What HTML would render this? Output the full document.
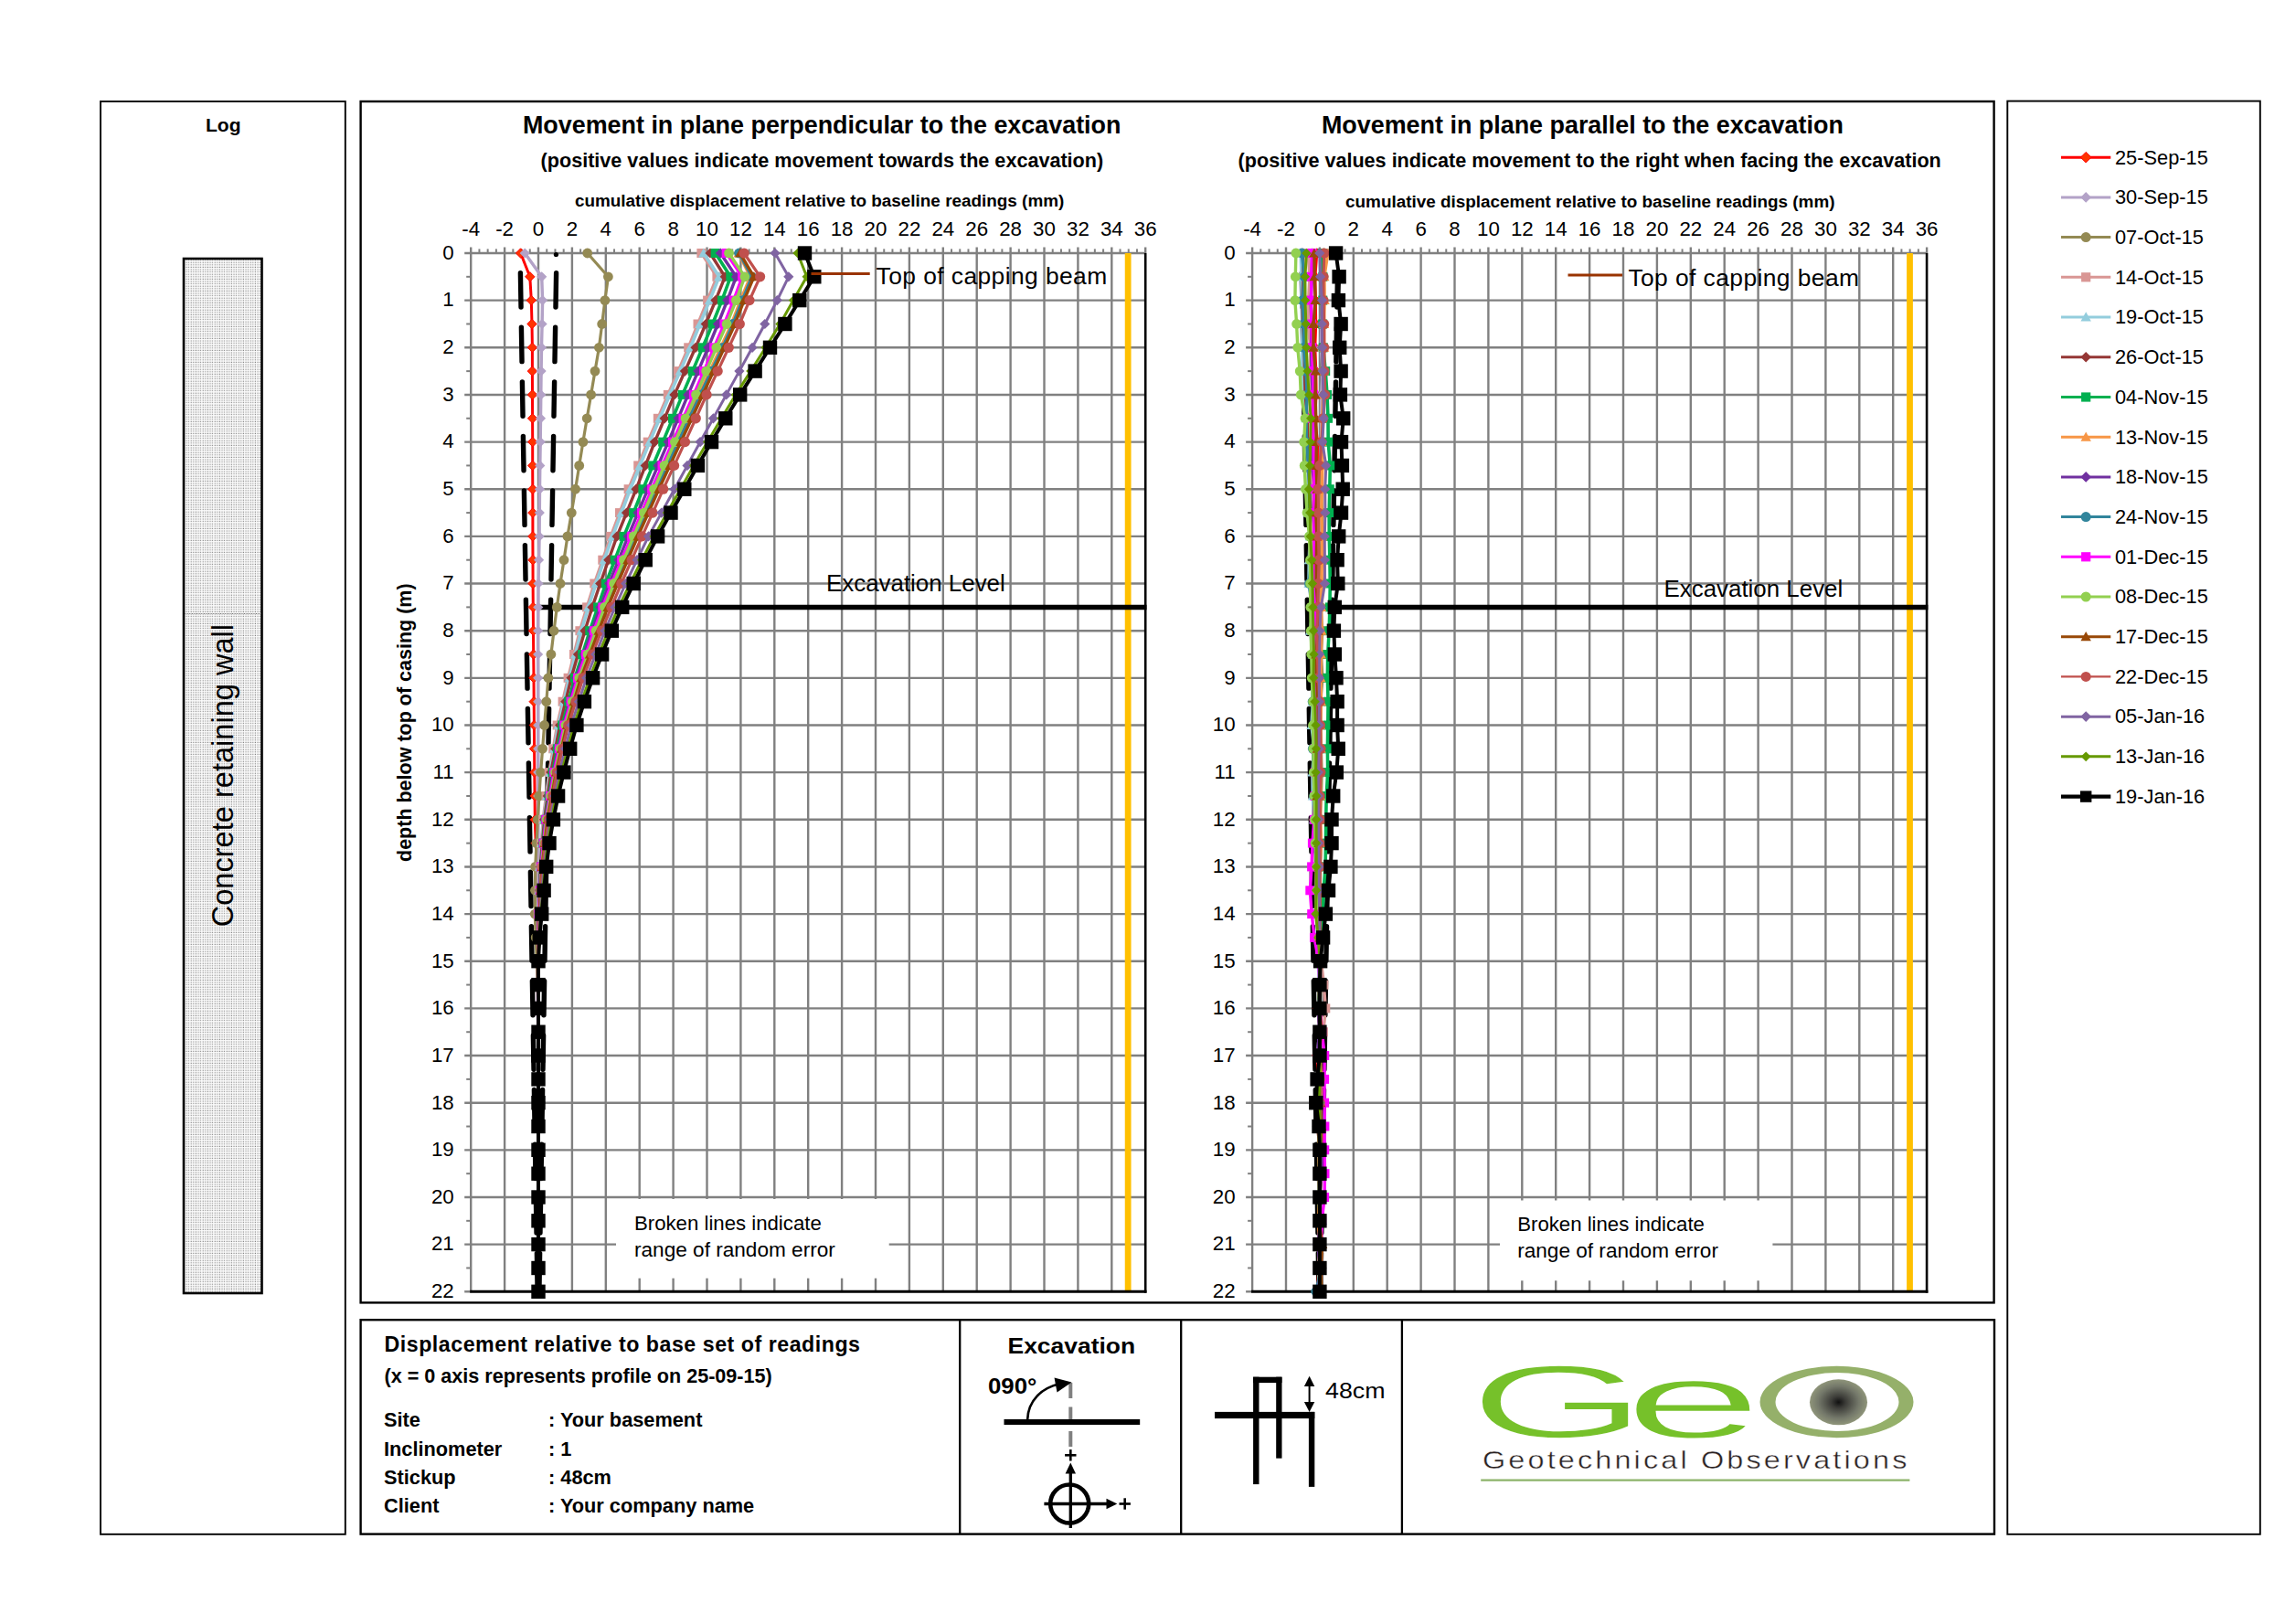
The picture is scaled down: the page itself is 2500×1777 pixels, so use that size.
<!DOCTYPE html>
<html lang="en"><head><meta charset="utf-8"><title>Inclinometer 1 - displacement relative to base set of readings</title>
<style>html,body{margin:0;padding:0;background:#fff}body{width:2500px;height:1777px;overflow:hidden}svg{display:block}</style></head>
<body>
<svg width="2500" height="1777" viewBox="0 0 2500 1777" font-family='"Liberation Sans", sans-serif'>
<defs><pattern id="dots" width="2.6" height="2.6" patternUnits="userSpaceOnUse"><rect width="2.6" height="2.6" fill="#fbfbfb"/><rect x="0.6" y="0.6" width="1.15" height="1.15" fill="#888"/></pattern><radialGradient id="pupil" cx="50%" cy="50%" r="50%"><stop offset="0" stop-color="#111"/><stop offset="0.25" stop-color="#3c3c38"/><stop offset="0.7" stop-color="#74786a"/><stop offset="1" stop-color="#8f957a"/></radialGradient></defs>
<rect x="0.00" y="0.00" width="2500.00" height="1777.00" fill="#fff" stroke="none" stroke-width="0" />
<rect x="110.00" y="111.00" width="267.80" height="1567.80" fill="none" stroke="#000" stroke-width="1.9" />
<rect x="394.60" y="111.00" width="1787.00" height="1314.40" fill="none" stroke="#000" stroke-width="2.4" />
<rect x="2196.30" y="110.60" width="276.50" height="1568.20" fill="none" stroke="#000" stroke-width="1.9" />
<rect x="394.60" y="1444.20" width="1787.40" height="234.40" fill="none" stroke="#000" stroke-width="2.4" />
<line x1="1050.20" y1="1444.20" x2="1050.20" y2="1678.60" stroke="#000" stroke-width="2.3" />
<line x1="1292.20" y1="1444.20" x2="1292.20" y2="1678.60" stroke="#000" stroke-width="2.3" />
<line x1="1533.90" y1="1444.20" x2="1533.90" y2="1678.60" stroke="#000" stroke-width="2.3" />
<text x="244.3" y="144.2" font-size="21" font-weight="bold" text-anchor="middle" fill="#000" >Log</text>
<rect x="201.00" y="283.00" width="85.50" height="1132.00" fill="url(#dots)" stroke="#000" stroke-width="2.6" />
<line x1="202.00" y1="671.50" x2="285.50" y2="671.50" stroke="#777" stroke-width="1.1" stroke-dasharray="1.1 1.5"/>
<text transform="translate(255.4,1014.3) rotate(-90)" font-size="32.6">Concrete retaining wall</text>
<text x="899.2" y="146.0" font-size="26.9" font-weight="bold" text-anchor="middle" fill="#000" >Movement in plane perpendicular to the excavation</text>
<text x="899.4" y="183.1" font-size="21.6" font-weight="bold" text-anchor="middle" fill="#000" >(positive values indicate movement towards the excavation)</text>
<text x="896.6" y="226.3" font-size="18.9" font-weight="bold" text-anchor="middle" fill="#000" >cumulative displacement relative to baseline readings (mm)</text>
<text x="1731.4" y="145.9" font-size="26.9" font-weight="bold" text-anchor="middle" fill="#000" >Movement in plane parallel to the excavation</text>
<text x="1739.2" y="182.9" font-size="21.6" font-weight="bold" text-anchor="middle" fill="#000" >(positive values indicate movement to the right when facing the excavation</text>
<text x="1739.8" y="226.5" font-size="18.9" font-weight="bold" text-anchor="middle" fill="#000" >cumulative displacement relative to baseline readings (mm)</text>
<text transform="translate(450.3,943) rotate(-90)" font-size="21.5" font-weight="bold">depth below top of casing (m)</text>
<line x1="515.20" y1="270.50" x2="515.20" y2="1413.30" stroke="#808080" stroke-width="2.4" />
<line x1="552.10" y1="270.50" x2="552.10" y2="1413.30" stroke="#808080" stroke-width="2.4" />
<line x1="589.00" y1="270.50" x2="589.00" y2="1413.30" stroke="#808080" stroke-width="2.4" />
<line x1="625.90" y1="270.50" x2="625.90" y2="1413.30" stroke="#808080" stroke-width="2.4" />
<line x1="662.80" y1="270.50" x2="662.80" y2="1413.30" stroke="#808080" stroke-width="2.4" />
<line x1="699.70" y1="270.50" x2="699.70" y2="1413.30" stroke="#808080" stroke-width="2.4" />
<line x1="736.60" y1="270.50" x2="736.60" y2="1413.30" stroke="#808080" stroke-width="2.4" />
<line x1="773.50" y1="270.50" x2="773.50" y2="1413.30" stroke="#808080" stroke-width="2.4" />
<line x1="810.40" y1="270.50" x2="810.40" y2="1413.30" stroke="#808080" stroke-width="2.4" />
<line x1="847.30" y1="270.50" x2="847.30" y2="1413.30" stroke="#808080" stroke-width="2.4" />
<line x1="884.20" y1="270.50" x2="884.20" y2="1413.30" stroke="#808080" stroke-width="2.4" />
<line x1="921.10" y1="270.50" x2="921.10" y2="1413.30" stroke="#808080" stroke-width="2.4" />
<line x1="958.00" y1="270.50" x2="958.00" y2="1413.30" stroke="#808080" stroke-width="2.4" />
<line x1="994.90" y1="270.50" x2="994.90" y2="1413.30" stroke="#808080" stroke-width="2.4" />
<line x1="1031.80" y1="270.50" x2="1031.80" y2="1413.30" stroke="#808080" stroke-width="2.4" />
<line x1="1068.70" y1="270.50" x2="1068.70" y2="1413.30" stroke="#808080" stroke-width="2.4" />
<line x1="1105.60" y1="270.50" x2="1105.60" y2="1413.30" stroke="#808080" stroke-width="2.4" />
<line x1="1142.50" y1="270.50" x2="1142.50" y2="1413.30" stroke="#808080" stroke-width="2.4" />
<line x1="1179.40" y1="270.50" x2="1179.40" y2="1413.30" stroke="#808080" stroke-width="2.4" />
<line x1="1216.30" y1="270.50" x2="1216.30" y2="1413.30" stroke="#808080" stroke-width="2.4" />
<line x1="1253.20" y1="270.50" x2="1253.20" y2="277.00" stroke="#808080" stroke-width="2.4" />
<line x1="524.43" y1="272.40" x2="524.43" y2="277.00" stroke="#808080" stroke-width="2.0" />
<line x1="533.65" y1="272.40" x2="533.65" y2="277.00" stroke="#808080" stroke-width="2.0" />
<line x1="542.88" y1="272.40" x2="542.88" y2="277.00" stroke="#808080" stroke-width="2.0" />
<line x1="561.33" y1="272.40" x2="561.33" y2="277.00" stroke="#808080" stroke-width="2.0" />
<line x1="570.55" y1="272.40" x2="570.55" y2="277.00" stroke="#808080" stroke-width="2.0" />
<line x1="579.78" y1="272.40" x2="579.78" y2="277.00" stroke="#808080" stroke-width="2.0" />
<line x1="598.23" y1="272.40" x2="598.23" y2="277.00" stroke="#808080" stroke-width="2.0" />
<line x1="607.45" y1="272.40" x2="607.45" y2="277.00" stroke="#808080" stroke-width="2.0" />
<line x1="616.68" y1="272.40" x2="616.68" y2="277.00" stroke="#808080" stroke-width="2.0" />
<line x1="635.12" y1="272.40" x2="635.12" y2="277.00" stroke="#808080" stroke-width="2.0" />
<line x1="644.35" y1="272.40" x2="644.35" y2="277.00" stroke="#808080" stroke-width="2.0" />
<line x1="653.58" y1="272.40" x2="653.58" y2="277.00" stroke="#808080" stroke-width="2.0" />
<line x1="672.03" y1="272.40" x2="672.03" y2="277.00" stroke="#808080" stroke-width="2.0" />
<line x1="681.25" y1="272.40" x2="681.25" y2="277.00" stroke="#808080" stroke-width="2.0" />
<line x1="690.48" y1="272.40" x2="690.48" y2="277.00" stroke="#808080" stroke-width="2.0" />
<line x1="708.93" y1="272.40" x2="708.93" y2="277.00" stroke="#808080" stroke-width="2.0" />
<line x1="718.15" y1="272.40" x2="718.15" y2="277.00" stroke="#808080" stroke-width="2.0" />
<line x1="727.38" y1="272.40" x2="727.38" y2="277.00" stroke="#808080" stroke-width="2.0" />
<line x1="745.83" y1="272.40" x2="745.83" y2="277.00" stroke="#808080" stroke-width="2.0" />
<line x1="755.05" y1="272.40" x2="755.05" y2="277.00" stroke="#808080" stroke-width="2.0" />
<line x1="764.28" y1="272.40" x2="764.28" y2="277.00" stroke="#808080" stroke-width="2.0" />
<line x1="782.73" y1="272.40" x2="782.73" y2="277.00" stroke="#808080" stroke-width="2.0" />
<line x1="791.95" y1="272.40" x2="791.95" y2="277.00" stroke="#808080" stroke-width="2.0" />
<line x1="801.17" y1="272.40" x2="801.17" y2="277.00" stroke="#808080" stroke-width="2.0" />
<line x1="819.62" y1="272.40" x2="819.62" y2="277.00" stroke="#808080" stroke-width="2.0" />
<line x1="828.85" y1="272.40" x2="828.85" y2="277.00" stroke="#808080" stroke-width="2.0" />
<line x1="838.08" y1="272.40" x2="838.08" y2="277.00" stroke="#808080" stroke-width="2.0" />
<line x1="856.53" y1="272.40" x2="856.53" y2="277.00" stroke="#808080" stroke-width="2.0" />
<line x1="865.75" y1="272.40" x2="865.75" y2="277.00" stroke="#808080" stroke-width="2.0" />
<line x1="874.98" y1="272.40" x2="874.98" y2="277.00" stroke="#808080" stroke-width="2.0" />
<line x1="893.42" y1="272.40" x2="893.42" y2="277.00" stroke="#808080" stroke-width="2.0" />
<line x1="902.65" y1="272.40" x2="902.65" y2="277.00" stroke="#808080" stroke-width="2.0" />
<line x1="911.88" y1="272.40" x2="911.88" y2="277.00" stroke="#808080" stroke-width="2.0" />
<line x1="930.33" y1="272.40" x2="930.33" y2="277.00" stroke="#808080" stroke-width="2.0" />
<line x1="939.55" y1="272.40" x2="939.55" y2="277.00" stroke="#808080" stroke-width="2.0" />
<line x1="948.78" y1="272.40" x2="948.78" y2="277.00" stroke="#808080" stroke-width="2.0" />
<line x1="967.23" y1="272.40" x2="967.23" y2="277.00" stroke="#808080" stroke-width="2.0" />
<line x1="976.45" y1="272.40" x2="976.45" y2="277.00" stroke="#808080" stroke-width="2.0" />
<line x1="985.67" y1="272.40" x2="985.67" y2="277.00" stroke="#808080" stroke-width="2.0" />
<line x1="1004.12" y1="272.40" x2="1004.12" y2="277.00" stroke="#808080" stroke-width="2.0" />
<line x1="1013.35" y1="272.40" x2="1013.35" y2="277.00" stroke="#808080" stroke-width="2.0" />
<line x1="1022.58" y1="272.40" x2="1022.58" y2="277.00" stroke="#808080" stroke-width="2.0" />
<line x1="1041.03" y1="272.40" x2="1041.03" y2="277.00" stroke="#808080" stroke-width="2.0" />
<line x1="1050.25" y1="272.40" x2="1050.25" y2="277.00" stroke="#808080" stroke-width="2.0" />
<line x1="1059.47" y1="272.40" x2="1059.47" y2="277.00" stroke="#808080" stroke-width="2.0" />
<line x1="1077.93" y1="272.40" x2="1077.93" y2="277.00" stroke="#808080" stroke-width="2.0" />
<line x1="1087.15" y1="272.40" x2="1087.15" y2="277.00" stroke="#808080" stroke-width="2.0" />
<line x1="1096.38" y1="272.40" x2="1096.38" y2="277.00" stroke="#808080" stroke-width="2.0" />
<line x1="1114.83" y1="272.40" x2="1114.83" y2="277.00" stroke="#808080" stroke-width="2.0" />
<line x1="1124.05" y1="272.40" x2="1124.05" y2="277.00" stroke="#808080" stroke-width="2.0" />
<line x1="1133.28" y1="272.40" x2="1133.28" y2="277.00" stroke="#808080" stroke-width="2.0" />
<line x1="1151.72" y1="272.40" x2="1151.72" y2="277.00" stroke="#808080" stroke-width="2.0" />
<line x1="1160.95" y1="272.40" x2="1160.95" y2="277.00" stroke="#808080" stroke-width="2.0" />
<line x1="1170.18" y1="272.40" x2="1170.18" y2="277.00" stroke="#808080" stroke-width="2.0" />
<line x1="1188.62" y1="272.40" x2="1188.62" y2="277.00" stroke="#808080" stroke-width="2.0" />
<line x1="1197.85" y1="272.40" x2="1197.85" y2="277.00" stroke="#808080" stroke-width="2.0" />
<line x1="1207.08" y1="272.40" x2="1207.08" y2="277.00" stroke="#808080" stroke-width="2.0" />
<line x1="1225.53" y1="272.40" x2="1225.53" y2="277.00" stroke="#808080" stroke-width="2.0" />
<line x1="1234.75" y1="272.40" x2="1234.75" y2="277.00" stroke="#808080" stroke-width="2.0" />
<line x1="1243.97" y1="272.40" x2="1243.97" y2="277.00" stroke="#808080" stroke-width="2.0" />
<line x1="508.20" y1="277.00" x2="1253.20" y2="277.00" stroke="#808080" stroke-width="2.4" />
<line x1="508.20" y1="328.65" x2="1253.20" y2="328.65" stroke="#808080" stroke-width="2.4" />
<line x1="508.20" y1="380.30" x2="1253.20" y2="380.30" stroke="#808080" stroke-width="2.4" />
<line x1="508.20" y1="431.95" x2="1253.20" y2="431.95" stroke="#808080" stroke-width="2.4" />
<line x1="508.20" y1="483.60" x2="1253.20" y2="483.60" stroke="#808080" stroke-width="2.4" />
<line x1="508.20" y1="535.25" x2="1253.20" y2="535.25" stroke="#808080" stroke-width="2.4" />
<line x1="508.20" y1="586.90" x2="1253.20" y2="586.90" stroke="#808080" stroke-width="2.4" />
<line x1="508.20" y1="638.55" x2="1253.20" y2="638.55" stroke="#808080" stroke-width="2.4" />
<line x1="508.20" y1="690.20" x2="1253.20" y2="690.20" stroke="#808080" stroke-width="2.4" />
<line x1="508.20" y1="741.85" x2="1253.20" y2="741.85" stroke="#808080" stroke-width="2.4" />
<line x1="508.20" y1="793.50" x2="1253.20" y2="793.50" stroke="#808080" stroke-width="2.4" />
<line x1="508.20" y1="845.15" x2="1253.20" y2="845.15" stroke="#808080" stroke-width="2.4" />
<line x1="508.20" y1="896.80" x2="1253.20" y2="896.80" stroke="#808080" stroke-width="2.4" />
<line x1="508.20" y1="948.45" x2="1253.20" y2="948.45" stroke="#808080" stroke-width="2.4" />
<line x1="508.20" y1="1000.10" x2="1253.20" y2="1000.10" stroke="#808080" stroke-width="2.4" />
<line x1="508.20" y1="1051.75" x2="1253.20" y2="1051.75" stroke="#808080" stroke-width="2.4" />
<line x1="508.20" y1="1103.40" x2="1253.20" y2="1103.40" stroke="#808080" stroke-width="2.4" />
<line x1="508.20" y1="1155.05" x2="1253.20" y2="1155.05" stroke="#808080" stroke-width="2.4" />
<line x1="508.20" y1="1206.70" x2="1253.20" y2="1206.70" stroke="#808080" stroke-width="2.4" />
<line x1="508.20" y1="1258.35" x2="1253.20" y2="1258.35" stroke="#808080" stroke-width="2.4" />
<line x1="508.20" y1="1310.00" x2="1253.20" y2="1310.00" stroke="#808080" stroke-width="2.4" />
<line x1="508.20" y1="1361.65" x2="1253.20" y2="1361.65" stroke="#808080" stroke-width="2.4" />
<line x1="508.20" y1="1413.30" x2="515.20" y2="1413.30" stroke="#808080" stroke-width="2.4" />
<line x1="510.20" y1="302.82" x2="515.20" y2="302.82" stroke="#808080" stroke-width="2.0" />
<line x1="510.20" y1="354.48" x2="515.20" y2="354.48" stroke="#808080" stroke-width="2.0" />
<line x1="510.20" y1="406.12" x2="515.20" y2="406.12" stroke="#808080" stroke-width="2.0" />
<line x1="510.20" y1="457.77" x2="515.20" y2="457.77" stroke="#808080" stroke-width="2.0" />
<line x1="510.20" y1="509.42" x2="515.20" y2="509.42" stroke="#808080" stroke-width="2.0" />
<line x1="510.20" y1="561.08" x2="515.20" y2="561.08" stroke="#808080" stroke-width="2.0" />
<line x1="510.20" y1="612.72" x2="515.20" y2="612.72" stroke="#808080" stroke-width="2.0" />
<line x1="510.20" y1="664.38" x2="515.20" y2="664.38" stroke="#808080" stroke-width="2.0" />
<line x1="510.20" y1="716.02" x2="515.20" y2="716.02" stroke="#808080" stroke-width="2.0" />
<line x1="510.20" y1="767.67" x2="515.20" y2="767.67" stroke="#808080" stroke-width="2.0" />
<line x1="510.20" y1="819.32" x2="515.20" y2="819.32" stroke="#808080" stroke-width="2.0" />
<line x1="510.20" y1="870.98" x2="515.20" y2="870.98" stroke="#808080" stroke-width="2.0" />
<line x1="510.20" y1="922.62" x2="515.20" y2="922.62" stroke="#808080" stroke-width="2.0" />
<line x1="510.20" y1="974.27" x2="515.20" y2="974.27" stroke="#808080" stroke-width="2.0" />
<line x1="510.20" y1="1025.92" x2="515.20" y2="1025.92" stroke="#808080" stroke-width="2.0" />
<line x1="510.20" y1="1077.57" x2="515.20" y2="1077.57" stroke="#808080" stroke-width="2.0" />
<line x1="510.20" y1="1129.22" x2="515.20" y2="1129.22" stroke="#808080" stroke-width="2.0" />
<line x1="510.20" y1="1180.88" x2="515.20" y2="1180.88" stroke="#808080" stroke-width="2.0" />
<line x1="510.20" y1="1232.53" x2="515.20" y2="1232.53" stroke="#808080" stroke-width="2.0" />
<line x1="510.20" y1="1284.17" x2="515.20" y2="1284.17" stroke="#808080" stroke-width="2.0" />
<line x1="510.20" y1="1335.83" x2="515.20" y2="1335.83" stroke="#808080" stroke-width="2.0" />
<line x1="510.20" y1="1387.47" x2="515.20" y2="1387.47" stroke="#808080" stroke-width="2.0" />
<line x1="1234.15" y1="277.00" x2="1234.15" y2="1413.30" stroke="#FFC000" stroke-width="6.8" />
<line x1="1253.20" y1="277.00" x2="1253.20" y2="1414.80" stroke="#000" stroke-width="2.6" />
<line x1="514.20" y1="1413.30" x2="1254.50" y2="1413.30" stroke="#000" stroke-width="3" />
<line x1="589.00" y1="664.38" x2="1254.50" y2="664.38" stroke="#000" stroke-width="5.5" />
<line x1="569.4" y1="298.7" x2="588.1" y2="1413.3" stroke="#000" stroke-width="5.4" stroke-linecap="round" stroke-dasharray="37.3 22.3"/>
<line x1="608.6" y1="298.7" x2="589.9" y2="1413.3" stroke="#000" stroke-width="5.4" stroke-linecap="round" stroke-dasharray="37.3 22.3"/>
<circle cx="608.4" cy="278.5" r="2.6" fill="#000"/>
<polyline points="569.6,277.0 579.8,302.8 581.3,328.6 582.0,354.5 582.4,380.3 582.4,406.1 582.5,431.9 582.6,457.8 582.7,483.6 582.7,509.4 582.8,535.2 582.9,561.1 582.9,586.9 583.0,612.7 583.1,638.5 583.3,664.4 583.5,690.2 583.7,716.0 584.0,741.8 584.2,767.7 584.4,793.5 584.6,819.3 584.8,845.1 585.1,871.0 585.3,896.8 586.2,922.6 587.2,948.4 588.1,974.3 589.0,1000.1 589.0,1025.9 589.0,1051.8 589.0,1077.6 589.0,1103.4 589.0,1129.2 589.0,1155.0 589.0,1180.9 589.0,1206.7 589.0,1232.5 589.0,1258.3 589.0,1284.2 589.0,1310.0 589.0,1335.8 589.0,1361.6 589.0,1387.5 589.0,1413.3" fill="none" stroke="#FF0000" stroke-width="3" stroke-linejoin="round"/>
<path d="M569.6 271.8L574.8 277.0L569.6 282.2L564.4 277.0Z" fill="#FF3300" stroke="#FF0000" stroke-width="1"/><path d="M579.8 297.6L585.0 302.8L579.8 308.0L574.6 302.8Z" fill="#FF3300" stroke="#FF0000" stroke-width="1"/><path d="M581.3 323.4L586.5 328.6L581.3 333.8L576.1 328.6Z" fill="#FF3300" stroke="#FF0000" stroke-width="1"/><path d="M582.0 349.3L587.2 354.5L582.0 359.7L576.8 354.5Z" fill="#FF3300" stroke="#FF0000" stroke-width="1"/><path d="M582.4 375.1L587.6 380.3L582.4 385.5L577.2 380.3Z" fill="#FF3300" stroke="#FF0000" stroke-width="1"/><path d="M582.4 400.9L587.6 406.1L582.4 411.3L577.2 406.1Z" fill="#FF3300" stroke="#FF0000" stroke-width="1"/><path d="M582.5 426.8L587.7 431.9L582.5 437.1L577.3 431.9Z" fill="#FF3300" stroke="#FF0000" stroke-width="1"/><path d="M582.6 452.6L587.8 457.8L582.6 463.0L577.4 457.8Z" fill="#FF3300" stroke="#FF0000" stroke-width="1"/><path d="M582.7 478.4L587.9 483.6L582.7 488.8L577.5 483.6Z" fill="#FF3300" stroke="#FF0000" stroke-width="1"/><path d="M582.7 504.2L587.9 509.4L582.7 514.6L577.5 509.4Z" fill="#FF3300" stroke="#FF0000" stroke-width="1"/><path d="M582.8 530.0L588.0 535.2L582.8 540.5L577.6 535.2Z" fill="#FF3300" stroke="#FF0000" stroke-width="1"/><path d="M582.9 555.9L588.1 561.1L582.9 566.3L577.7 561.1Z" fill="#FF3300" stroke="#FF0000" stroke-width="1"/><path d="M582.9 581.7L588.1 586.9L582.9 592.1L577.7 586.9Z" fill="#FF3300" stroke="#FF0000" stroke-width="1"/><path d="M583.0 607.5L588.2 612.7L583.0 617.9L577.8 612.7Z" fill="#FF3300" stroke="#FF0000" stroke-width="1"/><path d="M583.1 633.3L588.3 638.5L583.1 643.8L577.9 638.5Z" fill="#FF3300" stroke="#FF0000" stroke-width="1"/><path d="M583.3 659.2L588.5 664.4L583.3 669.6L578.1 664.4Z" fill="#FF3300" stroke="#FF0000" stroke-width="1"/><path d="M583.5 685.0L588.7 690.2L583.5 695.4L578.3 690.2Z" fill="#FF3300" stroke="#FF0000" stroke-width="1"/><path d="M583.7 710.8L588.9 716.0L583.7 721.2L578.5 716.0Z" fill="#FF3300" stroke="#FF0000" stroke-width="1"/><path d="M584.0 736.6L589.2 741.8L584.0 747.0L578.8 741.8Z" fill="#FF3300" stroke="#FF0000" stroke-width="1"/><path d="M584.2 762.5L589.4 767.7L584.2 772.9L579.0 767.7Z" fill="#FF3300" stroke="#FF0000" stroke-width="1"/><path d="M584.4 788.3L589.6 793.5L584.4 798.7L579.2 793.5Z" fill="#FF3300" stroke="#FF0000" stroke-width="1"/><path d="M584.6 814.1L589.8 819.3L584.6 824.5L579.4 819.3Z" fill="#FF3300" stroke="#FF0000" stroke-width="1"/><path d="M584.8 839.9L590.0 845.1L584.8 850.4L579.6 845.1Z" fill="#FF3300" stroke="#FF0000" stroke-width="1"/><path d="M585.1 865.8L590.3 871.0L585.1 876.2L579.9 871.0Z" fill="#FF3300" stroke="#FF0000" stroke-width="1"/><path d="M585.3 891.6L590.5 896.8L585.3 902.0L580.1 896.8Z" fill="#FF3300" stroke="#FF0000" stroke-width="1"/><path d="M586.2 917.4L591.4 922.6L586.2 927.8L581.0 922.6Z" fill="#FF3300" stroke="#FF0000" stroke-width="1"/><path d="M587.2 943.2L592.4 948.4L587.2 953.6L582.0 948.4Z" fill="#FF3300" stroke="#FF0000" stroke-width="1"/><path d="M588.1 969.1L593.3 974.3L588.1 979.5L582.9 974.3Z" fill="#FF3300" stroke="#FF0000" stroke-width="1"/><path d="M589.0 994.9L594.2 1000.1L589.0 1005.3L583.8 1000.1Z" fill="#FF3300" stroke="#FF0000" stroke-width="1"/><path d="M589.0 1020.7L594.2 1025.9L589.0 1031.1L583.8 1025.9Z" fill="#FF3300" stroke="#FF0000" stroke-width="1"/><path d="M589.0 1046.5L594.2 1051.8L589.0 1057.0L583.8 1051.8Z" fill="#FF3300" stroke="#FF0000" stroke-width="1"/><path d="M589.0 1072.4L594.2 1077.6L589.0 1082.8L583.8 1077.6Z" fill="#FF3300" stroke="#FF0000" stroke-width="1"/><path d="M589.0 1098.2L594.2 1103.4L589.0 1108.6L583.8 1103.4Z" fill="#FF3300" stroke="#FF0000" stroke-width="1"/><path d="M589.0 1124.0L594.2 1129.2L589.0 1134.4L583.8 1129.2Z" fill="#FF3300" stroke="#FF0000" stroke-width="1"/><path d="M589.0 1149.8L594.2 1155.0L589.0 1160.2L583.8 1155.0Z" fill="#FF3300" stroke="#FF0000" stroke-width="1"/><path d="M589.0 1175.7L594.2 1180.9L589.0 1186.1L583.8 1180.9Z" fill="#FF3300" stroke="#FF0000" stroke-width="1"/><path d="M589.0 1201.5L594.2 1206.7L589.0 1211.9L583.8 1206.7Z" fill="#FF3300" stroke="#FF0000" stroke-width="1"/><path d="M589.0 1227.3L594.2 1232.5L589.0 1237.7L583.8 1232.5Z" fill="#FF3300" stroke="#FF0000" stroke-width="1"/><path d="M589.0 1253.1L594.2 1258.3L589.0 1263.5L583.8 1258.3Z" fill="#FF3300" stroke="#FF0000" stroke-width="1"/><path d="M589.0 1279.0L594.2 1284.2L589.0 1289.4L583.8 1284.2Z" fill="#FF3300" stroke="#FF0000" stroke-width="1"/><path d="M589.0 1304.8L594.2 1310.0L589.0 1315.2L583.8 1310.0Z" fill="#FF3300" stroke="#FF0000" stroke-width="1"/><path d="M589.0 1330.6L594.2 1335.8L589.0 1341.0L583.8 1335.8Z" fill="#FF3300" stroke="#FF0000" stroke-width="1"/><path d="M589.0 1356.4L594.2 1361.6L589.0 1366.8L583.8 1361.6Z" fill="#FF3300" stroke="#FF0000" stroke-width="1"/><path d="M589.0 1382.3L594.2 1387.5L589.0 1392.7L583.8 1387.5Z" fill="#FF3300" stroke="#FF0000" stroke-width="1"/><path d="M589.0 1408.1L594.2 1413.3L589.0 1418.5L583.8 1413.3Z" fill="#FF3300" stroke="#FF0000" stroke-width="1"/>
<polyline points="574.2,277.0 592.7,302.8 593.6,328.6 593.1,354.5 592.5,380.3 592.1,406.1 591.8,431.9 591.5,457.8 591.2,483.6 590.8,509.4 590.5,535.2 590.3,561.1 590.1,586.9 589.6,612.7 589.0,638.5 588.8,664.4 588.6,690.2 588.6,716.0 588.7,741.8 588.7,767.7 588.7,793.5 588.7,819.3 588.7,845.1 588.7,871.0 588.7,896.8 588.7,922.6 588.8,948.4 588.8,974.3 588.8,1000.1 588.8,1025.9 588.8,1051.8 588.8,1077.6 588.8,1103.4 588.9,1129.2 588.9,1155.0 588.9,1180.9 588.9,1206.7 588.9,1232.5 588.9,1258.3 588.9,1284.2 588.9,1310.0 589.0,1335.8 589.0,1361.6 589.0,1387.5 589.0,1413.3" fill="none" stroke="#B3A2C7" stroke-width="3.4" stroke-linejoin="round"/>
<path d="M574.2 271.4L579.8 277.0L574.2 282.6L568.6 277.0Z" fill="#B3A2C7"/><path d="M592.7 297.2L598.3 302.8L592.7 308.4L587.1 302.8Z" fill="#B3A2C7"/><path d="M593.6 323.0L599.2 328.6L593.6 334.2L588.0 328.6Z" fill="#B3A2C7"/><path d="M593.1 348.9L598.7 354.5L593.1 360.1L587.5 354.5Z" fill="#B3A2C7"/><path d="M592.5 374.7L598.1 380.3L592.5 385.9L586.9 380.3Z" fill="#B3A2C7"/><path d="M592.1 400.5L597.7 406.1L592.1 411.7L586.5 406.1Z" fill="#B3A2C7"/><path d="M591.8 426.3L597.4 431.9L591.8 437.6L586.2 431.9Z" fill="#B3A2C7"/><path d="M591.5 452.2L597.1 457.8L591.5 463.4L585.9 457.8Z" fill="#B3A2C7"/><path d="M591.2 478.0L596.8 483.6L591.2 489.2L585.6 483.6Z" fill="#B3A2C7"/><path d="M590.8 503.8L596.4 509.4L590.8 515.0L585.2 509.4Z" fill="#B3A2C7"/><path d="M590.5 529.6L596.1 535.2L590.5 540.9L584.9 535.2Z" fill="#B3A2C7"/><path d="M590.3 555.5L595.9 561.1L590.3 566.7L584.7 561.1Z" fill="#B3A2C7"/><path d="M590.1 581.3L595.7 586.9L590.1 592.5L584.5 586.9Z" fill="#B3A2C7"/><path d="M589.6 607.1L595.2 612.7L589.6 618.3L584.0 612.7Z" fill="#B3A2C7"/><path d="M589.0 632.9L594.6 638.5L589.0 644.1L583.4 638.5Z" fill="#B3A2C7"/><path d="M588.8 658.8L594.4 664.4L588.8 670.0L583.2 664.4Z" fill="#B3A2C7"/><path d="M588.6 684.6L594.2 690.2L588.6 695.8L583.0 690.2Z" fill="#B3A2C7"/><path d="M588.6 710.4L594.2 716.0L588.6 721.6L583.0 716.0Z" fill="#B3A2C7"/><path d="M588.7 736.2L594.3 741.8L588.7 747.4L583.1 741.8Z" fill="#B3A2C7"/><path d="M588.7 762.1L594.3 767.7L588.7 773.3L583.1 767.7Z" fill="#B3A2C7"/><path d="M588.7 787.9L594.3 793.5L588.7 799.1L583.1 793.5Z" fill="#B3A2C7"/><path d="M588.7 813.7L594.3 819.3L588.7 824.9L583.1 819.3Z" fill="#B3A2C7"/><path d="M588.7 839.5L594.3 845.1L588.7 850.8L583.1 845.1Z" fill="#B3A2C7"/><path d="M588.7 865.4L594.3 871.0L588.7 876.6L583.1 871.0Z" fill="#B3A2C7"/><path d="M588.7 891.2L594.3 896.8L588.7 902.4L583.1 896.8Z" fill="#B3A2C7"/><path d="M588.7 917.0L594.3 922.6L588.7 928.2L583.1 922.6Z" fill="#B3A2C7"/><path d="M588.8 942.8L594.4 948.4L588.8 954.0L583.2 948.4Z" fill="#B3A2C7"/><path d="M588.8 968.7L594.4 974.3L588.8 979.9L583.2 974.3Z" fill="#B3A2C7"/><path d="M588.8 994.5L594.4 1000.1L588.8 1005.7L583.2 1000.1Z" fill="#B3A2C7"/><path d="M588.8 1020.3L594.4 1025.9L588.8 1031.5L583.2 1025.9Z" fill="#B3A2C7"/><path d="M588.8 1046.2L594.4 1051.8L588.8 1057.3L583.2 1051.8Z" fill="#B3A2C7"/><path d="M588.8 1072.0L594.4 1077.6L588.8 1083.2L583.2 1077.6Z" fill="#B3A2C7"/><path d="M588.8 1097.8L594.4 1103.4L588.8 1109.0L583.2 1103.4Z" fill="#B3A2C7"/><path d="M588.9 1123.6L594.5 1129.2L588.9 1134.8L583.3 1129.2Z" fill="#B3A2C7"/><path d="M588.9 1149.5L594.5 1155.0L588.9 1160.6L583.3 1155.0Z" fill="#B3A2C7"/><path d="M588.9 1175.3L594.5 1180.9L588.9 1186.5L583.3 1180.9Z" fill="#B3A2C7"/><path d="M588.9 1201.1L594.5 1206.7L588.9 1212.3L583.3 1206.7Z" fill="#B3A2C7"/><path d="M588.9 1226.9L594.5 1232.5L588.9 1238.1L583.3 1232.5Z" fill="#B3A2C7"/><path d="M588.9 1252.8L594.5 1258.3L588.9 1263.9L583.3 1258.3Z" fill="#B3A2C7"/><path d="M588.9 1278.6L594.5 1284.2L588.9 1289.8L583.3 1284.2Z" fill="#B3A2C7"/><path d="M588.9 1304.4L594.5 1310.0L588.9 1315.6L583.3 1310.0Z" fill="#B3A2C7"/><path d="M589.0 1330.2L594.6 1335.8L589.0 1341.4L583.4 1335.8Z" fill="#B3A2C7"/><path d="M589.0 1356.0L594.6 1361.6L589.0 1367.2L583.4 1361.6Z" fill="#B3A2C7"/><path d="M589.0 1381.9L594.6 1387.5L589.0 1393.1L583.4 1387.5Z" fill="#B3A2C7"/><path d="M589.0 1407.7L594.6 1413.3L589.0 1418.9L583.4 1413.3Z" fill="#B3A2C7"/>
<polyline points="642.7,277.0 665.4,302.8 661.9,328.6 658.7,354.5 655.4,380.3 651.0,406.1 646.6,431.9 642.2,457.8 637.9,483.6 633.7,509.4 629.6,535.2 625.3,561.1 620.9,586.9 617.0,612.7 613.0,638.5 609.3,664.4 606.0,690.2 602.9,716.0 599.9,741.8 597.8,767.7 595.6,793.5 593.6,819.3 591.6,845.1 589.9,871.0 588.3,896.8 587.0,922.6 585.7,948.4 585.5,974.3 585.3,1000.1 586.2,1025.9 587.2,1051.8 588.1,1077.6 589.0,1103.4 589.0,1129.2 589.0,1155.0 589.0,1180.9 589.0,1206.7 589.0,1232.5 589.0,1258.3 589.0,1284.2 589.0,1310.0 589.0,1335.8 589.0,1361.6 589.0,1387.5 589.0,1413.3" fill="none" stroke="#948A54" stroke-width="3.2" stroke-linejoin="round"/>
<circle cx="642.7" cy="277.0" r="5.4" fill="#948A54"/><circle cx="665.4" cy="302.8" r="5.4" fill="#948A54"/><circle cx="661.9" cy="328.6" r="5.4" fill="#948A54"/><circle cx="658.7" cy="354.5" r="5.4" fill="#948A54"/><circle cx="655.4" cy="380.3" r="5.4" fill="#948A54"/><circle cx="651.0" cy="406.1" r="5.4" fill="#948A54"/><circle cx="646.6" cy="431.9" r="5.4" fill="#948A54"/><circle cx="642.2" cy="457.8" r="5.4" fill="#948A54"/><circle cx="637.9" cy="483.6" r="5.4" fill="#948A54"/><circle cx="633.7" cy="509.4" r="5.4" fill="#948A54"/><circle cx="629.6" cy="535.2" r="5.4" fill="#948A54"/><circle cx="625.3" cy="561.1" r="5.4" fill="#948A54"/><circle cx="620.9" cy="586.9" r="5.4" fill="#948A54"/><circle cx="617.0" cy="612.7" r="5.4" fill="#948A54"/><circle cx="613.0" cy="638.5" r="5.4" fill="#948A54"/><circle cx="609.3" cy="664.4" r="5.4" fill="#948A54"/><circle cx="606.0" cy="690.2" r="5.4" fill="#948A54"/><circle cx="602.9" cy="716.0" r="5.4" fill="#948A54"/><circle cx="599.9" cy="741.8" r="5.4" fill="#948A54"/><circle cx="597.8" cy="767.7" r="5.4" fill="#948A54"/><circle cx="595.6" cy="793.5" r="5.4" fill="#948A54"/><circle cx="593.6" cy="819.3" r="5.4" fill="#948A54"/><circle cx="591.6" cy="845.1" r="5.4" fill="#948A54"/><circle cx="589.9" cy="871.0" r="5.4" fill="#948A54"/><circle cx="588.3" cy="896.8" r="5.4" fill="#948A54"/><circle cx="587.0" cy="922.6" r="5.4" fill="#948A54"/><circle cx="585.7" cy="948.4" r="5.4" fill="#948A54"/><circle cx="585.5" cy="974.3" r="5.4" fill="#948A54"/><circle cx="585.3" cy="1000.1" r="5.4" fill="#948A54"/><circle cx="586.2" cy="1025.9" r="5.4" fill="#948A54"/><circle cx="587.2" cy="1051.8" r="5.4" fill="#948A54"/><circle cx="588.1" cy="1077.6" r="5.4" fill="#948A54"/><circle cx="589.0" cy="1103.4" r="5.4" fill="#948A54"/><circle cx="589.0" cy="1129.2" r="5.4" fill="#948A54"/><circle cx="589.0" cy="1155.0" r="5.4" fill="#948A54"/><circle cx="589.0" cy="1180.9" r="5.4" fill="#948A54"/><circle cx="589.0" cy="1206.7" r="5.4" fill="#948A54"/><circle cx="589.0" cy="1232.5" r="5.4" fill="#948A54"/><circle cx="589.0" cy="1258.3" r="5.4" fill="#948A54"/><circle cx="589.0" cy="1284.2" r="5.4" fill="#948A54"/><circle cx="589.0" cy="1310.0" r="5.4" fill="#948A54"/><circle cx="589.0" cy="1335.8" r="5.4" fill="#948A54"/><circle cx="589.0" cy="1361.6" r="5.4" fill="#948A54"/><circle cx="589.0" cy="1387.5" r="5.4" fill="#948A54"/><circle cx="589.0" cy="1413.3" r="5.4" fill="#948A54"/>
<polyline points="767.4,277.0 784.4,302.8 774.1,328.6 763.5,354.5 753.2,380.3 742.0,406.1 730.8,431.9 719.8,457.8 708.7,483.6 698.2,509.4 687.6,535.2 678.0,561.1 668.3,586.9 659.3,612.7 650.3,638.5 642.1,664.4 634.4,690.2 628.0,716.0 621.6,741.8 615.6,767.7 609.7,793.5 605.2,819.3 600.8,845.1 597.5,871.0 594.2,896.8 592.3,922.6 590.5,948.4 589.6,974.3 588.7,1000.1 588.7,1025.9 588.7,1051.8 588.7,1077.6 588.8,1103.4 588.8,1129.2 588.8,1155.0 588.8,1180.9 588.8,1206.7 588.9,1232.5 588.9,1258.3 588.9,1284.2 588.9,1310.0 588.9,1335.8 589.0,1361.6 589.0,1387.5 589.0,1413.3" fill="none" stroke="#D99694" stroke-width="3.4" stroke-linejoin="round"/>
<rect x="762.4" y="272.0" width="10.0" height="10.0" fill="#D99694"/><rect x="779.4" y="297.8" width="10.0" height="10.0" fill="#D99694"/><rect x="769.1" y="323.6" width="10.0" height="10.0" fill="#D99694"/><rect x="758.5" y="349.5" width="10.0" height="10.0" fill="#D99694"/><rect x="748.2" y="375.3" width="10.0" height="10.0" fill="#D99694"/><rect x="737.0" y="401.1" width="10.0" height="10.0" fill="#D99694"/><rect x="725.8" y="426.9" width="10.0" height="10.0" fill="#D99694"/><rect x="714.8" y="452.8" width="10.0" height="10.0" fill="#D99694"/><rect x="703.7" y="478.6" width="10.0" height="10.0" fill="#D99694"/><rect x="693.2" y="504.4" width="10.0" height="10.0" fill="#D99694"/><rect x="682.6" y="530.2" width="10.0" height="10.0" fill="#D99694"/><rect x="673.0" y="556.1" width="10.0" height="10.0" fill="#D99694"/><rect x="663.3" y="581.9" width="10.0" height="10.0" fill="#D99694"/><rect x="654.3" y="607.7" width="10.0" height="10.0" fill="#D99694"/><rect x="645.3" y="633.5" width="10.0" height="10.0" fill="#D99694"/><rect x="637.1" y="659.4" width="10.0" height="10.0" fill="#D99694"/><rect x="629.4" y="685.2" width="10.0" height="10.0" fill="#D99694"/><rect x="623.0" y="711.0" width="10.0" height="10.0" fill="#D99694"/><rect x="616.6" y="736.8" width="10.0" height="10.0" fill="#D99694"/><rect x="610.6" y="762.7" width="10.0" height="10.0" fill="#D99694"/><rect x="604.7" y="788.5" width="10.0" height="10.0" fill="#D99694"/><rect x="600.2" y="814.3" width="10.0" height="10.0" fill="#D99694"/><rect x="595.8" y="840.1" width="10.0" height="10.0" fill="#D99694"/><rect x="592.5" y="866.0" width="10.0" height="10.0" fill="#D99694"/><rect x="589.2" y="891.8" width="10.0" height="10.0" fill="#D99694"/><rect x="587.3" y="917.6" width="10.0" height="10.0" fill="#D99694"/><rect x="585.5" y="943.4" width="10.0" height="10.0" fill="#D99694"/><rect x="584.6" y="969.3" width="10.0" height="10.0" fill="#D99694"/><rect x="583.7" y="995.1" width="10.0" height="10.0" fill="#D99694"/><rect x="583.7" y="1020.9" width="10.0" height="10.0" fill="#D99694"/><rect x="583.7" y="1046.8" width="10.0" height="10.0" fill="#D99694"/><rect x="583.7" y="1072.6" width="10.0" height="10.0" fill="#D99694"/><rect x="583.8" y="1098.4" width="10.0" height="10.0" fill="#D99694"/><rect x="583.8" y="1124.2" width="10.0" height="10.0" fill="#D99694"/><rect x="583.8" y="1150.0" width="10.0" height="10.0" fill="#D99694"/><rect x="583.8" y="1175.9" width="10.0" height="10.0" fill="#D99694"/><rect x="583.8" y="1201.7" width="10.0" height="10.0" fill="#D99694"/><rect x="583.9" y="1227.5" width="10.0" height="10.0" fill="#D99694"/><rect x="583.9" y="1253.3" width="10.0" height="10.0" fill="#D99694"/><rect x="583.9" y="1279.2" width="10.0" height="10.0" fill="#D99694"/><rect x="583.9" y="1305.0" width="10.0" height="10.0" fill="#D99694"/><rect x="583.9" y="1330.8" width="10.0" height="10.0" fill="#D99694"/><rect x="584.0" y="1356.6" width="10.0" height="10.0" fill="#D99694"/><rect x="584.0" y="1382.5" width="10.0" height="10.0" fill="#D99694"/><rect x="584.0" y="1408.3" width="10.0" height="10.0" fill="#D99694"/>
<polyline points="769.8,277.0 786.8,302.8 776.5,328.6 765.8,354.5 755.4,380.3 744.2,406.1 732.9,431.9 721.8,457.8 710.8,483.6 700.2,509.4 689.6,535.2 679.9,561.1 670.2,586.9 661.1,612.7 652.1,638.5 643.8,664.4 636.0,690.2 629.6,716.0 623.1,741.8 617.1,767.7 611.1,793.5 606.5,819.3 601.9,845.1 598.4,871.0 594.9,896.8 592.9,922.6 590.8,948.4 589.9,974.3 589.0,1000.1 589.0,1025.9 589.0,1051.8 589.0,1077.6 589.0,1103.4 589.0,1129.2 589.0,1155.0 589.0,1180.9 589.0,1206.7 589.0,1232.5 589.0,1258.3 589.0,1284.2 589.0,1310.0 589.0,1335.8 589.0,1361.6 589.0,1387.5 589.0,1413.3" fill="none" stroke="#93CDDD" stroke-width="3.6" stroke-linejoin="round"/>
<path d="M769.8 271.4L775.4 281.5L764.2 281.5Z" fill="#93CDDD"/><path d="M786.8 297.2L792.4 307.3L781.2 307.3Z" fill="#93CDDD"/><path d="M776.5 323.0L782.1 333.1L770.9 333.1Z" fill="#93CDDD"/><path d="M765.8 348.9L771.4 359.0L760.2 359.0Z" fill="#93CDDD"/><path d="M755.4 374.7L761.0 384.8L749.8 384.8Z" fill="#93CDDD"/><path d="M744.2 400.5L749.8 410.6L738.6 410.6Z" fill="#93CDDD"/><path d="M732.9 426.3L738.5 436.4L727.3 436.4Z" fill="#93CDDD"/><path d="M721.8 452.2L727.4 462.3L716.2 462.3Z" fill="#93CDDD"/><path d="M710.8 478.0L716.4 488.1L705.2 488.1Z" fill="#93CDDD"/><path d="M700.2 503.8L705.8 513.9L694.6 513.9Z" fill="#93CDDD"/><path d="M689.6 529.6L695.2 539.7L684.0 539.7Z" fill="#93CDDD"/><path d="M679.9 555.5L685.5 565.6L674.3 565.6Z" fill="#93CDDD"/><path d="M670.2 581.3L675.8 591.4L664.6 591.4Z" fill="#93CDDD"/><path d="M661.1 607.1L666.7 617.2L655.5 617.2Z" fill="#93CDDD"/><path d="M652.1 632.9L657.7 643.0L646.5 643.0Z" fill="#93CDDD"/><path d="M643.8 658.8L649.4 668.9L638.2 668.9Z" fill="#93CDDD"/><path d="M636.0 684.6L641.6 694.7L630.4 694.7Z" fill="#93CDDD"/><path d="M629.6 710.4L635.2 720.5L624.0 720.5Z" fill="#93CDDD"/><path d="M623.1 736.2L628.7 746.3L617.5 746.3Z" fill="#93CDDD"/><path d="M617.1 762.1L622.7 772.2L611.5 772.2Z" fill="#93CDDD"/><path d="M611.1 787.9L616.7 798.0L605.5 798.0Z" fill="#93CDDD"/><path d="M606.5 813.7L612.1 823.8L600.9 823.8Z" fill="#93CDDD"/><path d="M601.9 839.5L607.5 849.6L596.3 849.6Z" fill="#93CDDD"/><path d="M598.4 865.4L604.0 875.5L592.8 875.5Z" fill="#93CDDD"/><path d="M594.9 891.2L600.5 901.3L589.3 901.3Z" fill="#93CDDD"/><path d="M592.9 917.0L598.5 927.1L587.3 927.1Z" fill="#93CDDD"/><path d="M590.8 942.8L596.4 952.9L585.2 952.9Z" fill="#93CDDD"/><path d="M589.9 968.7L595.5 978.8L584.3 978.8Z" fill="#93CDDD"/><path d="M589.0 994.5L594.6 1004.6L583.4 1004.6Z" fill="#93CDDD"/><path d="M589.0 1020.3L594.6 1030.4L583.4 1030.4Z" fill="#93CDDD"/><path d="M589.0 1046.2L594.6 1056.2L583.4 1056.2Z" fill="#93CDDD"/><path d="M589.0 1072.0L594.6 1082.1L583.4 1082.1Z" fill="#93CDDD"/><path d="M589.0 1097.8L594.6 1107.9L583.4 1107.9Z" fill="#93CDDD"/><path d="M589.0 1123.6L594.6 1133.7L583.4 1133.7Z" fill="#93CDDD"/><path d="M589.0 1149.5L594.6 1159.5L583.4 1159.5Z" fill="#93CDDD"/><path d="M589.0 1175.3L594.6 1185.4L583.4 1185.4Z" fill="#93CDDD"/><path d="M589.0 1201.1L594.6 1211.2L583.4 1211.2Z" fill="#93CDDD"/><path d="M589.0 1226.9L594.6 1237.0L583.4 1237.0Z" fill="#93CDDD"/><path d="M589.0 1252.8L594.6 1262.8L583.4 1262.8Z" fill="#93CDDD"/><path d="M589.0 1278.6L594.6 1288.7L583.4 1288.7Z" fill="#93CDDD"/><path d="M589.0 1304.4L594.6 1314.5L583.4 1314.5Z" fill="#93CDDD"/><path d="M589.0 1330.2L594.6 1340.3L583.4 1340.3Z" fill="#93CDDD"/><path d="M589.0 1356.0L594.6 1366.1L583.4 1366.1Z" fill="#93CDDD"/><path d="M589.0 1381.9L594.6 1392.0L583.4 1392.0Z" fill="#93CDDD"/><path d="M589.0 1407.7L594.6 1417.8L583.4 1417.8Z" fill="#93CDDD"/>
<polyline points="777.0,277.0 793.2,302.8 782.9,328.6 772.2,354.5 761.0,380.3 749.4,406.1 737.9,431.9 727.1,457.8 716.3,483.6 706.2,509.4 696.0,535.2 685.5,561.1 675.0,586.9 665.8,612.7 656.7,638.5 648.0,664.4 639.9,690.2 632.4,716.0 625.0,741.8 618.8,767.7 612.6,793.5 607.7,819.3 602.8,845.1 599.2,871.0 595.6,896.8 593.4,922.6 591.2,948.4 590.3,974.3 589.4,1000.1 589.2,1025.9 589.0,1051.8 589.0,1077.6 589.0,1103.4 589.0,1129.2 589.0,1155.0 589.0,1180.9 589.0,1206.7 589.0,1232.5 589.0,1258.3 589.0,1284.2 589.0,1310.0 589.0,1335.8 589.0,1361.6 589.0,1387.5 589.0,1413.3" fill="none" stroke="#953735" stroke-width="3.4" stroke-linejoin="round"/>
<path d="M777.0 271.4L782.6 277.0L777.0 282.6L771.4 277.0Z" fill="#953735"/><path d="M793.2 297.2L798.8 302.8L793.2 308.4L787.6 302.8Z" fill="#953735"/><path d="M782.9 323.0L788.5 328.6L782.9 334.2L777.3 328.6Z" fill="#953735"/><path d="M772.2 348.9L777.8 354.5L772.2 360.1L766.6 354.5Z" fill="#953735"/><path d="M761.0 374.7L766.6 380.3L761.0 385.9L755.4 380.3Z" fill="#953735"/><path d="M749.4 400.5L755.0 406.1L749.4 411.7L743.8 406.1Z" fill="#953735"/><path d="M737.9 426.3L743.5 431.9L737.9 437.6L732.3 431.9Z" fill="#953735"/><path d="M727.1 452.2L732.7 457.8L727.1 463.4L721.5 457.8Z" fill="#953735"/><path d="M716.3 478.0L721.9 483.6L716.3 489.2L710.7 483.6Z" fill="#953735"/><path d="M706.2 503.8L711.8 509.4L706.2 515.0L700.6 509.4Z" fill="#953735"/><path d="M696.0 529.6L701.6 535.2L696.0 540.9L690.4 535.2Z" fill="#953735"/><path d="M685.5 555.5L691.1 561.1L685.5 566.7L679.9 561.1Z" fill="#953735"/><path d="M675.0 581.3L680.6 586.9L675.0 592.5L669.4 586.9Z" fill="#953735"/><path d="M665.8 607.1L671.4 612.7L665.8 618.3L660.2 612.7Z" fill="#953735"/><path d="M656.7 632.9L662.3 638.5L656.7 644.1L651.1 638.5Z" fill="#953735"/><path d="M648.0 658.8L653.6 664.4L648.0 670.0L642.4 664.4Z" fill="#953735"/><path d="M639.9 684.6L645.5 690.2L639.9 695.8L634.3 690.2Z" fill="#953735"/><path d="M632.4 710.4L638.0 716.0L632.4 721.6L626.8 716.0Z" fill="#953735"/><path d="M625.0 736.2L630.6 741.8L625.0 747.4L619.4 741.8Z" fill="#953735"/><path d="M618.8 762.1L624.4 767.7L618.8 773.3L613.2 767.7Z" fill="#953735"/><path d="M612.6 787.9L618.2 793.5L612.6 799.1L607.0 793.5Z" fill="#953735"/><path d="M607.7 813.7L613.3 819.3L607.7 824.9L602.1 819.3Z" fill="#953735"/><path d="M602.8 839.5L608.4 845.1L602.8 850.8L597.2 845.1Z" fill="#953735"/><path d="M599.2 865.4L604.8 871.0L599.2 876.6L593.6 871.0Z" fill="#953735"/><path d="M595.6 891.2L601.2 896.8L595.6 902.4L590.0 896.8Z" fill="#953735"/><path d="M593.4 917.0L599.0 922.6L593.4 928.2L587.8 922.6Z" fill="#953735"/><path d="M591.2 942.8L596.8 948.4L591.2 954.0L585.6 948.4Z" fill="#953735"/><path d="M590.3 968.7L595.9 974.3L590.3 979.9L584.7 974.3Z" fill="#953735"/><path d="M589.4 994.5L595.0 1000.1L589.4 1005.7L583.8 1000.1Z" fill="#953735"/><path d="M589.2 1020.3L594.8 1025.9L589.2 1031.5L583.6 1025.9Z" fill="#953735"/><path d="M589.0 1046.2L594.6 1051.8L589.0 1057.3L583.4 1051.8Z" fill="#953735"/><path d="M589.0 1072.0L594.6 1077.6L589.0 1083.2L583.4 1077.6Z" fill="#953735"/><path d="M589.0 1097.8L594.6 1103.4L589.0 1109.0L583.4 1103.4Z" fill="#953735"/><path d="M589.0 1123.6L594.6 1129.2L589.0 1134.8L583.4 1129.2Z" fill="#953735"/><path d="M589.0 1149.5L594.6 1155.0L589.0 1160.6L583.4 1155.0Z" fill="#953735"/><path d="M589.0 1175.3L594.6 1180.9L589.0 1186.5L583.4 1180.9Z" fill="#953735"/><path d="M589.0 1201.1L594.6 1206.7L589.0 1212.3L583.4 1206.7Z" fill="#953735"/><path d="M589.0 1226.9L594.6 1232.5L589.0 1238.1L583.4 1232.5Z" fill="#953735"/><path d="M589.0 1252.8L594.6 1258.3L589.0 1263.9L583.4 1258.3Z" fill="#953735"/><path d="M589.0 1278.6L594.6 1284.2L589.0 1289.8L583.4 1284.2Z" fill="#953735"/><path d="M589.0 1304.4L594.6 1310.0L589.0 1315.6L583.4 1310.0Z" fill="#953735"/><path d="M589.0 1330.2L594.6 1335.8L589.0 1341.4L583.4 1335.8Z" fill="#953735"/><path d="M589.0 1356.0L594.6 1361.6L589.0 1367.2L583.4 1361.6Z" fill="#953735"/><path d="M589.0 1381.9L594.6 1387.5L589.0 1393.1L583.4 1387.5Z" fill="#953735"/><path d="M589.0 1407.7L594.6 1413.3L589.0 1418.9L583.4 1413.3Z" fill="#953735"/>
<polyline points="782.7,277.0 799.3,302.8 789.9,328.6 779.6,354.5 768.7,380.3 757.7,406.1 746.7,431.9 736.0,457.8 725.2,483.6 714.3,509.4 703.4,535.2 693.0,561.1 682.5,586.9 672.7,612.7 662.8,638.5 654.1,664.4 645.3,690.2 637.2,716.0 629.0,741.8 622.1,767.7 615.2,793.5 609.9,819.3 604.7,845.1 600.7,871.0 596.7,896.8 594.3,922.6 591.8,948.4 590.7,974.3 589.6,1000.1 589.3,1025.9 589.0,1051.8 589.0,1077.6 589.0,1103.4 589.0,1129.2 589.0,1155.0 589.0,1180.9 589.0,1206.7 589.0,1232.5 589.0,1258.3 589.0,1284.2 589.0,1310.0 589.0,1335.8 589.0,1361.6 589.0,1387.5 589.0,1413.3" fill="none" stroke="#00B050" stroke-width="3.6" stroke-linejoin="round"/>
<rect x="777.7" y="272.0" width="10.0" height="10.0" fill="#00B050"/><rect x="794.3" y="297.8" width="10.0" height="10.0" fill="#00B050"/><rect x="784.9" y="323.6" width="10.0" height="10.0" fill="#00B050"/><rect x="774.6" y="349.5" width="10.0" height="10.0" fill="#00B050"/><rect x="763.7" y="375.3" width="10.0" height="10.0" fill="#00B050"/><rect x="752.7" y="401.1" width="10.0" height="10.0" fill="#00B050"/><rect x="741.7" y="426.9" width="10.0" height="10.0" fill="#00B050"/><rect x="731.0" y="452.8" width="10.0" height="10.0" fill="#00B050"/><rect x="720.2" y="478.6" width="10.0" height="10.0" fill="#00B050"/><rect x="709.3" y="504.4" width="10.0" height="10.0" fill="#00B050"/><rect x="698.4" y="530.2" width="10.0" height="10.0" fill="#00B050"/><rect x="688.0" y="556.1" width="10.0" height="10.0" fill="#00B050"/><rect x="677.5" y="581.9" width="10.0" height="10.0" fill="#00B050"/><rect x="667.7" y="607.7" width="10.0" height="10.0" fill="#00B050"/><rect x="657.8" y="633.5" width="10.0" height="10.0" fill="#00B050"/><rect x="649.1" y="659.4" width="10.0" height="10.0" fill="#00B050"/><rect x="640.3" y="685.2" width="10.0" height="10.0" fill="#00B050"/><rect x="632.2" y="711.0" width="10.0" height="10.0" fill="#00B050"/><rect x="624.0" y="736.8" width="10.0" height="10.0" fill="#00B050"/><rect x="617.1" y="762.7" width="10.0" height="10.0" fill="#00B050"/><rect x="610.2" y="788.5" width="10.0" height="10.0" fill="#00B050"/><rect x="604.9" y="814.3" width="10.0" height="10.0" fill="#00B050"/><rect x="599.7" y="840.1" width="10.0" height="10.0" fill="#00B050"/><rect x="595.7" y="866.0" width="10.0" height="10.0" fill="#00B050"/><rect x="591.7" y="891.8" width="10.0" height="10.0" fill="#00B050"/><rect x="589.3" y="917.6" width="10.0" height="10.0" fill="#00B050"/><rect x="586.8" y="943.4" width="10.0" height="10.0" fill="#00B050"/><rect x="585.7" y="969.3" width="10.0" height="10.0" fill="#00B050"/><rect x="584.6" y="995.1" width="10.0" height="10.0" fill="#00B050"/><rect x="584.3" y="1020.9" width="10.0" height="10.0" fill="#00B050"/><rect x="584.0" y="1046.8" width="10.0" height="10.0" fill="#00B050"/><rect x="584.0" y="1072.6" width="10.0" height="10.0" fill="#00B050"/><rect x="584.0" y="1098.4" width="10.0" height="10.0" fill="#00B050"/><rect x="584.0" y="1124.2" width="10.0" height="10.0" fill="#00B050"/><rect x="584.0" y="1150.0" width="10.0" height="10.0" fill="#00B050"/><rect x="584.0" y="1175.9" width="10.0" height="10.0" fill="#00B050"/><rect x="584.0" y="1201.7" width="10.0" height="10.0" fill="#00B050"/><rect x="584.0" y="1227.5" width="10.0" height="10.0" fill="#00B050"/><rect x="584.0" y="1253.3" width="10.0" height="10.0" fill="#00B050"/><rect x="584.0" y="1279.2" width="10.0" height="10.0" fill="#00B050"/><rect x="584.0" y="1305.0" width="10.0" height="10.0" fill="#00B050"/><rect x="584.0" y="1330.8" width="10.0" height="10.0" fill="#00B050"/><rect x="584.0" y="1356.6" width="10.0" height="10.0" fill="#00B050"/><rect x="584.0" y="1382.5" width="10.0" height="10.0" fill="#00B050"/><rect x="584.0" y="1408.3" width="10.0" height="10.0" fill="#00B050"/>
<polyline points="808.0,277.0 820.9,302.8 810.2,328.6 800.3,354.5 788.6,380.3 776.5,406.1 764.3,431.9 752.3,457.8 740.3,483.6 728.3,509.4 716.3,535.2 705.2,561.1 694.2,586.9 683.1,612.7 672.0,638.5 661.9,664.4 652.3,690.2 643.2,716.0 634.2,741.8 626.6,767.7 619.1,793.5 613.3,819.3 607.5,845.1 602.8,871.0 598.2,896.8 595.5,922.6 592.7,948.4 591.3,974.3 589.9,1000.1 589.5,1025.9 589.0,1051.8 589.0,1077.6 589.0,1103.4 589.0,1129.2 589.0,1155.0 589.0,1180.9 589.0,1206.7 589.0,1232.5 589.0,1258.3 589.0,1284.2 589.0,1310.0 589.0,1335.8 589.0,1361.6 589.0,1387.5 589.0,1413.3" fill="none" stroke="#F79646" stroke-width="3.4" stroke-linejoin="round"/>
<path d="M808.0 271.4L813.6 281.5L802.4 281.5Z" fill="#F79646"/><path d="M820.9 297.2L826.5 307.3L815.3 307.3Z" fill="#F79646"/><path d="M810.2 323.0L815.8 333.1L804.6 333.1Z" fill="#F79646"/><path d="M800.3 348.9L805.9 359.0L794.7 359.0Z" fill="#F79646"/><path d="M788.6 374.7L794.2 384.8L783.0 384.8Z" fill="#F79646"/><path d="M776.5 400.5L782.1 410.6L770.9 410.6Z" fill="#F79646"/><path d="M764.3 426.3L769.9 436.4L758.7 436.4Z" fill="#F79646"/><path d="M752.3 452.2L757.9 462.3L746.7 462.3Z" fill="#F79646"/><path d="M740.3 478.0L745.9 488.1L734.7 488.1Z" fill="#F79646"/><path d="M728.3 503.8L733.9 513.9L722.7 513.9Z" fill="#F79646"/><path d="M716.3 529.6L721.9 539.7L710.7 539.7Z" fill="#F79646"/><path d="M705.2 555.5L710.8 565.6L699.6 565.6Z" fill="#F79646"/><path d="M694.2 581.3L699.8 591.4L688.6 591.4Z" fill="#F79646"/><path d="M683.1 607.1L688.7 617.2L677.5 617.2Z" fill="#F79646"/><path d="M672.0 632.9L677.6 643.0L666.4 643.0Z" fill="#F79646"/><path d="M661.9 658.8L667.5 668.9L656.3 668.9Z" fill="#F79646"/><path d="M652.3 684.6L657.9 694.7L646.7 694.7Z" fill="#F79646"/><path d="M643.2 710.4L648.8 720.5L637.6 720.5Z" fill="#F79646"/><path d="M634.2 736.2L639.8 746.3L628.6 746.3Z" fill="#F79646"/><path d="M626.6 762.1L632.2 772.2L621.0 772.2Z" fill="#F79646"/><path d="M619.1 787.9L624.7 798.0L613.5 798.0Z" fill="#F79646"/><path d="M613.3 813.7L618.9 823.8L607.7 823.8Z" fill="#F79646"/><path d="M607.5 839.5L613.1 849.6L601.9 849.6Z" fill="#F79646"/><path d="M602.8 865.4L608.4 875.5L597.2 875.5Z" fill="#F79646"/><path d="M598.2 891.2L603.8 901.3L592.6 901.3Z" fill="#F79646"/><path d="M595.5 917.0L601.1 927.1L589.9 927.1Z" fill="#F79646"/><path d="M592.7 942.8L598.3 952.9L587.1 952.9Z" fill="#F79646"/><path d="M591.3 968.7L596.9 978.8L585.7 978.8Z" fill="#F79646"/><path d="M589.9 994.5L595.5 1004.6L584.3 1004.6Z" fill="#F79646"/><path d="M589.5 1020.3L595.1 1030.4L583.9 1030.4Z" fill="#F79646"/><path d="M589.0 1046.2L594.6 1056.2L583.4 1056.2Z" fill="#F79646"/><path d="M589.0 1072.0L594.6 1082.1L583.4 1082.1Z" fill="#F79646"/><path d="M589.0 1097.8L594.6 1107.9L583.4 1107.9Z" fill="#F79646"/><path d="M589.0 1123.6L594.6 1133.7L583.4 1133.7Z" fill="#F79646"/><path d="M589.0 1149.5L594.6 1159.5L583.4 1159.5Z" fill="#F79646"/><path d="M589.0 1175.3L594.6 1185.4L583.4 1185.4Z" fill="#F79646"/><path d="M589.0 1201.1L594.6 1211.2L583.4 1211.2Z" fill="#F79646"/><path d="M589.0 1226.9L594.6 1237.0L583.4 1237.0Z" fill="#F79646"/><path d="M589.0 1252.8L594.6 1262.8L583.4 1262.8Z" fill="#F79646"/><path d="M589.0 1278.6L594.6 1288.7L583.4 1288.7Z" fill="#F79646"/><path d="M589.0 1304.4L594.6 1314.5L583.4 1314.5Z" fill="#F79646"/><path d="M589.0 1330.2L594.6 1340.3L583.4 1340.3Z" fill="#F79646"/><path d="M589.0 1356.0L594.6 1366.1L583.4 1366.1Z" fill="#F79646"/><path d="M589.0 1381.9L594.6 1392.0L583.4 1392.0Z" fill="#F79646"/><path d="M589.0 1407.7L594.6 1417.8L583.4 1417.8Z" fill="#F79646"/>
<polyline points="788.3,277.0 805.4,302.8 795.8,328.6 785.5,354.5 774.8,380.3 763.8,406.1 752.8,431.9 742.0,457.8 731.1,483.6 720.0,509.4 708.9,535.2 698.0,561.1 687.2,586.9 676.8,612.7 666.5,638.5 656.9,664.4 647.5,690.2 639.0,716.0 630.5,741.8 623.6,767.7 616.7,793.5 611.1,819.3 605.6,845.1 601.5,871.0 597.3,896.8 594.7,922.6 592.1,948.4 590.9,974.3 589.7,1000.1 589.4,1025.9 589.0,1051.8 589.0,1077.6 589.0,1103.4 589.0,1129.2 589.0,1155.0 589.0,1180.9 589.0,1206.7 589.0,1232.5 589.0,1258.3 589.0,1284.2 589.0,1310.0 589.0,1335.8 589.0,1361.6 589.0,1387.5 589.0,1413.3" fill="none" stroke="#7030A0" stroke-width="3.4" stroke-linejoin="round"/>
<path d="M788.3 271.4L793.9 277.0L788.3 282.6L782.7 277.0Z" fill="#7030A0"/><path d="M805.4 297.2L811.0 302.8L805.4 308.4L799.8 302.8Z" fill="#7030A0"/><path d="M795.8 323.0L801.4 328.6L795.8 334.2L790.2 328.6Z" fill="#7030A0"/><path d="M785.5 348.9L791.1 354.5L785.5 360.1L779.9 354.5Z" fill="#7030A0"/><path d="M774.8 374.7L780.4 380.3L774.8 385.9L769.2 380.3Z" fill="#7030A0"/><path d="M763.8 400.5L769.4 406.1L763.8 411.7L758.2 406.1Z" fill="#7030A0"/><path d="M752.8 426.3L758.4 431.9L752.8 437.6L747.2 431.9Z" fill="#7030A0"/><path d="M742.0 452.2L747.6 457.8L742.0 463.4L736.4 457.8Z" fill="#7030A0"/><path d="M731.1 478.0L736.7 483.6L731.1 489.2L725.5 483.6Z" fill="#7030A0"/><path d="M720.0 503.8L725.6 509.4L720.0 515.0L714.4 509.4Z" fill="#7030A0"/><path d="M708.9 529.6L714.5 535.2L708.9 540.9L703.3 535.2Z" fill="#7030A0"/><path d="M698.0 555.5L703.6 561.1L698.0 566.7L692.4 561.1Z" fill="#7030A0"/><path d="M687.2 581.3L692.8 586.9L687.2 592.5L681.6 586.9Z" fill="#7030A0"/><path d="M676.8 607.1L682.4 612.7L676.8 618.3L671.2 612.7Z" fill="#7030A0"/><path d="M666.5 632.9L672.1 638.5L666.5 644.1L660.9 638.5Z" fill="#7030A0"/><path d="M656.9 658.8L662.5 664.4L656.9 670.0L651.3 664.4Z" fill="#7030A0"/><path d="M647.5 684.6L653.1 690.2L647.5 695.8L641.9 690.2Z" fill="#7030A0"/><path d="M639.0 710.4L644.6 716.0L639.0 721.6L633.4 716.0Z" fill="#7030A0"/><path d="M630.5 736.2L636.1 741.8L630.5 747.4L624.9 741.8Z" fill="#7030A0"/><path d="M623.6 762.1L629.2 767.7L623.6 773.3L618.0 767.7Z" fill="#7030A0"/><path d="M616.7 787.9L622.3 793.5L616.7 799.1L611.1 793.5Z" fill="#7030A0"/><path d="M611.1 813.7L616.7 819.3L611.1 824.9L605.5 819.3Z" fill="#7030A0"/><path d="M605.6 839.5L611.2 845.1L605.6 850.8L600.0 845.1Z" fill="#7030A0"/><path d="M601.5 865.4L607.1 871.0L601.5 876.6L595.9 871.0Z" fill="#7030A0"/><path d="M597.3 891.2L602.9 896.8L597.3 902.4L591.7 896.8Z" fill="#7030A0"/><path d="M594.7 917.0L600.3 922.6L594.7 928.2L589.1 922.6Z" fill="#7030A0"/><path d="M592.1 942.8L597.7 948.4L592.1 954.0L586.5 948.4Z" fill="#7030A0"/><path d="M590.9 968.7L596.5 974.3L590.9 979.9L585.3 974.3Z" fill="#7030A0"/><path d="M589.7 994.5L595.3 1000.1L589.7 1005.7L584.1 1000.1Z" fill="#7030A0"/><path d="M589.4 1020.3L595.0 1025.9L589.4 1031.5L583.8 1025.9Z" fill="#7030A0"/><path d="M589.0 1046.2L594.6 1051.8L589.0 1057.3L583.4 1051.8Z" fill="#7030A0"/><path d="M589.0 1072.0L594.6 1077.6L589.0 1083.2L583.4 1077.6Z" fill="#7030A0"/><path d="M589.0 1097.8L594.6 1103.4L589.0 1109.0L583.4 1103.4Z" fill="#7030A0"/><path d="M589.0 1123.6L594.6 1129.2L589.0 1134.8L583.4 1129.2Z" fill="#7030A0"/><path d="M589.0 1149.5L594.6 1155.0L589.0 1160.6L583.4 1155.0Z" fill="#7030A0"/><path d="M589.0 1175.3L594.6 1180.9L589.0 1186.5L583.4 1180.9Z" fill="#7030A0"/><path d="M589.0 1201.1L594.6 1206.7L589.0 1212.3L583.4 1206.7Z" fill="#7030A0"/><path d="M589.0 1226.9L594.6 1232.5L589.0 1238.1L583.4 1232.5Z" fill="#7030A0"/><path d="M589.0 1252.8L594.6 1258.3L589.0 1263.9L583.4 1258.3Z" fill="#7030A0"/><path d="M589.0 1278.6L594.6 1284.2L589.0 1289.8L583.4 1284.2Z" fill="#7030A0"/><path d="M589.0 1304.4L594.6 1310.0L589.0 1315.6L583.4 1310.0Z" fill="#7030A0"/><path d="M589.0 1330.2L594.6 1335.8L589.0 1341.4L583.4 1335.8Z" fill="#7030A0"/><path d="M589.0 1356.0L594.6 1361.6L589.0 1367.2L583.4 1361.6Z" fill="#7030A0"/><path d="M589.0 1381.9L594.6 1387.5L589.0 1393.1L583.4 1387.5Z" fill="#7030A0"/><path d="M589.0 1407.7L594.6 1413.3L589.0 1418.9L583.4 1413.3Z" fill="#7030A0"/>
<polyline points="808.6,277.0 822.6,302.8 812.2,328.6 801.9,354.5 790.7,380.3 778.4,406.1 766.1,431.9 754.1,457.8 742.1,483.6 730.1,509.4 718.2,535.2 706.6,561.1 695.1,586.9 684.0,612.7 672.9,638.5 662.8,664.4 653.0,690.2 643.8,716.0 634.6,741.8 627.0,767.7 619.4,793.5 613.4,819.3 607.5,845.1 602.8,871.0 598.2,896.8 595.5,922.6 592.7,948.4 591.3,974.3 589.9,1000.1 589.5,1025.9 589.0,1051.8 589.0,1077.6 589.0,1103.4 589.0,1129.2 589.0,1155.0 589.0,1180.9 589.0,1206.7 589.0,1232.5 589.0,1258.3 589.0,1284.2 589.0,1310.0 589.0,1335.8 589.0,1361.6 589.0,1387.5 589.0,1413.3" fill="none" stroke="#31859C" stroke-width="3.4" stroke-linejoin="round"/>
<circle cx="808.6" cy="277.0" r="5.4" fill="#31859C"/><circle cx="822.6" cy="302.8" r="5.4" fill="#31859C"/><circle cx="812.2" cy="328.6" r="5.4" fill="#31859C"/><circle cx="801.9" cy="354.5" r="5.4" fill="#31859C"/><circle cx="790.7" cy="380.3" r="5.4" fill="#31859C"/><circle cx="778.4" cy="406.1" r="5.4" fill="#31859C"/><circle cx="766.1" cy="431.9" r="5.4" fill="#31859C"/><circle cx="754.1" cy="457.8" r="5.4" fill="#31859C"/><circle cx="742.1" cy="483.6" r="5.4" fill="#31859C"/><circle cx="730.1" cy="509.4" r="5.4" fill="#31859C"/><circle cx="718.2" cy="535.2" r="5.4" fill="#31859C"/><circle cx="706.6" cy="561.1" r="5.4" fill="#31859C"/><circle cx="695.1" cy="586.9" r="5.4" fill="#31859C"/><circle cx="684.0" cy="612.7" r="5.4" fill="#31859C"/><circle cx="672.9" cy="638.5" r="5.4" fill="#31859C"/><circle cx="662.8" cy="664.4" r="5.4" fill="#31859C"/><circle cx="653.0" cy="690.2" r="5.4" fill="#31859C"/><circle cx="643.8" cy="716.0" r="5.4" fill="#31859C"/><circle cx="634.6" cy="741.8" r="5.4" fill="#31859C"/><circle cx="627.0" cy="767.7" r="5.4" fill="#31859C"/><circle cx="619.4" cy="793.5" r="5.4" fill="#31859C"/><circle cx="613.4" cy="819.3" r="5.4" fill="#31859C"/><circle cx="607.5" cy="845.1" r="5.4" fill="#31859C"/><circle cx="602.8" cy="871.0" r="5.4" fill="#31859C"/><circle cx="598.2" cy="896.8" r="5.4" fill="#31859C"/><circle cx="595.5" cy="922.6" r="5.4" fill="#31859C"/><circle cx="592.7" cy="948.4" r="5.4" fill="#31859C"/><circle cx="591.3" cy="974.3" r="5.4" fill="#31859C"/><circle cx="589.9" cy="1000.1" r="5.4" fill="#31859C"/><circle cx="589.5" cy="1025.9" r="5.4" fill="#31859C"/><circle cx="589.0" cy="1051.8" r="5.4" fill="#31859C"/><circle cx="589.0" cy="1077.6" r="5.4" fill="#31859C"/><circle cx="589.0" cy="1103.4" r="5.4" fill="#31859C"/><circle cx="589.0" cy="1129.2" r="5.4" fill="#31859C"/><circle cx="589.0" cy="1155.0" r="5.4" fill="#31859C"/><circle cx="589.0" cy="1180.9" r="5.4" fill="#31859C"/><circle cx="589.0" cy="1206.7" r="5.4" fill="#31859C"/><circle cx="589.0" cy="1232.5" r="5.4" fill="#31859C"/><circle cx="589.0" cy="1258.3" r="5.4" fill="#31859C"/><circle cx="589.0" cy="1284.2" r="5.4" fill="#31859C"/><circle cx="589.0" cy="1310.0" r="5.4" fill="#31859C"/><circle cx="589.0" cy="1335.8" r="5.4" fill="#31859C"/><circle cx="589.0" cy="1361.6" r="5.4" fill="#31859C"/><circle cx="589.0" cy="1387.5" r="5.4" fill="#31859C"/><circle cx="589.0" cy="1413.3" r="5.4" fill="#31859C"/>
<polyline points="794.7,277.0 812.1,302.8 802.7,328.6 792.4,354.5 781.2,380.3 770.1,406.1 758.9,431.9 747.5,457.8 736.0,483.6 724.5,509.4 713.1,535.2 702.0,561.1 690.9,586.9 680.1,612.7 669.4,638.5 659.3,664.4 649.9,690.2 640.9,716.0 632.0,741.8 624.6,767.7 617.3,793.5 611.8,819.3 606.2,845.1 601.8,871.0 597.3,896.8 594.7,922.6 592.1,948.4 590.8,974.3 589.4,1000.1 589.0,1025.9 588.6,1051.8 588.6,1077.6 588.6,1103.4 588.7,1129.2 588.7,1155.0 588.7,1180.9 588.8,1206.7 588.8,1232.5 588.8,1258.3 588.8,1284.2 588.9,1310.0 588.9,1335.8 588.9,1361.6 589.0,1387.5 589.0,1413.3" fill="none" stroke="#FF00FF" stroke-width="3.4" stroke-linejoin="round"/>
<rect x="789.7" y="272.0" width="10.0" height="10.0" fill="#FF00FF"/><rect x="807.1" y="297.8" width="10.0" height="10.0" fill="#FF00FF"/><rect x="797.7" y="323.6" width="10.0" height="10.0" fill="#FF00FF"/><rect x="787.4" y="349.5" width="10.0" height="10.0" fill="#FF00FF"/><rect x="776.2" y="375.3" width="10.0" height="10.0" fill="#FF00FF"/><rect x="765.1" y="401.1" width="10.0" height="10.0" fill="#FF00FF"/><rect x="753.9" y="426.9" width="10.0" height="10.0" fill="#FF00FF"/><rect x="742.5" y="452.8" width="10.0" height="10.0" fill="#FF00FF"/><rect x="731.0" y="478.6" width="10.0" height="10.0" fill="#FF00FF"/><rect x="719.5" y="504.4" width="10.0" height="10.0" fill="#FF00FF"/><rect x="708.1" y="530.2" width="10.0" height="10.0" fill="#FF00FF"/><rect x="697.0" y="556.1" width="10.0" height="10.0" fill="#FF00FF"/><rect x="685.9" y="581.9" width="10.0" height="10.0" fill="#FF00FF"/><rect x="675.1" y="607.7" width="10.0" height="10.0" fill="#FF00FF"/><rect x="664.4" y="633.5" width="10.0" height="10.0" fill="#FF00FF"/><rect x="654.3" y="659.4" width="10.0" height="10.0" fill="#FF00FF"/><rect x="644.9" y="685.2" width="10.0" height="10.0" fill="#FF00FF"/><rect x="635.9" y="711.0" width="10.0" height="10.0" fill="#FF00FF"/><rect x="627.0" y="736.8" width="10.0" height="10.0" fill="#FF00FF"/><rect x="619.6" y="762.7" width="10.0" height="10.0" fill="#FF00FF"/><rect x="612.3" y="788.5" width="10.0" height="10.0" fill="#FF00FF"/><rect x="606.8" y="814.3" width="10.0" height="10.0" fill="#FF00FF"/><rect x="601.2" y="840.1" width="10.0" height="10.0" fill="#FF00FF"/><rect x="596.8" y="866.0" width="10.0" height="10.0" fill="#FF00FF"/><rect x="592.3" y="891.8" width="10.0" height="10.0" fill="#FF00FF"/><rect x="589.7" y="917.6" width="10.0" height="10.0" fill="#FF00FF"/><rect x="587.1" y="943.4" width="10.0" height="10.0" fill="#FF00FF"/><rect x="585.8" y="969.3" width="10.0" height="10.0" fill="#FF00FF"/><rect x="584.4" y="995.1" width="10.0" height="10.0" fill="#FF00FF"/><rect x="584.0" y="1020.9" width="10.0" height="10.0" fill="#FF00FF"/><rect x="583.6" y="1046.8" width="10.0" height="10.0" fill="#FF00FF"/><rect x="583.6" y="1072.6" width="10.0" height="10.0" fill="#FF00FF"/><rect x="583.6" y="1098.4" width="10.0" height="10.0" fill="#FF00FF"/><rect x="583.7" y="1124.2" width="10.0" height="10.0" fill="#FF00FF"/><rect x="583.7" y="1150.0" width="10.0" height="10.0" fill="#FF00FF"/><rect x="583.7" y="1175.9" width="10.0" height="10.0" fill="#FF00FF"/><rect x="583.8" y="1201.7" width="10.0" height="10.0" fill="#FF00FF"/><rect x="583.8" y="1227.5" width="10.0" height="10.0" fill="#FF00FF"/><rect x="583.8" y="1253.3" width="10.0" height="10.0" fill="#FF00FF"/><rect x="583.8" y="1279.2" width="10.0" height="10.0" fill="#FF00FF"/><rect x="583.9" y="1305.0" width="10.0" height="10.0" fill="#FF00FF"/><rect x="583.9" y="1330.8" width="10.0" height="10.0" fill="#FF00FF"/><rect x="583.9" y="1356.6" width="10.0" height="10.0" fill="#FF00FF"/><rect x="584.0" y="1382.5" width="10.0" height="10.0" fill="#FF00FF"/><rect x="584.0" y="1408.3" width="10.0" height="10.0" fill="#FF00FF"/>
<polyline points="797.5,277.0 814.8,302.8 805.4,328.6 795.1,354.5 783.8,380.3 772.7,406.1 761.5,431.9 750.0,457.8 738.4,483.6 727.0,509.4 715.6,535.2 704.4,561.1 693.2,586.9 682.4,612.7 671.7,638.5 661.5,664.4 652.1,690.2 643.0,716.0 633.8,741.8 626.4,767.7 618.9,793.5 613.2,819.3 607.5,845.1 602.8,871.0 598.2,896.8 595.5,922.6 592.7,948.4 591.3,974.3 589.9,1000.1 589.5,1025.9 589.0,1051.8 589.0,1077.6 589.0,1103.4 589.0,1129.2 589.0,1155.0 589.0,1180.9 589.0,1206.7 589.0,1232.5 589.0,1258.3 589.0,1284.2 589.0,1310.0 589.0,1335.8 589.0,1361.6 589.0,1387.5 589.0,1413.3" fill="none" stroke="#92D050" stroke-width="3.4" stroke-linejoin="round"/>
<circle cx="797.5" cy="277.0" r="5.4" fill="#92D050"/><circle cx="814.8" cy="302.8" r="5.4" fill="#92D050"/><circle cx="805.4" cy="328.6" r="5.4" fill="#92D050"/><circle cx="795.1" cy="354.5" r="5.4" fill="#92D050"/><circle cx="783.8" cy="380.3" r="5.4" fill="#92D050"/><circle cx="772.7" cy="406.1" r="5.4" fill="#92D050"/><circle cx="761.5" cy="431.9" r="5.4" fill="#92D050"/><circle cx="750.0" cy="457.8" r="5.4" fill="#92D050"/><circle cx="738.4" cy="483.6" r="5.4" fill="#92D050"/><circle cx="727.0" cy="509.4" r="5.4" fill="#92D050"/><circle cx="715.6" cy="535.2" r="5.4" fill="#92D050"/><circle cx="704.4" cy="561.1" r="5.4" fill="#92D050"/><circle cx="693.2" cy="586.9" r="5.4" fill="#92D050"/><circle cx="682.4" cy="612.7" r="5.4" fill="#92D050"/><circle cx="671.7" cy="638.5" r="5.4" fill="#92D050"/><circle cx="661.5" cy="664.4" r="5.4" fill="#92D050"/><circle cx="652.1" cy="690.2" r="5.4" fill="#92D050"/><circle cx="643.0" cy="716.0" r="5.4" fill="#92D050"/><circle cx="633.8" cy="741.8" r="5.4" fill="#92D050"/><circle cx="626.4" cy="767.7" r="5.4" fill="#92D050"/><circle cx="618.9" cy="793.5" r="5.4" fill="#92D050"/><circle cx="613.2" cy="819.3" r="5.4" fill="#92D050"/><circle cx="607.5" cy="845.1" r="5.4" fill="#92D050"/><circle cx="602.8" cy="871.0" r="5.4" fill="#92D050"/><circle cx="598.2" cy="896.8" r="5.4" fill="#92D050"/><circle cx="595.5" cy="922.6" r="5.4" fill="#92D050"/><circle cx="592.7" cy="948.4" r="5.4" fill="#92D050"/><circle cx="591.3" cy="974.3" r="5.4" fill="#92D050"/><circle cx="589.9" cy="1000.1" r="5.4" fill="#92D050"/><circle cx="589.5" cy="1025.9" r="5.4" fill="#92D050"/><circle cx="589.0" cy="1051.8" r="5.4" fill="#92D050"/><circle cx="589.0" cy="1077.6" r="5.4" fill="#92D050"/><circle cx="589.0" cy="1103.4" r="5.4" fill="#92D050"/><circle cx="589.0" cy="1129.2" r="5.4" fill="#92D050"/><circle cx="589.0" cy="1155.0" r="5.4" fill="#92D050"/><circle cx="589.0" cy="1180.9" r="5.4" fill="#92D050"/><circle cx="589.0" cy="1206.7" r="5.4" fill="#92D050"/><circle cx="589.0" cy="1232.5" r="5.4" fill="#92D050"/><circle cx="589.0" cy="1258.3" r="5.4" fill="#92D050"/><circle cx="589.0" cy="1284.2" r="5.4" fill="#92D050"/><circle cx="589.0" cy="1310.0" r="5.4" fill="#92D050"/><circle cx="589.0" cy="1335.8" r="5.4" fill="#92D050"/><circle cx="589.0" cy="1361.6" r="5.4" fill="#92D050"/><circle cx="589.0" cy="1387.5" r="5.4" fill="#92D050"/><circle cx="589.0" cy="1413.3" r="5.4" fill="#92D050"/>
<polyline points="809.7,277.0 824.8,302.8 814.1,328.6 804.1,354.5 792.5,380.3 780.7,406.1 768.9,431.9 756.9,457.8 744.9,483.6 732.9,509.4 720.9,535.2 709.4,561.1 697.9,586.9 686.8,612.7 675.7,638.5 665.0,664.4 655.1,690.2 645.4,716.0 635.7,741.8 628.0,767.7 620.4,793.5 614.4,819.3 608.4,845.1 603.8,871.0 599.1,896.8 596.1,922.6 593.1,948.4 591.6,974.3 590.1,1000.1 589.6,1025.9 589.0,1051.8 589.0,1077.6 589.0,1103.4 589.0,1129.2 589.0,1155.0 589.0,1180.9 589.0,1206.7 589.0,1232.5 589.0,1258.3 589.0,1284.2 589.0,1310.0 589.0,1335.8 589.0,1361.6 589.0,1387.5 589.0,1413.3" fill="none" stroke="#984807" stroke-width="3.4" stroke-linejoin="round"/>
<path d="M809.7 271.4L815.3 281.5L804.1 281.5Z" fill="#984807"/><path d="M824.8 297.2L830.4 307.3L819.2 307.3Z" fill="#984807"/><path d="M814.1 323.0L819.7 333.1L808.5 333.1Z" fill="#984807"/><path d="M804.1 348.9L809.7 359.0L798.5 359.0Z" fill="#984807"/><path d="M792.5 374.7L798.1 384.8L786.9 384.8Z" fill="#984807"/><path d="M780.7 400.5L786.3 410.6L775.1 410.6Z" fill="#984807"/><path d="M768.9 426.3L774.5 436.4L763.3 436.4Z" fill="#984807"/><path d="M756.9 452.2L762.5 462.3L751.3 462.3Z" fill="#984807"/><path d="M744.9 478.0L750.5 488.1L739.3 488.1Z" fill="#984807"/><path d="M732.9 503.8L738.5 513.9L727.3 513.9Z" fill="#984807"/><path d="M720.9 529.6L726.5 539.7L715.3 539.7Z" fill="#984807"/><path d="M709.4 555.5L715.0 565.6L703.8 565.6Z" fill="#984807"/><path d="M697.9 581.3L703.5 591.4L692.3 591.4Z" fill="#984807"/><path d="M686.8 607.1L692.4 617.2L681.2 617.2Z" fill="#984807"/><path d="M675.7 632.9L681.3 643.0L670.1 643.0Z" fill="#984807"/><path d="M665.0 658.8L670.6 668.9L659.4 668.9Z" fill="#984807"/><path d="M655.1 684.6L660.7 694.7L649.5 694.7Z" fill="#984807"/><path d="M645.4 710.4L651.0 720.5L639.8 720.5Z" fill="#984807"/><path d="M635.7 736.2L641.3 746.3L630.1 746.3Z" fill="#984807"/><path d="M628.0 762.1L633.6 772.2L622.4 772.2Z" fill="#984807"/><path d="M620.4 787.9L626.0 798.0L614.8 798.0Z" fill="#984807"/><path d="M614.4 813.7L620.0 823.8L608.8 823.8Z" fill="#984807"/><path d="M608.4 839.5L614.0 849.6L602.8 849.6Z" fill="#984807"/><path d="M603.8 865.4L609.4 875.5L598.2 875.5Z" fill="#984807"/><path d="M599.1 891.2L604.7 901.3L593.5 901.3Z" fill="#984807"/><path d="M596.1 917.0L601.7 927.1L590.5 927.1Z" fill="#984807"/><path d="M593.1 942.8L598.7 952.9L587.5 952.9Z" fill="#984807"/><path d="M591.6 968.7L597.2 978.8L586.0 978.8Z" fill="#984807"/><path d="M590.1 994.5L595.7 1004.6L584.5 1004.6Z" fill="#984807"/><path d="M589.6 1020.3L595.2 1030.4L584.0 1030.4Z" fill="#984807"/><path d="M589.0 1046.2L594.6 1056.2L583.4 1056.2Z" fill="#984807"/><path d="M589.0 1072.0L594.6 1082.1L583.4 1082.1Z" fill="#984807"/><path d="M589.0 1097.8L594.6 1107.9L583.4 1107.9Z" fill="#984807"/><path d="M589.0 1123.6L594.6 1133.7L583.4 1133.7Z" fill="#984807"/><path d="M589.0 1149.5L594.6 1159.5L583.4 1159.5Z" fill="#984807"/><path d="M589.0 1175.3L594.6 1185.4L583.4 1185.4Z" fill="#984807"/><path d="M589.0 1201.1L594.6 1211.2L583.4 1211.2Z" fill="#984807"/><path d="M589.0 1226.9L594.6 1237.0L583.4 1237.0Z" fill="#984807"/><path d="M589.0 1252.8L594.6 1262.8L583.4 1262.8Z" fill="#984807"/><path d="M589.0 1278.6L594.6 1288.7L583.4 1288.7Z" fill="#984807"/><path d="M589.0 1304.4L594.6 1314.5L583.4 1314.5Z" fill="#984807"/><path d="M589.0 1330.2L594.6 1340.3L583.4 1340.3Z" fill="#984807"/><path d="M589.0 1356.0L594.6 1366.1L583.4 1366.1Z" fill="#984807"/><path d="M589.0 1381.9L594.6 1392.0L583.4 1392.0Z" fill="#984807"/><path d="M589.0 1407.7L594.6 1417.8L583.4 1417.8Z" fill="#984807"/>
<polyline points="814.1,277.0 831.6,302.8 820.0,328.6 809.3,354.5 797.3,380.3 785.2,406.1 773.1,431.9 761.3,457.8 749.5,483.6 737.6,509.4 725.7,535.2 714.1,561.1 702.5,586.9 691.1,612.7 679.8,638.5 668.9,664.4 658.2,690.2 648.0,716.0 637.9,741.8 629.9,767.7 621.8,793.5 615.6,819.3 609.3,845.1 604.7,871.0 600.1,896.8 596.8,922.6 593.6,948.4 592.0,974.3 590.3,1000.1 589.6,1025.9 589.0,1051.8 589.0,1077.6 589.0,1103.4 589.0,1129.2 589.0,1155.0 589.0,1180.9 589.0,1206.7 589.0,1232.5 589.0,1258.3 589.0,1284.2 589.0,1310.0 589.0,1335.8 589.0,1361.6 589.0,1387.5 589.0,1413.3" fill="none" stroke="#C0504D" stroke-width="3.2" stroke-linejoin="round"/>
<circle cx="814.1" cy="277.0" r="5.6" fill="#C0504D"/><circle cx="831.6" cy="302.8" r="5.6" fill="#C0504D"/><circle cx="820.0" cy="328.6" r="5.6" fill="#C0504D"/><circle cx="809.3" cy="354.5" r="5.6" fill="#C0504D"/><circle cx="797.3" cy="380.3" r="5.6" fill="#C0504D"/><circle cx="785.2" cy="406.1" r="5.6" fill="#C0504D"/><circle cx="773.1" cy="431.9" r="5.6" fill="#C0504D"/><circle cx="761.3" cy="457.8" r="5.6" fill="#C0504D"/><circle cx="749.5" cy="483.6" r="5.6" fill="#C0504D"/><circle cx="737.6" cy="509.4" r="5.6" fill="#C0504D"/><circle cx="725.7" cy="535.2" r="5.6" fill="#C0504D"/><circle cx="714.1" cy="561.1" r="5.6" fill="#C0504D"/><circle cx="702.5" cy="586.9" r="5.6" fill="#C0504D"/><circle cx="691.1" cy="612.7" r="5.6" fill="#C0504D"/><circle cx="679.8" cy="638.5" r="5.6" fill="#C0504D"/><circle cx="668.9" cy="664.4" r="5.6" fill="#C0504D"/><circle cx="658.2" cy="690.2" r="5.6" fill="#C0504D"/><circle cx="648.0" cy="716.0" r="5.6" fill="#C0504D"/><circle cx="637.9" cy="741.8" r="5.6" fill="#C0504D"/><circle cx="629.9" cy="767.7" r="5.6" fill="#C0504D"/><circle cx="621.8" cy="793.5" r="5.6" fill="#C0504D"/><circle cx="615.6" cy="819.3" r="5.6" fill="#C0504D"/><circle cx="609.3" cy="845.1" r="5.6" fill="#C0504D"/><circle cx="604.7" cy="871.0" r="5.6" fill="#C0504D"/><circle cx="600.1" cy="896.8" r="5.6" fill="#C0504D"/><circle cx="596.8" cy="922.6" r="5.6" fill="#C0504D"/><circle cx="593.6" cy="948.4" r="5.6" fill="#C0504D"/><circle cx="592.0" cy="974.3" r="5.6" fill="#C0504D"/><circle cx="590.3" cy="1000.1" r="5.6" fill="#C0504D"/><circle cx="589.6" cy="1025.9" r="5.6" fill="#C0504D"/><circle cx="589.0" cy="1051.8" r="5.6" fill="#C0504D"/><circle cx="589.0" cy="1077.6" r="5.6" fill="#C0504D"/><circle cx="589.0" cy="1103.4" r="5.6" fill="#C0504D"/><circle cx="589.0" cy="1129.2" r="5.6" fill="#C0504D"/><circle cx="589.0" cy="1155.0" r="5.6" fill="#C0504D"/><circle cx="589.0" cy="1180.9" r="5.6" fill="#C0504D"/><circle cx="589.0" cy="1206.7" r="5.6" fill="#C0504D"/><circle cx="589.0" cy="1232.5" r="5.6" fill="#C0504D"/><circle cx="589.0" cy="1258.3" r="5.6" fill="#C0504D"/><circle cx="589.0" cy="1284.2" r="5.6" fill="#C0504D"/><circle cx="589.0" cy="1310.0" r="5.6" fill="#C0504D"/><circle cx="589.0" cy="1335.8" r="5.6" fill="#C0504D"/><circle cx="589.0" cy="1361.6" r="5.6" fill="#C0504D"/><circle cx="589.0" cy="1387.5" r="5.6" fill="#C0504D"/><circle cx="589.0" cy="1413.3" r="5.6" fill="#C0504D"/>
<polyline points="848.0,277.0 862.8,302.8 850.3,328.6 836.8,354.5 823.1,380.3 808.9,406.1 794.7,431.9 780.4,457.8 766.1,483.6 752.0,509.4 737.9,535.2 723.7,561.1 709.5,586.9 697.0,612.7 684.6,638.5 672.9,664.4 661.9,690.2 651.7,716.0 641.6,741.8 633.3,767.7 625.0,793.5 618.5,819.3 612.1,845.1 607.0,871.0 601.9,896.8 598.5,922.6 595.1,948.4 593.0,974.3 590.8,1000.1 589.9,1025.9 589.0,1051.8 589.0,1077.6 589.0,1103.4 589.0,1129.2 589.0,1155.0 589.0,1180.9 589.0,1206.7 589.0,1232.5 589.0,1258.3 589.0,1284.2 589.0,1310.0 589.0,1335.8 589.0,1361.6 589.0,1387.5 589.0,1413.3" fill="none" stroke="#8064A2" stroke-width="3.0" stroke-linejoin="round"/>
<path d="M848.0 271.4L853.6 277.0L848.0 282.6L842.4 277.0Z" fill="#8064A2"/><path d="M862.8 297.2L868.4 302.8L862.8 308.4L857.2 302.8Z" fill="#8064A2"/><path d="M850.3 323.0L855.9 328.6L850.3 334.2L844.7 328.6Z" fill="#8064A2"/><path d="M836.8 348.9L842.4 354.5L836.8 360.1L831.2 354.5Z" fill="#8064A2"/><path d="M823.1 374.7L828.7 380.3L823.1 385.9L817.5 380.3Z" fill="#8064A2"/><path d="M808.9 400.5L814.5 406.1L808.9 411.7L803.3 406.1Z" fill="#8064A2"/><path d="M794.7 426.3L800.3 431.9L794.7 437.6L789.1 431.9Z" fill="#8064A2"/><path d="M780.4 452.2L786.0 457.8L780.4 463.4L774.8 457.8Z" fill="#8064A2"/><path d="M766.1 478.0L771.7 483.6L766.1 489.2L760.5 483.6Z" fill="#8064A2"/><path d="M752.0 503.8L757.6 509.4L752.0 515.0L746.4 509.4Z" fill="#8064A2"/><path d="M737.9 529.6L743.5 535.2L737.9 540.9L732.3 535.2Z" fill="#8064A2"/><path d="M723.7 555.5L729.3 561.1L723.7 566.7L718.1 561.1Z" fill="#8064A2"/><path d="M709.5 581.3L715.1 586.9L709.5 592.5L703.9 586.9Z" fill="#8064A2"/><path d="M697.0 607.1L702.6 612.7L697.0 618.3L691.4 612.7Z" fill="#8064A2"/><path d="M684.6 632.9L690.2 638.5L684.6 644.1L679.0 638.5Z" fill="#8064A2"/><path d="M672.9 658.8L678.5 664.4L672.9 670.0L667.3 664.4Z" fill="#8064A2"/><path d="M661.9 684.6L667.5 690.2L661.9 695.8L656.3 690.2Z" fill="#8064A2"/><path d="M651.7 710.4L657.3 716.0L651.7 721.6L646.1 716.0Z" fill="#8064A2"/><path d="M641.6 736.2L647.2 741.8L641.6 747.4L636.0 741.8Z" fill="#8064A2"/><path d="M633.3 762.1L638.9 767.7L633.3 773.3L627.7 767.7Z" fill="#8064A2"/><path d="M625.0 787.9L630.6 793.5L625.0 799.1L619.4 793.5Z" fill="#8064A2"/><path d="M618.5 813.7L624.1 819.3L618.5 824.9L612.9 819.3Z" fill="#8064A2"/><path d="M612.1 839.5L617.7 845.1L612.1 850.8L606.5 845.1Z" fill="#8064A2"/><path d="M607.0 865.4L612.6 871.0L607.0 876.6L601.4 871.0Z" fill="#8064A2"/><path d="M601.9 891.2L607.5 896.8L601.9 902.4L596.3 896.8Z" fill="#8064A2"/><path d="M598.5 917.0L604.1 922.6L598.5 928.2L592.9 922.6Z" fill="#8064A2"/><path d="M595.1 942.8L600.7 948.4L595.1 954.0L589.5 948.4Z" fill="#8064A2"/><path d="M593.0 968.7L598.6 974.3L593.0 979.9L587.4 974.3Z" fill="#8064A2"/><path d="M590.8 994.5L596.4 1000.1L590.8 1005.7L585.2 1000.1Z" fill="#8064A2"/><path d="M589.9 1020.3L595.5 1025.9L589.9 1031.5L584.3 1025.9Z" fill="#8064A2"/><path d="M589.0 1046.2L594.6 1051.8L589.0 1057.3L583.4 1051.8Z" fill="#8064A2"/><path d="M589.0 1072.0L594.6 1077.6L589.0 1083.2L583.4 1077.6Z" fill="#8064A2"/><path d="M589.0 1097.8L594.6 1103.4L589.0 1109.0L583.4 1103.4Z" fill="#8064A2"/><path d="M589.0 1123.6L594.6 1129.2L589.0 1134.8L583.4 1129.2Z" fill="#8064A2"/><path d="M589.0 1149.5L594.6 1155.0L589.0 1160.6L583.4 1155.0Z" fill="#8064A2"/><path d="M589.0 1175.3L594.6 1180.9L589.0 1186.5L583.4 1180.9Z" fill="#8064A2"/><path d="M589.0 1201.1L594.6 1206.7L589.0 1212.3L583.4 1206.7Z" fill="#8064A2"/><path d="M589.0 1226.9L594.6 1232.5L589.0 1238.1L583.4 1232.5Z" fill="#8064A2"/><path d="M589.0 1252.8L594.6 1258.3L589.0 1263.9L583.4 1258.3Z" fill="#8064A2"/><path d="M589.0 1278.6L594.6 1284.2L589.0 1289.8L583.4 1284.2Z" fill="#8064A2"/><path d="M589.0 1304.4L594.6 1310.0L589.0 1315.6L583.4 1310.0Z" fill="#8064A2"/><path d="M589.0 1330.2L594.6 1335.8L589.0 1341.4L583.4 1335.8Z" fill="#8064A2"/><path d="M589.0 1356.0L594.6 1361.6L589.0 1367.2L583.4 1361.6Z" fill="#8064A2"/><path d="M589.0 1381.9L594.6 1387.5L589.0 1393.1L583.4 1387.5Z" fill="#8064A2"/><path d="M589.0 1407.7L594.6 1413.3L589.0 1418.9L583.4 1413.3Z" fill="#8064A2"/>
<polyline points="872.6,277.0 882.7,302.8 868.0,328.6 853.4,354.5 837.7,380.3 821.4,406.1 805.0,431.9 789.3,457.8 774.1,483.6 759.0,509.4 744.5,535.2 729.9,561.1 715.6,586.9 702.2,612.7 689.4,638.5 676.9,664.4 665.6,690.2 655.1,716.0 645.3,741.8 636.3,767.7 628.1,793.5 621.1,819.3 614.5,845.1 608.4,871.0 603.5,896.8 599.3,922.6 596.2,948.4 594.0,974.3 592.0,1000.1 589.9,1025.9 589.0,1051.8 589.0,1077.6 589.0,1103.4 589.0,1129.2 589.0,1155.0 589.0,1180.9 589.0,1206.7 589.0,1232.5 589.0,1258.3 589.0,1284.2 589.0,1310.0 589.0,1335.8 589.0,1361.6 589.0,1387.5 589.0,1413.3" fill="none" stroke="#669900" stroke-width="3.0" stroke-linejoin="round"/>
<path d="M872.6 271.8L877.8 277.0L872.6 282.2L867.4 277.0Z" fill="#669900"/><path d="M882.7 297.6L887.9 302.8L882.7 308.0L877.5 302.8Z" fill="#669900"/><path d="M868.0 323.4L873.2 328.6L868.0 333.8L862.8 328.6Z" fill="#669900"/><path d="M853.4 349.3L858.6 354.5L853.4 359.7L848.2 354.5Z" fill="#669900"/><path d="M837.7 375.1L842.9 380.3L837.7 385.5L832.5 380.3Z" fill="#669900"/><path d="M821.4 400.9L826.6 406.1L821.4 411.3L816.2 406.1Z" fill="#669900"/><path d="M805.0 426.8L810.2 431.9L805.0 437.1L799.8 431.9Z" fill="#669900"/><path d="M789.3 452.6L794.5 457.8L789.3 463.0L784.1 457.8Z" fill="#669900"/><path d="M774.1 478.4L779.3 483.6L774.1 488.8L768.9 483.6Z" fill="#669900"/><path d="M759.0 504.2L764.2 509.4L759.0 514.6L753.8 509.4Z" fill="#669900"/><path d="M744.5 530.0L749.7 535.2L744.5 540.5L739.3 535.2Z" fill="#669900"/><path d="M729.9 555.9L735.1 561.1L729.9 566.3L724.7 561.1Z" fill="#669900"/><path d="M715.6 581.7L720.8 586.9L715.6 592.1L710.4 586.9Z" fill="#669900"/><path d="M702.2 607.5L707.4 612.7L702.2 617.9L697.0 612.7Z" fill="#669900"/><path d="M689.4 633.3L694.6 638.5L689.4 643.8L684.2 638.5Z" fill="#669900"/><path d="M676.9 659.2L682.1 664.4L676.9 669.6L671.7 664.4Z" fill="#669900"/><path d="M665.6 685.0L670.8 690.2L665.6 695.4L660.4 690.2Z" fill="#669900"/><path d="M655.1 710.8L660.3 716.0L655.1 721.2L649.9 716.0Z" fill="#669900"/><path d="M645.3 736.6L650.5 741.8L645.3 747.0L640.1 741.8Z" fill="#669900"/><path d="M636.3 762.5L641.5 767.7L636.3 772.9L631.1 767.7Z" fill="#669900"/><path d="M628.1 788.3L633.3 793.5L628.1 798.7L622.9 793.5Z" fill="#669900"/><path d="M621.1 814.1L626.3 819.3L621.1 824.5L615.9 819.3Z" fill="#669900"/><path d="M614.5 839.9L619.7 845.1L614.5 850.4L609.3 845.1Z" fill="#669900"/><path d="M608.4 865.8L613.6 871.0L608.4 876.2L603.2 871.0Z" fill="#669900"/><path d="M603.5 891.6L608.7 896.8L603.5 902.0L598.3 896.8Z" fill="#669900"/><path d="M599.3 917.4L604.5 922.6L599.3 927.8L594.1 922.6Z" fill="#669900"/><path d="M596.2 943.2L601.4 948.4L596.2 953.6L591.0 948.4Z" fill="#669900"/><path d="M594.0 969.1L599.2 974.3L594.0 979.5L588.8 974.3Z" fill="#669900"/><path d="M592.0 994.9L597.2 1000.1L592.0 1005.3L586.8 1000.1Z" fill="#669900"/><path d="M589.9 1020.7L595.1 1025.9L589.9 1031.1L584.7 1025.9Z" fill="#669900"/><path d="M589.0 1046.5L594.2 1051.8L589.0 1057.0L583.8 1051.8Z" fill="#669900"/><path d="M589.0 1072.4L594.2 1077.6L589.0 1082.8L583.8 1077.6Z" fill="#669900"/><path d="M589.0 1098.2L594.2 1103.4L589.0 1108.6L583.8 1103.4Z" fill="#669900"/><path d="M589.0 1124.0L594.2 1129.2L589.0 1134.4L583.8 1129.2Z" fill="#669900"/><path d="M589.0 1149.8L594.2 1155.0L589.0 1160.2L583.8 1155.0Z" fill="#669900"/><path d="M589.0 1175.7L594.2 1180.9L589.0 1186.1L583.8 1180.9Z" fill="#669900"/><path d="M589.0 1201.5L594.2 1206.7L589.0 1211.9L583.8 1206.7Z" fill="#669900"/><path d="M589.0 1227.3L594.2 1232.5L589.0 1237.7L583.8 1232.5Z" fill="#669900"/><path d="M589.0 1253.1L594.2 1258.3L589.0 1263.5L583.8 1258.3Z" fill="#669900"/><path d="M589.0 1279.0L594.2 1284.2L589.0 1289.4L583.8 1284.2Z" fill="#669900"/><path d="M589.0 1304.8L594.2 1310.0L589.0 1315.2L583.8 1310.0Z" fill="#669900"/><path d="M589.0 1330.6L594.2 1335.8L589.0 1341.0L583.8 1335.8Z" fill="#669900"/><path d="M589.0 1356.4L594.2 1361.6L589.0 1366.8L583.8 1361.6Z" fill="#669900"/><path d="M589.0 1382.3L594.2 1387.5L589.0 1392.7L583.8 1387.5Z" fill="#669900"/><path d="M589.0 1408.1L594.2 1413.3L589.0 1418.5L583.8 1413.3Z" fill="#669900"/>
<polyline points="880.5,277.0 890.8,302.8 874.8,328.6 858.9,354.5 842.5,380.3 826.1,406.1 809.7,431.9 793.8,457.8 778.5,483.6 763.4,509.4 748.8,535.2 734.0,561.1 719.6,586.9 706.2,612.7 693.2,638.5 680.7,664.4 669.3,690.2 658.6,716.0 648.6,741.8 639.4,767.7 630.9,793.5 623.7,819.3 616.9,845.1 610.6,871.0 605.4,896.8 601.0,922.6 597.7,948.4 595.1,974.3 592.7,1000.1 590.3,1025.9 589.0,1051.8 589.0,1077.6 589.0,1103.4 589.0,1129.2 589.0,1155.0 589.0,1180.9 589.0,1206.7 589.0,1232.5 589.0,1258.3 589.0,1284.2 589.0,1310.0 589.0,1335.8 589.0,1361.6 589.0,1387.5 589.0,1413.3" fill="none" stroke="#000000" stroke-width="4.0" stroke-linejoin="round"/>
<rect x="872.8" y="269.3" width="15.4" height="15.4" fill="#000000"/><rect x="883.1" y="295.1" width="15.4" height="15.4" fill="#000000"/><rect x="867.1" y="320.9" width="15.4" height="15.4" fill="#000000"/><rect x="851.2" y="346.8" width="15.4" height="15.4" fill="#000000"/><rect x="834.8" y="372.6" width="15.4" height="15.4" fill="#000000"/><rect x="818.4" y="398.4" width="15.4" height="15.4" fill="#000000"/><rect x="802.0" y="424.2" width="15.4" height="15.4" fill="#000000"/><rect x="786.1" y="450.1" width="15.4" height="15.4" fill="#000000"/><rect x="770.8" y="475.9" width="15.4" height="15.4" fill="#000000"/><rect x="755.7" y="501.7" width="15.4" height="15.4" fill="#000000"/><rect x="741.1" y="527.5" width="15.4" height="15.4" fill="#000000"/><rect x="726.3" y="553.4" width="15.4" height="15.4" fill="#000000"/><rect x="711.9" y="579.2" width="15.4" height="15.4" fill="#000000"/><rect x="698.5" y="605.0" width="15.4" height="15.4" fill="#000000"/><rect x="685.5" y="630.8" width="15.4" height="15.4" fill="#000000"/><rect x="673.0" y="656.7" width="15.4" height="15.4" fill="#000000"/><rect x="661.6" y="682.5" width="15.4" height="15.4" fill="#000000"/><rect x="650.9" y="708.3" width="15.4" height="15.4" fill="#000000"/><rect x="640.9" y="734.1" width="15.4" height="15.4" fill="#000000"/><rect x="631.7" y="760.0" width="15.4" height="15.4" fill="#000000"/><rect x="623.2" y="785.8" width="15.4" height="15.4" fill="#000000"/><rect x="616.0" y="811.6" width="15.4" height="15.4" fill="#000000"/><rect x="609.2" y="837.4" width="15.4" height="15.4" fill="#000000"/><rect x="602.9" y="863.3" width="15.4" height="15.4" fill="#000000"/><rect x="597.7" y="889.1" width="15.4" height="15.4" fill="#000000"/><rect x="593.3" y="914.9" width="15.4" height="15.4" fill="#000000"/><rect x="590.0" y="940.7" width="15.4" height="15.4" fill="#000000"/><rect x="587.4" y="966.6" width="15.4" height="15.4" fill="#000000"/><rect x="585.0" y="992.4" width="15.4" height="15.4" fill="#000000"/><rect x="582.6" y="1018.2" width="15.4" height="15.4" fill="#000000"/><rect x="581.3" y="1044.0" width="15.4" height="15.4" fill="#000000"/><rect x="581.3" y="1069.9" width="15.4" height="15.4" fill="#000000"/><rect x="581.3" y="1095.7" width="15.4" height="15.4" fill="#000000"/><rect x="581.3" y="1121.5" width="15.4" height="15.4" fill="#000000"/><rect x="581.3" y="1147.3" width="15.4" height="15.4" fill="#000000"/><rect x="581.3" y="1173.2" width="15.4" height="15.4" fill="#000000"/><rect x="581.3" y="1199.0" width="15.4" height="15.4" fill="#000000"/><rect x="581.3" y="1224.8" width="15.4" height="15.4" fill="#000000"/><rect x="581.3" y="1250.6" width="15.4" height="15.4" fill="#000000"/><rect x="581.3" y="1276.5" width="15.4" height="15.4" fill="#000000"/><rect x="581.3" y="1302.3" width="15.4" height="15.4" fill="#000000"/><rect x="581.3" y="1328.1" width="15.4" height="15.4" fill="#000000"/><rect x="581.3" y="1353.9" width="15.4" height="15.4" fill="#000000"/><rect x="581.3" y="1379.8" width="15.4" height="15.4" fill="#000000"/><rect x="581.3" y="1405.6" width="15.4" height="15.4" fill="#000000"/>
<text x="515.2" y="258.0" font-size="22.3" font-weight="normal" text-anchor="middle" fill="#000" >-4</text>
<text x="552.1" y="258.0" font-size="22.3" font-weight="normal" text-anchor="middle" fill="#000" >-2</text>
<text x="589.0" y="258.0" font-size="22.3" font-weight="normal" text-anchor="middle" fill="#000" >0</text>
<text x="625.9" y="258.0" font-size="22.3" font-weight="normal" text-anchor="middle" fill="#000" >2</text>
<text x="662.8" y="258.0" font-size="22.3" font-weight="normal" text-anchor="middle" fill="#000" >4</text>
<text x="699.7" y="258.0" font-size="22.3" font-weight="normal" text-anchor="middle" fill="#000" >6</text>
<text x="736.6" y="258.0" font-size="22.3" font-weight="normal" text-anchor="middle" fill="#000" >8</text>
<text x="773.5" y="258.0" font-size="22.3" font-weight="normal" text-anchor="middle" fill="#000" >10</text>
<text x="810.4" y="258.0" font-size="22.3" font-weight="normal" text-anchor="middle" fill="#000" >12</text>
<text x="847.3" y="258.0" font-size="22.3" font-weight="normal" text-anchor="middle" fill="#000" >14</text>
<text x="884.2" y="258.0" font-size="22.3" font-weight="normal" text-anchor="middle" fill="#000" >16</text>
<text x="921.1" y="258.0" font-size="22.3" font-weight="normal" text-anchor="middle" fill="#000" >18</text>
<text x="958.0" y="258.0" font-size="22.3" font-weight="normal" text-anchor="middle" fill="#000" >20</text>
<text x="994.9" y="258.0" font-size="22.3" font-weight="normal" text-anchor="middle" fill="#000" >22</text>
<text x="1031.8" y="258.0" font-size="22.3" font-weight="normal" text-anchor="middle" fill="#000" >24</text>
<text x="1068.7" y="258.0" font-size="22.3" font-weight="normal" text-anchor="middle" fill="#000" >26</text>
<text x="1105.6" y="258.0" font-size="22.3" font-weight="normal" text-anchor="middle" fill="#000" >28</text>
<text x="1142.5" y="258.0" font-size="22.3" font-weight="normal" text-anchor="middle" fill="#000" >30</text>
<text x="1179.4" y="258.0" font-size="22.3" font-weight="normal" text-anchor="middle" fill="#000" >32</text>
<text x="1216.3" y="258.0" font-size="22.3" font-weight="normal" text-anchor="middle" fill="#000" >34</text>
<text x="1253.2" y="258.0" font-size="22.3" font-weight="normal" text-anchor="middle" fill="#000" >36</text>
<text x="496.7" y="283.8" font-size="22.3" font-weight="normal" text-anchor="end" fill="#000" >0</text>
<text x="496.7" y="335.4" font-size="22.3" font-weight="normal" text-anchor="end" fill="#000" >1</text>
<text x="496.7" y="387.1" font-size="22.3" font-weight="normal" text-anchor="end" fill="#000" >2</text>
<text x="496.7" y="438.8" font-size="22.3" font-weight="normal" text-anchor="end" fill="#000" >3</text>
<text x="496.7" y="490.4" font-size="22.3" font-weight="normal" text-anchor="end" fill="#000" >4</text>
<text x="496.7" y="542.0" font-size="22.3" font-weight="normal" text-anchor="end" fill="#000" >5</text>
<text x="496.7" y="593.7" font-size="22.3" font-weight="normal" text-anchor="end" fill="#000" >6</text>
<text x="496.7" y="645.3" font-size="22.3" font-weight="normal" text-anchor="end" fill="#000" >7</text>
<text x="496.7" y="697.0" font-size="22.3" font-weight="normal" text-anchor="end" fill="#000" >8</text>
<text x="496.7" y="748.6" font-size="22.3" font-weight="normal" text-anchor="end" fill="#000" >9</text>
<text x="496.7" y="800.3" font-size="22.3" font-weight="normal" text-anchor="end" fill="#000" >10</text>
<text x="496.7" y="851.9" font-size="22.3" font-weight="normal" text-anchor="end" fill="#000" >11</text>
<text x="496.7" y="903.6" font-size="22.3" font-weight="normal" text-anchor="end" fill="#000" >12</text>
<text x="496.7" y="955.2" font-size="22.3" font-weight="normal" text-anchor="end" fill="#000" >13</text>
<text x="496.7" y="1006.9" font-size="22.3" font-weight="normal" text-anchor="end" fill="#000" >14</text>
<text x="496.7" y="1058.5" font-size="22.3" font-weight="normal" text-anchor="end" fill="#000" >15</text>
<text x="496.7" y="1110.2" font-size="22.3" font-weight="normal" text-anchor="end" fill="#000" >16</text>
<text x="496.7" y="1161.8" font-size="22.3" font-weight="normal" text-anchor="end" fill="#000" >17</text>
<text x="496.7" y="1213.5" font-size="22.3" font-weight="normal" text-anchor="end" fill="#000" >18</text>
<text x="496.7" y="1265.1" font-size="22.3" font-weight="normal" text-anchor="end" fill="#000" >19</text>
<text x="496.7" y="1316.8" font-size="22.3" font-weight="normal" text-anchor="end" fill="#000" >20</text>
<text x="496.7" y="1368.4" font-size="22.3" font-weight="normal" text-anchor="end" fill="#000" >21</text>
<text x="496.7" y="1420.1" font-size="22.3" font-weight="normal" text-anchor="end" fill="#000" >22</text>
<line x1="887.50" y1="299.50" x2="951.70" y2="299.50" stroke="#993300" stroke-width="3" />
<text x="958.6" y="311.0" font-size="26.4" font-weight="normal" text-anchor="start" fill="#000" textLength="252.6" lengthAdjust="spacing">Top of capping beam</text>
<text x="904.0" y="647.3" font-size="25.9" font-weight="normal" text-anchor="start" fill="#000" >Excavation Level</text>
<rect x="674.00" y="1312.00" width="298.70" height="86.70" fill="#fff" stroke="none" stroke-width="0" />
<text x="694.0" y="1346.0" font-size="22.2" font-weight="normal" text-anchor="start" fill="#000" >Broken lines indicate</text>
<text x="694.0" y="1375.0" font-size="22.6" font-weight="normal" text-anchor="start" fill="#000" >range of random error</text>
<line x1="1370.10" y1="270.50" x2="1370.10" y2="1413.30" stroke="#808080" stroke-width="2.4" />
<line x1="1407.00" y1="270.50" x2="1407.00" y2="1413.30" stroke="#808080" stroke-width="2.4" />
<line x1="1443.90" y1="270.50" x2="1443.90" y2="1413.30" stroke="#808080" stroke-width="2.4" />
<line x1="1480.80" y1="270.50" x2="1480.80" y2="1413.30" stroke="#808080" stroke-width="2.4" />
<line x1="1517.70" y1="270.50" x2="1517.70" y2="1413.30" stroke="#808080" stroke-width="2.4" />
<line x1="1554.60" y1="270.50" x2="1554.60" y2="1413.30" stroke="#808080" stroke-width="2.4" />
<line x1="1591.50" y1="270.50" x2="1591.50" y2="1413.30" stroke="#808080" stroke-width="2.4" />
<line x1="1628.40" y1="270.50" x2="1628.40" y2="1413.30" stroke="#808080" stroke-width="2.4" />
<line x1="1665.30" y1="270.50" x2="1665.30" y2="1413.30" stroke="#808080" stroke-width="2.4" />
<line x1="1702.20" y1="270.50" x2="1702.20" y2="1413.30" stroke="#808080" stroke-width="2.4" />
<line x1="1739.10" y1="270.50" x2="1739.10" y2="1413.30" stroke="#808080" stroke-width="2.4" />
<line x1="1776.00" y1="270.50" x2="1776.00" y2="1413.30" stroke="#808080" stroke-width="2.4" />
<line x1="1812.90" y1="270.50" x2="1812.90" y2="1413.30" stroke="#808080" stroke-width="2.4" />
<line x1="1849.80" y1="270.50" x2="1849.80" y2="1413.30" stroke="#808080" stroke-width="2.4" />
<line x1="1886.70" y1="270.50" x2="1886.70" y2="1413.30" stroke="#808080" stroke-width="2.4" />
<line x1="1923.60" y1="270.50" x2="1923.60" y2="1413.30" stroke="#808080" stroke-width="2.4" />
<line x1="1960.50" y1="270.50" x2="1960.50" y2="1413.30" stroke="#808080" stroke-width="2.4" />
<line x1="1997.40" y1="270.50" x2="1997.40" y2="1413.30" stroke="#808080" stroke-width="2.4" />
<line x1="2034.30" y1="270.50" x2="2034.30" y2="1413.30" stroke="#808080" stroke-width="2.4" />
<line x1="2071.20" y1="270.50" x2="2071.20" y2="1413.30" stroke="#808080" stroke-width="2.4" />
<line x1="2108.10" y1="270.50" x2="2108.10" y2="277.00" stroke="#808080" stroke-width="2.4" />
<line x1="1379.32" y1="272.40" x2="1379.32" y2="277.00" stroke="#808080" stroke-width="2.0" />
<line x1="1388.55" y1="272.40" x2="1388.55" y2="277.00" stroke="#808080" stroke-width="2.0" />
<line x1="1397.77" y1="272.40" x2="1397.77" y2="277.00" stroke="#808080" stroke-width="2.0" />
<line x1="1416.22" y1="272.40" x2="1416.22" y2="277.00" stroke="#808080" stroke-width="2.0" />
<line x1="1425.45" y1="272.40" x2="1425.45" y2="277.00" stroke="#808080" stroke-width="2.0" />
<line x1="1434.67" y1="272.40" x2="1434.67" y2="277.00" stroke="#808080" stroke-width="2.0" />
<line x1="1453.12" y1="272.40" x2="1453.12" y2="277.00" stroke="#808080" stroke-width="2.0" />
<line x1="1462.35" y1="272.40" x2="1462.35" y2="277.00" stroke="#808080" stroke-width="2.0" />
<line x1="1471.57" y1="272.40" x2="1471.57" y2="277.00" stroke="#808080" stroke-width="2.0" />
<line x1="1490.02" y1="272.40" x2="1490.02" y2="277.00" stroke="#808080" stroke-width="2.0" />
<line x1="1499.25" y1="272.40" x2="1499.25" y2="277.00" stroke="#808080" stroke-width="2.0" />
<line x1="1508.47" y1="272.40" x2="1508.47" y2="277.00" stroke="#808080" stroke-width="2.0" />
<line x1="1526.92" y1="272.40" x2="1526.92" y2="277.00" stroke="#808080" stroke-width="2.0" />
<line x1="1536.15" y1="272.40" x2="1536.15" y2="277.00" stroke="#808080" stroke-width="2.0" />
<line x1="1545.38" y1="272.40" x2="1545.38" y2="277.00" stroke="#808080" stroke-width="2.0" />
<line x1="1563.82" y1="272.40" x2="1563.82" y2="277.00" stroke="#808080" stroke-width="2.0" />
<line x1="1573.05" y1="272.40" x2="1573.05" y2="277.00" stroke="#808080" stroke-width="2.0" />
<line x1="1582.27" y1="272.40" x2="1582.27" y2="277.00" stroke="#808080" stroke-width="2.0" />
<line x1="1600.72" y1="272.40" x2="1600.72" y2="277.00" stroke="#808080" stroke-width="2.0" />
<line x1="1609.95" y1="272.40" x2="1609.95" y2="277.00" stroke="#808080" stroke-width="2.0" />
<line x1="1619.17" y1="272.40" x2="1619.17" y2="277.00" stroke="#808080" stroke-width="2.0" />
<line x1="1637.62" y1="272.40" x2="1637.62" y2="277.00" stroke="#808080" stroke-width="2.0" />
<line x1="1646.85" y1="272.40" x2="1646.85" y2="277.00" stroke="#808080" stroke-width="2.0" />
<line x1="1656.07" y1="272.40" x2="1656.07" y2="277.00" stroke="#808080" stroke-width="2.0" />
<line x1="1674.52" y1="272.40" x2="1674.52" y2="277.00" stroke="#808080" stroke-width="2.0" />
<line x1="1683.75" y1="272.40" x2="1683.75" y2="277.00" stroke="#808080" stroke-width="2.0" />
<line x1="1692.97" y1="272.40" x2="1692.97" y2="277.00" stroke="#808080" stroke-width="2.0" />
<line x1="1711.42" y1="272.40" x2="1711.42" y2="277.00" stroke="#808080" stroke-width="2.0" />
<line x1="1720.65" y1="272.40" x2="1720.65" y2="277.00" stroke="#808080" stroke-width="2.0" />
<line x1="1729.88" y1="272.40" x2="1729.88" y2="277.00" stroke="#808080" stroke-width="2.0" />
<line x1="1748.32" y1="272.40" x2="1748.32" y2="277.00" stroke="#808080" stroke-width="2.0" />
<line x1="1757.55" y1="272.40" x2="1757.55" y2="277.00" stroke="#808080" stroke-width="2.0" />
<line x1="1766.77" y1="272.40" x2="1766.77" y2="277.00" stroke="#808080" stroke-width="2.0" />
<line x1="1785.22" y1="272.40" x2="1785.22" y2="277.00" stroke="#808080" stroke-width="2.0" />
<line x1="1794.45" y1="272.40" x2="1794.45" y2="277.00" stroke="#808080" stroke-width="2.0" />
<line x1="1803.67" y1="272.40" x2="1803.67" y2="277.00" stroke="#808080" stroke-width="2.0" />
<line x1="1822.12" y1="272.40" x2="1822.12" y2="277.00" stroke="#808080" stroke-width="2.0" />
<line x1="1831.35" y1="272.40" x2="1831.35" y2="277.00" stroke="#808080" stroke-width="2.0" />
<line x1="1840.57" y1="272.40" x2="1840.57" y2="277.00" stroke="#808080" stroke-width="2.0" />
<line x1="1859.02" y1="272.40" x2="1859.02" y2="277.00" stroke="#808080" stroke-width="2.0" />
<line x1="1868.25" y1="272.40" x2="1868.25" y2="277.00" stroke="#808080" stroke-width="2.0" />
<line x1="1877.47" y1="272.40" x2="1877.47" y2="277.00" stroke="#808080" stroke-width="2.0" />
<line x1="1895.92" y1="272.40" x2="1895.92" y2="277.00" stroke="#808080" stroke-width="2.0" />
<line x1="1905.15" y1="272.40" x2="1905.15" y2="277.00" stroke="#808080" stroke-width="2.0" />
<line x1="1914.38" y1="272.40" x2="1914.38" y2="277.00" stroke="#808080" stroke-width="2.0" />
<line x1="1932.82" y1="272.40" x2="1932.82" y2="277.00" stroke="#808080" stroke-width="2.0" />
<line x1="1942.05" y1="272.40" x2="1942.05" y2="277.00" stroke="#808080" stroke-width="2.0" />
<line x1="1951.27" y1="272.40" x2="1951.27" y2="277.00" stroke="#808080" stroke-width="2.0" />
<line x1="1969.72" y1="272.40" x2="1969.72" y2="277.00" stroke="#808080" stroke-width="2.0" />
<line x1="1978.95" y1="272.40" x2="1978.95" y2="277.00" stroke="#808080" stroke-width="2.0" />
<line x1="1988.17" y1="272.40" x2="1988.17" y2="277.00" stroke="#808080" stroke-width="2.0" />
<line x1="2006.62" y1="272.40" x2="2006.62" y2="277.00" stroke="#808080" stroke-width="2.0" />
<line x1="2015.85" y1="272.40" x2="2015.85" y2="277.00" stroke="#808080" stroke-width="2.0" />
<line x1="2025.07" y1="272.40" x2="2025.07" y2="277.00" stroke="#808080" stroke-width="2.0" />
<line x1="2043.52" y1="272.40" x2="2043.52" y2="277.00" stroke="#808080" stroke-width="2.0" />
<line x1="2052.75" y1="272.40" x2="2052.75" y2="277.00" stroke="#808080" stroke-width="2.0" />
<line x1="2061.97" y1="272.40" x2="2061.97" y2="277.00" stroke="#808080" stroke-width="2.0" />
<line x1="2080.42" y1="272.40" x2="2080.42" y2="277.00" stroke="#808080" stroke-width="2.0" />
<line x1="2089.65" y1="272.40" x2="2089.65" y2="277.00" stroke="#808080" stroke-width="2.0" />
<line x1="2098.88" y1="272.40" x2="2098.88" y2="277.00" stroke="#808080" stroke-width="2.0" />
<line x1="1363.10" y1="277.00" x2="2108.10" y2="277.00" stroke="#808080" stroke-width="2.4" />
<line x1="1363.10" y1="328.65" x2="2108.10" y2="328.65" stroke="#808080" stroke-width="2.4" />
<line x1="1363.10" y1="380.30" x2="2108.10" y2="380.30" stroke="#808080" stroke-width="2.4" />
<line x1="1363.10" y1="431.95" x2="2108.10" y2="431.95" stroke="#808080" stroke-width="2.4" />
<line x1="1363.10" y1="483.60" x2="2108.10" y2="483.60" stroke="#808080" stroke-width="2.4" />
<line x1="1363.10" y1="535.25" x2="2108.10" y2="535.25" stroke="#808080" stroke-width="2.4" />
<line x1="1363.10" y1="586.90" x2="2108.10" y2="586.90" stroke="#808080" stroke-width="2.4" />
<line x1="1363.10" y1="638.55" x2="2108.10" y2="638.55" stroke="#808080" stroke-width="2.4" />
<line x1="1363.10" y1="690.20" x2="2108.10" y2="690.20" stroke="#808080" stroke-width="2.4" />
<line x1="1363.10" y1="741.85" x2="2108.10" y2="741.85" stroke="#808080" stroke-width="2.4" />
<line x1="1363.10" y1="793.50" x2="2108.10" y2="793.50" stroke="#808080" stroke-width="2.4" />
<line x1="1363.10" y1="845.15" x2="2108.10" y2="845.15" stroke="#808080" stroke-width="2.4" />
<line x1="1363.10" y1="896.80" x2="2108.10" y2="896.80" stroke="#808080" stroke-width="2.4" />
<line x1="1363.10" y1="948.45" x2="2108.10" y2="948.45" stroke="#808080" stroke-width="2.4" />
<line x1="1363.10" y1="1000.10" x2="2108.10" y2="1000.10" stroke="#808080" stroke-width="2.4" />
<line x1="1363.10" y1="1051.75" x2="2108.10" y2="1051.75" stroke="#808080" stroke-width="2.4" />
<line x1="1363.10" y1="1103.40" x2="2108.10" y2="1103.40" stroke="#808080" stroke-width="2.4" />
<line x1="1363.10" y1="1155.05" x2="2108.10" y2="1155.05" stroke="#808080" stroke-width="2.4" />
<line x1="1363.10" y1="1206.70" x2="2108.10" y2="1206.70" stroke="#808080" stroke-width="2.4" />
<line x1="1363.10" y1="1258.35" x2="2108.10" y2="1258.35" stroke="#808080" stroke-width="2.4" />
<line x1="1363.10" y1="1310.00" x2="2108.10" y2="1310.00" stroke="#808080" stroke-width="2.4" />
<line x1="1363.10" y1="1361.65" x2="2108.10" y2="1361.65" stroke="#808080" stroke-width="2.4" />
<line x1="1363.10" y1="1413.30" x2="1370.10" y2="1413.30" stroke="#808080" stroke-width="2.4" />
<line x1="1365.10" y1="302.82" x2="1370.10" y2="302.82" stroke="#808080" stroke-width="2.0" />
<line x1="1365.10" y1="354.48" x2="1370.10" y2="354.48" stroke="#808080" stroke-width="2.0" />
<line x1="1365.10" y1="406.12" x2="1370.10" y2="406.12" stroke="#808080" stroke-width="2.0" />
<line x1="1365.10" y1="457.77" x2="1370.10" y2="457.77" stroke="#808080" stroke-width="2.0" />
<line x1="1365.10" y1="509.42" x2="1370.10" y2="509.42" stroke="#808080" stroke-width="2.0" />
<line x1="1365.10" y1="561.08" x2="1370.10" y2="561.08" stroke="#808080" stroke-width="2.0" />
<line x1="1365.10" y1="612.72" x2="1370.10" y2="612.72" stroke="#808080" stroke-width="2.0" />
<line x1="1365.10" y1="664.38" x2="1370.10" y2="664.38" stroke="#808080" stroke-width="2.0" />
<line x1="1365.10" y1="716.02" x2="1370.10" y2="716.02" stroke="#808080" stroke-width="2.0" />
<line x1="1365.10" y1="767.67" x2="1370.10" y2="767.67" stroke="#808080" stroke-width="2.0" />
<line x1="1365.10" y1="819.32" x2="1370.10" y2="819.32" stroke="#808080" stroke-width="2.0" />
<line x1="1365.10" y1="870.98" x2="1370.10" y2="870.98" stroke="#808080" stroke-width="2.0" />
<line x1="1365.10" y1="922.62" x2="1370.10" y2="922.62" stroke="#808080" stroke-width="2.0" />
<line x1="1365.10" y1="974.27" x2="1370.10" y2="974.27" stroke="#808080" stroke-width="2.0" />
<line x1="1365.10" y1="1025.92" x2="1370.10" y2="1025.92" stroke="#808080" stroke-width="2.0" />
<line x1="1365.10" y1="1077.57" x2="1370.10" y2="1077.57" stroke="#808080" stroke-width="2.0" />
<line x1="1365.10" y1="1129.22" x2="1370.10" y2="1129.22" stroke="#808080" stroke-width="2.0" />
<line x1="1365.10" y1="1180.88" x2="1370.10" y2="1180.88" stroke="#808080" stroke-width="2.0" />
<line x1="1365.10" y1="1232.53" x2="1370.10" y2="1232.53" stroke="#808080" stroke-width="2.0" />
<line x1="1365.10" y1="1284.17" x2="1370.10" y2="1284.17" stroke="#808080" stroke-width="2.0" />
<line x1="1365.10" y1="1335.83" x2="1370.10" y2="1335.83" stroke="#808080" stroke-width="2.0" />
<line x1="1365.10" y1="1387.47" x2="1370.10" y2="1387.47" stroke="#808080" stroke-width="2.0" />
<line x1="2089.50" y1="277.00" x2="2089.50" y2="1413.30" stroke="#FFC000" stroke-width="6.8" />
<line x1="2108.10" y1="277.00" x2="2108.10" y2="1414.80" stroke="#000" stroke-width="2.6" />
<line x1="1369.10" y1="1413.30" x2="2109.40" y2="1413.30" stroke="#000" stroke-width="3" />
<line x1="1443.90" y1="664.38" x2="2109.40" y2="664.38" stroke="#000" stroke-width="5.5" />
<line x1="1424.3" y1="298.7" x2="1443.0" y2="1413.3" stroke="#000" stroke-width="5.4" stroke-linecap="round" stroke-dasharray="37.3 22.3"/>
<line x1="1463.5" y1="298.7" x2="1444.8" y2="1413.3" stroke="#000" stroke-width="5.4" stroke-linecap="round" stroke-dasharray="37.3 22.3"/>
<circle cx="1463.3" cy="278.5" r="2.6" fill="#000"/>
<polyline points="1440.8,277.0 1438.9,302.8 1439.3,328.6 1439.7,354.5 1438.8,380.3 1439.8,406.1 1440.1,431.9 1438.7,457.8 1441.5,483.6 1441.3,509.4 1440.3,535.2 1440.9,561.1 1441.7,586.9 1441.2,612.7 1441.4,638.5 1440.4,664.4 1442.5,690.2 1442.1,716.0 1442.4,741.8 1440.8,767.7 1443.8,793.5 1442.5,819.3 1442.0,845.1 1444.3,871.0 1442.5,896.8 1441.4,922.6 1442.5,948.4 1441.0,974.3 1444.2,1000.1 1443.1,1025.9 1442.8,1051.8 1445.5,1077.6 1441.5,1103.4 1444.7,1129.2 1440.9,1155.0 1442.9,1180.9 1442.1,1206.7 1446.1,1232.5 1446.5,1258.3 1443.4,1284.2 1445.1,1310.0 1443.6,1335.8 1444.7,1361.6 1442.8,1387.5 1441.4,1413.3" fill="none" stroke="#FF0000" stroke-width="3" stroke-linejoin="round"/>
<path d="M1440.8 271.8L1446.0 277.0L1440.8 282.2L1435.6 277.0Z" fill="#FF3300" stroke="#FF0000" stroke-width="1"/><path d="M1438.9 297.6L1444.1 302.8L1438.9 308.0L1433.7 302.8Z" fill="#FF3300" stroke="#FF0000" stroke-width="1"/><path d="M1439.3 323.4L1444.5 328.6L1439.3 333.8L1434.1 328.6Z" fill="#FF3300" stroke="#FF0000" stroke-width="1"/><path d="M1439.7 349.3L1444.9 354.5L1439.7 359.7L1434.5 354.5Z" fill="#FF3300" stroke="#FF0000" stroke-width="1"/><path d="M1438.8 375.1L1444.0 380.3L1438.8 385.5L1433.6 380.3Z" fill="#FF3300" stroke="#FF0000" stroke-width="1"/><path d="M1439.8 400.9L1445.0 406.1L1439.8 411.3L1434.6 406.1Z" fill="#FF3300" stroke="#FF0000" stroke-width="1"/><path d="M1440.1 426.8L1445.3 431.9L1440.1 437.1L1434.9 431.9Z" fill="#FF3300" stroke="#FF0000" stroke-width="1"/><path d="M1438.7 452.6L1443.9 457.8L1438.7 463.0L1433.5 457.8Z" fill="#FF3300" stroke="#FF0000" stroke-width="1"/><path d="M1441.5 478.4L1446.7 483.6L1441.5 488.8L1436.3 483.6Z" fill="#FF3300" stroke="#FF0000" stroke-width="1"/><path d="M1441.3 504.2L1446.5 509.4L1441.3 514.6L1436.1 509.4Z" fill="#FF3300" stroke="#FF0000" stroke-width="1"/><path d="M1440.3 530.0L1445.5 535.2L1440.3 540.5L1435.1 535.2Z" fill="#FF3300" stroke="#FF0000" stroke-width="1"/><path d="M1440.9 555.9L1446.1 561.1L1440.9 566.3L1435.7 561.1Z" fill="#FF3300" stroke="#FF0000" stroke-width="1"/><path d="M1441.7 581.7L1446.9 586.9L1441.7 592.1L1436.5 586.9Z" fill="#FF3300" stroke="#FF0000" stroke-width="1"/><path d="M1441.2 607.5L1446.4 612.7L1441.2 617.9L1436.0 612.7Z" fill="#FF3300" stroke="#FF0000" stroke-width="1"/><path d="M1441.4 633.3L1446.6 638.5L1441.4 643.8L1436.2 638.5Z" fill="#FF3300" stroke="#FF0000" stroke-width="1"/><path d="M1440.4 659.2L1445.6 664.4L1440.4 669.6L1435.2 664.4Z" fill="#FF3300" stroke="#FF0000" stroke-width="1"/><path d="M1442.5 685.0L1447.7 690.2L1442.5 695.4L1437.3 690.2Z" fill="#FF3300" stroke="#FF0000" stroke-width="1"/><path d="M1442.1 710.8L1447.3 716.0L1442.1 721.2L1436.9 716.0Z" fill="#FF3300" stroke="#FF0000" stroke-width="1"/><path d="M1442.4 736.6L1447.6 741.8L1442.4 747.0L1437.2 741.8Z" fill="#FF3300" stroke="#FF0000" stroke-width="1"/><path d="M1440.8 762.5L1446.0 767.7L1440.8 772.9L1435.6 767.7Z" fill="#FF3300" stroke="#FF0000" stroke-width="1"/><path d="M1443.8 788.3L1449.0 793.5L1443.8 798.7L1438.6 793.5Z" fill="#FF3300" stroke="#FF0000" stroke-width="1"/><path d="M1442.5 814.1L1447.7 819.3L1442.5 824.5L1437.3 819.3Z" fill="#FF3300" stroke="#FF0000" stroke-width="1"/><path d="M1442.0 839.9L1447.2 845.1L1442.0 850.4L1436.8 845.1Z" fill="#FF3300" stroke="#FF0000" stroke-width="1"/><path d="M1444.3 865.8L1449.5 871.0L1444.3 876.2L1439.1 871.0Z" fill="#FF3300" stroke="#FF0000" stroke-width="1"/><path d="M1442.5 891.6L1447.7 896.8L1442.5 902.0L1437.3 896.8Z" fill="#FF3300" stroke="#FF0000" stroke-width="1"/><path d="M1441.4 917.4L1446.6 922.6L1441.4 927.8L1436.2 922.6Z" fill="#FF3300" stroke="#FF0000" stroke-width="1"/><path d="M1442.5 943.2L1447.7 948.4L1442.5 953.6L1437.3 948.4Z" fill="#FF3300" stroke="#FF0000" stroke-width="1"/><path d="M1441.0 969.1L1446.2 974.3L1441.0 979.5L1435.8 974.3Z" fill="#FF3300" stroke="#FF0000" stroke-width="1"/><path d="M1444.2 994.9L1449.4 1000.1L1444.2 1005.3L1439.0 1000.1Z" fill="#FF3300" stroke="#FF0000" stroke-width="1"/><path d="M1443.1 1020.7L1448.3 1025.9L1443.1 1031.1L1437.9 1025.9Z" fill="#FF3300" stroke="#FF0000" stroke-width="1"/><path d="M1442.8 1046.5L1448.0 1051.8L1442.8 1057.0L1437.6 1051.8Z" fill="#FF3300" stroke="#FF0000" stroke-width="1"/><path d="M1445.5 1072.4L1450.7 1077.6L1445.5 1082.8L1440.3 1077.6Z" fill="#FF3300" stroke="#FF0000" stroke-width="1"/><path d="M1441.5 1098.2L1446.7 1103.4L1441.5 1108.6L1436.3 1103.4Z" fill="#FF3300" stroke="#FF0000" stroke-width="1"/><path d="M1444.7 1124.0L1449.9 1129.2L1444.7 1134.4L1439.5 1129.2Z" fill="#FF3300" stroke="#FF0000" stroke-width="1"/><path d="M1440.9 1149.8L1446.1 1155.0L1440.9 1160.2L1435.7 1155.0Z" fill="#FF3300" stroke="#FF0000" stroke-width="1"/><path d="M1442.9 1175.7L1448.1 1180.9L1442.9 1186.1L1437.7 1180.9Z" fill="#FF3300" stroke="#FF0000" stroke-width="1"/><path d="M1442.1 1201.5L1447.3 1206.7L1442.1 1211.9L1436.9 1206.7Z" fill="#FF3300" stroke="#FF0000" stroke-width="1"/><path d="M1446.1 1227.3L1451.3 1232.5L1446.1 1237.7L1440.9 1232.5Z" fill="#FF3300" stroke="#FF0000" stroke-width="1"/><path d="M1446.5 1253.1L1451.7 1258.3L1446.5 1263.5L1441.3 1258.3Z" fill="#FF3300" stroke="#FF0000" stroke-width="1"/><path d="M1443.4 1279.0L1448.6 1284.2L1443.4 1289.4L1438.2 1284.2Z" fill="#FF3300" stroke="#FF0000" stroke-width="1"/><path d="M1445.1 1304.8L1450.3 1310.0L1445.1 1315.2L1439.9 1310.0Z" fill="#FF3300" stroke="#FF0000" stroke-width="1"/><path d="M1443.6 1330.6L1448.8 1335.8L1443.6 1341.0L1438.4 1335.8Z" fill="#FF3300" stroke="#FF0000" stroke-width="1"/><path d="M1444.7 1356.4L1449.9 1361.6L1444.7 1366.8L1439.5 1361.6Z" fill="#FF3300" stroke="#FF0000" stroke-width="1"/><path d="M1442.8 1382.3L1448.0 1387.5L1442.8 1392.7L1437.6 1387.5Z" fill="#FF3300" stroke="#FF0000" stroke-width="1"/><path d="M1441.4 1408.1L1446.6 1413.3L1441.4 1418.5L1436.2 1413.3Z" fill="#FF3300" stroke="#FF0000" stroke-width="1"/>
<polyline points="1444.1,277.0 1446.1,302.8 1447.8,328.6 1446.0,354.5 1445.2,380.3 1447.3,406.1 1445.7,431.9 1445.4,457.8 1445.5,483.6 1445.0,509.4 1444.8,535.2 1443.7,561.1 1445.4,586.9 1444.8,612.7 1445.9,638.5 1444.4,664.4 1442.9,690.2 1444.6,716.0 1446.2,741.8 1444.2,767.7 1443.7,793.5 1443.4,819.3 1443.5,845.1 1444.2,871.0 1443.4,896.8 1445.8,922.6 1444.0,948.4 1444.3,974.3 1445.5,1000.1 1445.5,1025.9 1443.6,1051.8 1444.4,1077.6 1445.0,1103.4 1443.6,1129.2 1441.3,1155.0 1444.9,1180.9 1445.2,1206.7 1444.5,1232.5 1442.5,1258.3 1443.6,1284.2 1443.0,1310.0 1443.5,1335.8 1445.8,1361.6 1446.2,1387.5 1444.9,1413.3" fill="none" stroke="#B3A2C7" stroke-width="3.4" stroke-linejoin="round"/>
<path d="M1444.1 271.4L1449.7 277.0L1444.1 282.6L1438.5 277.0Z" fill="#B3A2C7"/><path d="M1446.1 297.2L1451.7 302.8L1446.1 308.4L1440.5 302.8Z" fill="#B3A2C7"/><path d="M1447.8 323.0L1453.4 328.6L1447.8 334.2L1442.2 328.6Z" fill="#B3A2C7"/><path d="M1446.0 348.9L1451.6 354.5L1446.0 360.1L1440.4 354.5Z" fill="#B3A2C7"/><path d="M1445.2 374.7L1450.8 380.3L1445.2 385.9L1439.6 380.3Z" fill="#B3A2C7"/><path d="M1447.3 400.5L1452.9 406.1L1447.3 411.7L1441.7 406.1Z" fill="#B3A2C7"/><path d="M1445.7 426.3L1451.3 431.9L1445.7 437.6L1440.1 431.9Z" fill="#B3A2C7"/><path d="M1445.4 452.2L1451.0 457.8L1445.4 463.4L1439.8 457.8Z" fill="#B3A2C7"/><path d="M1445.5 478.0L1451.1 483.6L1445.5 489.2L1439.9 483.6Z" fill="#B3A2C7"/><path d="M1445.0 503.8L1450.6 509.4L1445.0 515.0L1439.4 509.4Z" fill="#B3A2C7"/><path d="M1444.8 529.6L1450.4 535.2L1444.8 540.9L1439.2 535.2Z" fill="#B3A2C7"/><path d="M1443.7 555.5L1449.3 561.1L1443.7 566.7L1438.1 561.1Z" fill="#B3A2C7"/><path d="M1445.4 581.3L1451.0 586.9L1445.4 592.5L1439.8 586.9Z" fill="#B3A2C7"/><path d="M1444.8 607.1L1450.4 612.7L1444.8 618.3L1439.2 612.7Z" fill="#B3A2C7"/><path d="M1445.9 632.9L1451.5 638.5L1445.9 644.1L1440.3 638.5Z" fill="#B3A2C7"/><path d="M1444.4 658.8L1450.0 664.4L1444.4 670.0L1438.8 664.4Z" fill="#B3A2C7"/><path d="M1442.9 684.6L1448.5 690.2L1442.9 695.8L1437.3 690.2Z" fill="#B3A2C7"/><path d="M1444.6 710.4L1450.2 716.0L1444.6 721.6L1439.0 716.0Z" fill="#B3A2C7"/><path d="M1446.2 736.2L1451.8 741.8L1446.2 747.4L1440.6 741.8Z" fill="#B3A2C7"/><path d="M1444.2 762.1L1449.8 767.7L1444.2 773.3L1438.6 767.7Z" fill="#B3A2C7"/><path d="M1443.7 787.9L1449.3 793.5L1443.7 799.1L1438.1 793.5Z" fill="#B3A2C7"/><path d="M1443.4 813.7L1449.0 819.3L1443.4 824.9L1437.8 819.3Z" fill="#B3A2C7"/><path d="M1443.5 839.5L1449.1 845.1L1443.5 850.8L1437.9 845.1Z" fill="#B3A2C7"/><path d="M1444.2 865.4L1449.8 871.0L1444.2 876.6L1438.6 871.0Z" fill="#B3A2C7"/><path d="M1443.4 891.2L1449.0 896.8L1443.4 902.4L1437.8 896.8Z" fill="#B3A2C7"/><path d="M1445.8 917.0L1451.4 922.6L1445.8 928.2L1440.2 922.6Z" fill="#B3A2C7"/><path d="M1444.0 942.8L1449.6 948.4L1444.0 954.0L1438.4 948.4Z" fill="#B3A2C7"/><path d="M1444.3 968.7L1449.9 974.3L1444.3 979.9L1438.7 974.3Z" fill="#B3A2C7"/><path d="M1445.5 994.5L1451.1 1000.1L1445.5 1005.7L1439.9 1000.1Z" fill="#B3A2C7"/><path d="M1445.5 1020.3L1451.1 1025.9L1445.5 1031.5L1439.9 1025.9Z" fill="#B3A2C7"/><path d="M1443.6 1046.2L1449.2 1051.8L1443.6 1057.3L1438.0 1051.8Z" fill="#B3A2C7"/><path d="M1444.4 1072.0L1450.0 1077.6L1444.4 1083.2L1438.8 1077.6Z" fill="#B3A2C7"/><path d="M1445.0 1097.8L1450.6 1103.4L1445.0 1109.0L1439.4 1103.4Z" fill="#B3A2C7"/><path d="M1443.6 1123.6L1449.2 1129.2L1443.6 1134.8L1438.0 1129.2Z" fill="#B3A2C7"/><path d="M1441.3 1149.5L1446.9 1155.0L1441.3 1160.6L1435.7 1155.0Z" fill="#B3A2C7"/><path d="M1444.9 1175.3L1450.5 1180.9L1444.9 1186.5L1439.3 1180.9Z" fill="#B3A2C7"/><path d="M1445.2 1201.1L1450.8 1206.7L1445.2 1212.3L1439.6 1206.7Z" fill="#B3A2C7"/><path d="M1444.5 1226.9L1450.1 1232.5L1444.5 1238.1L1438.9 1232.5Z" fill="#B3A2C7"/><path d="M1442.5 1252.8L1448.1 1258.3L1442.5 1263.9L1436.9 1258.3Z" fill="#B3A2C7"/><path d="M1443.6 1278.6L1449.2 1284.2L1443.6 1289.8L1438.0 1284.2Z" fill="#B3A2C7"/><path d="M1443.0 1304.4L1448.6 1310.0L1443.0 1315.6L1437.4 1310.0Z" fill="#B3A2C7"/><path d="M1443.5 1330.2L1449.1 1335.8L1443.5 1341.4L1437.9 1335.8Z" fill="#B3A2C7"/><path d="M1445.8 1356.0L1451.4 1361.6L1445.8 1367.2L1440.2 1361.6Z" fill="#B3A2C7"/><path d="M1446.2 1381.9L1451.8 1387.5L1446.2 1393.1L1440.6 1387.5Z" fill="#B3A2C7"/><path d="M1444.9 1407.7L1450.5 1413.3L1444.9 1418.9L1439.3 1413.3Z" fill="#B3A2C7"/>
<polyline points="1448.1,277.0 1448.2,302.8 1447.6,328.6 1447.5,354.5 1446.8,380.3 1447.1,406.1 1449.1,431.9 1447.6,457.8 1446.2,483.6 1446.0,509.4 1445.5,535.2 1446.5,561.1 1446.4,586.9 1444.5,612.7 1446.2,638.5 1445.1,664.4 1446.8,690.2 1445.5,716.0 1446.9,741.8 1444.9,767.7 1445.0,793.5 1445.4,819.3 1446.1,845.1 1445.6,871.0 1443.9,896.8 1445.0,922.6 1444.7,948.4 1444.2,974.3 1443.8,1000.1 1445.9,1025.9 1443.3,1051.8 1442.7,1077.6 1444.8,1103.4 1444.1,1129.2 1443.8,1155.0 1445.1,1180.9 1444.6,1206.7 1444.4,1232.5 1445.3,1258.3 1444.3,1284.2 1443.0,1310.0 1443.4,1335.8 1443.1,1361.6 1444.2,1387.5 1442.3,1413.3" fill="none" stroke="#948A54" stroke-width="3.2" stroke-linejoin="round"/>
<circle cx="1448.1" cy="277.0" r="5.4" fill="#948A54"/><circle cx="1448.2" cy="302.8" r="5.4" fill="#948A54"/><circle cx="1447.6" cy="328.6" r="5.4" fill="#948A54"/><circle cx="1447.5" cy="354.5" r="5.4" fill="#948A54"/><circle cx="1446.8" cy="380.3" r="5.4" fill="#948A54"/><circle cx="1447.1" cy="406.1" r="5.4" fill="#948A54"/><circle cx="1449.1" cy="431.9" r="5.4" fill="#948A54"/><circle cx="1447.6" cy="457.8" r="5.4" fill="#948A54"/><circle cx="1446.2" cy="483.6" r="5.4" fill="#948A54"/><circle cx="1446.0" cy="509.4" r="5.4" fill="#948A54"/><circle cx="1445.5" cy="535.2" r="5.4" fill="#948A54"/><circle cx="1446.5" cy="561.1" r="5.4" fill="#948A54"/><circle cx="1446.4" cy="586.9" r="5.4" fill="#948A54"/><circle cx="1444.5" cy="612.7" r="5.4" fill="#948A54"/><circle cx="1446.2" cy="638.5" r="5.4" fill="#948A54"/><circle cx="1445.1" cy="664.4" r="5.4" fill="#948A54"/><circle cx="1446.8" cy="690.2" r="5.4" fill="#948A54"/><circle cx="1445.5" cy="716.0" r="5.4" fill="#948A54"/><circle cx="1446.9" cy="741.8" r="5.4" fill="#948A54"/><circle cx="1444.9" cy="767.7" r="5.4" fill="#948A54"/><circle cx="1445.0" cy="793.5" r="5.4" fill="#948A54"/><circle cx="1445.4" cy="819.3" r="5.4" fill="#948A54"/><circle cx="1446.1" cy="845.1" r="5.4" fill="#948A54"/><circle cx="1445.6" cy="871.0" r="5.4" fill="#948A54"/><circle cx="1443.9" cy="896.8" r="5.4" fill="#948A54"/><circle cx="1445.0" cy="922.6" r="5.4" fill="#948A54"/><circle cx="1444.7" cy="948.4" r="5.4" fill="#948A54"/><circle cx="1444.2" cy="974.3" r="5.4" fill="#948A54"/><circle cx="1443.8" cy="1000.1" r="5.4" fill="#948A54"/><circle cx="1445.9" cy="1025.9" r="5.4" fill="#948A54"/><circle cx="1443.3" cy="1051.8" r="5.4" fill="#948A54"/><circle cx="1442.7" cy="1077.6" r="5.4" fill="#948A54"/><circle cx="1444.8" cy="1103.4" r="5.4" fill="#948A54"/><circle cx="1444.1" cy="1129.2" r="5.4" fill="#948A54"/><circle cx="1443.8" cy="1155.0" r="5.4" fill="#948A54"/><circle cx="1445.1" cy="1180.9" r="5.4" fill="#948A54"/><circle cx="1444.6" cy="1206.7" r="5.4" fill="#948A54"/><circle cx="1444.4" cy="1232.5" r="5.4" fill="#948A54"/><circle cx="1445.3" cy="1258.3" r="5.4" fill="#948A54"/><circle cx="1444.3" cy="1284.2" r="5.4" fill="#948A54"/><circle cx="1443.0" cy="1310.0" r="5.4" fill="#948A54"/><circle cx="1443.4" cy="1335.8" r="5.4" fill="#948A54"/><circle cx="1443.1" cy="1361.6" r="5.4" fill="#948A54"/><circle cx="1444.2" cy="1387.5" r="5.4" fill="#948A54"/><circle cx="1442.3" cy="1413.3" r="5.4" fill="#948A54"/>
<polyline points="1431.1,277.0 1432.9,302.8 1431.6,328.6 1431.0,354.5 1433.8,380.3 1433.4,406.1 1435.1,431.9 1434.8,457.8 1434.9,483.6 1435.2,509.4 1436.3,535.2 1436.9,561.1 1436.8,586.9 1437.7,612.7 1437.0,638.5 1438.8,664.4 1437.6,690.2 1439.2,716.0 1440.2,741.8 1440.8,767.7 1441.5,793.5 1438.6,819.3 1440.9,845.1 1441.5,871.0 1441.5,896.8 1440.2,922.6 1441.8,948.4 1443.6,974.3 1441.0,1000.1 1443.2,1025.9 1445.5,1051.8 1448.4,1077.6 1450.3,1103.4 1447.9,1129.2 1442.7,1155.0 1442.7,1180.9 1444.2,1206.7 1443.8,1232.5 1445.3,1258.3 1442.5,1284.2 1443.7,1310.0 1445.3,1335.8 1444.7,1361.6 1441.9,1387.5 1444.9,1413.3" fill="none" stroke="#D99694" stroke-width="3.4" stroke-linejoin="round"/>
<rect x="1426.1" y="272.0" width="10.0" height="10.0" fill="#D99694"/><rect x="1427.9" y="297.8" width="10.0" height="10.0" fill="#D99694"/><rect x="1426.6" y="323.6" width="10.0" height="10.0" fill="#D99694"/><rect x="1426.0" y="349.5" width="10.0" height="10.0" fill="#D99694"/><rect x="1428.8" y="375.3" width="10.0" height="10.0" fill="#D99694"/><rect x="1428.4" y="401.1" width="10.0" height="10.0" fill="#D99694"/><rect x="1430.1" y="426.9" width="10.0" height="10.0" fill="#D99694"/><rect x="1429.8" y="452.8" width="10.0" height="10.0" fill="#D99694"/><rect x="1429.9" y="478.6" width="10.0" height="10.0" fill="#D99694"/><rect x="1430.2" y="504.4" width="10.0" height="10.0" fill="#D99694"/><rect x="1431.3" y="530.2" width="10.0" height="10.0" fill="#D99694"/><rect x="1431.9" y="556.1" width="10.0" height="10.0" fill="#D99694"/><rect x="1431.8" y="581.9" width="10.0" height="10.0" fill="#D99694"/><rect x="1432.7" y="607.7" width="10.0" height="10.0" fill="#D99694"/><rect x="1432.0" y="633.5" width="10.0" height="10.0" fill="#D99694"/><rect x="1433.8" y="659.4" width="10.0" height="10.0" fill="#D99694"/><rect x="1432.6" y="685.2" width="10.0" height="10.0" fill="#D99694"/><rect x="1434.2" y="711.0" width="10.0" height="10.0" fill="#D99694"/><rect x="1435.2" y="736.8" width="10.0" height="10.0" fill="#D99694"/><rect x="1435.8" y="762.7" width="10.0" height="10.0" fill="#D99694"/><rect x="1436.5" y="788.5" width="10.0" height="10.0" fill="#D99694"/><rect x="1433.6" y="814.3" width="10.0" height="10.0" fill="#D99694"/><rect x="1435.9" y="840.1" width="10.0" height="10.0" fill="#D99694"/><rect x="1436.5" y="866.0" width="10.0" height="10.0" fill="#D99694"/><rect x="1436.5" y="891.8" width="10.0" height="10.0" fill="#D99694"/><rect x="1435.2" y="917.6" width="10.0" height="10.0" fill="#D99694"/><rect x="1436.8" y="943.4" width="10.0" height="10.0" fill="#D99694"/><rect x="1438.6" y="969.3" width="10.0" height="10.0" fill="#D99694"/><rect x="1436.0" y="995.1" width="10.0" height="10.0" fill="#D99694"/><rect x="1438.2" y="1020.9" width="10.0" height="10.0" fill="#D99694"/><rect x="1440.5" y="1046.8" width="10.0" height="10.0" fill="#D99694"/><rect x="1443.4" y="1072.6" width="10.0" height="10.0" fill="#D99694"/><rect x="1445.3" y="1098.4" width="10.0" height="10.0" fill="#D99694"/><rect x="1442.9" y="1124.2" width="10.0" height="10.0" fill="#D99694"/><rect x="1437.7" y="1150.0" width="10.0" height="10.0" fill="#D99694"/><rect x="1437.7" y="1175.9" width="10.0" height="10.0" fill="#D99694"/><rect x="1439.2" y="1201.7" width="10.0" height="10.0" fill="#D99694"/><rect x="1438.8" y="1227.5" width="10.0" height="10.0" fill="#D99694"/><rect x="1440.3" y="1253.3" width="10.0" height="10.0" fill="#D99694"/><rect x="1437.5" y="1279.2" width="10.0" height="10.0" fill="#D99694"/><rect x="1438.7" y="1305.0" width="10.0" height="10.0" fill="#D99694"/><rect x="1440.3" y="1330.8" width="10.0" height="10.0" fill="#D99694"/><rect x="1439.7" y="1356.6" width="10.0" height="10.0" fill="#D99694"/><rect x="1436.9" y="1382.5" width="10.0" height="10.0" fill="#D99694"/><rect x="1439.9" y="1408.3" width="10.0" height="10.0" fill="#D99694"/>
<polyline points="1423.2,277.0 1424.0,302.8 1423.9,328.6 1424.7,354.5 1424.8,380.3 1424.2,406.1 1425.8,431.9 1428.8,457.8 1429.0,483.6 1431.1,509.4 1431.1,535.2 1430.9,561.1 1433.3,586.9 1432.3,612.7 1432.0,638.5 1436.5,664.4 1433.6,690.2 1436.3,716.0 1436.9,741.8 1436.4,767.7 1435.0,793.5 1437.8,819.3 1435.9,845.1 1436.3,871.0 1437.5,896.8 1439.4,922.6 1439.7,948.4 1441.0,974.3 1440.6,1000.1 1441.7,1025.9 1442.2,1051.8 1443.4,1077.6 1444.8,1103.4 1443.5,1129.2 1444.6,1155.0 1443.1,1180.9 1443.0,1206.7 1444.0,1232.5 1443.6,1258.3 1444.8,1284.2 1444.2,1310.0 1446.5,1335.8 1443.6,1361.6 1443.6,1387.5 1442.4,1413.3" fill="none" stroke="#93CDDD" stroke-width="3.6" stroke-linejoin="round"/>
<path d="M1423.2 271.4L1428.8 281.5L1417.6 281.5Z" fill="#93CDDD"/><path d="M1424.0 297.2L1429.6 307.3L1418.4 307.3Z" fill="#93CDDD"/><path d="M1423.9 323.0L1429.5 333.1L1418.3 333.1Z" fill="#93CDDD"/><path d="M1424.7 348.9L1430.3 359.0L1419.1 359.0Z" fill="#93CDDD"/><path d="M1424.8 374.7L1430.4 384.8L1419.2 384.8Z" fill="#93CDDD"/><path d="M1424.2 400.5L1429.8 410.6L1418.6 410.6Z" fill="#93CDDD"/><path d="M1425.8 426.3L1431.4 436.4L1420.2 436.4Z" fill="#93CDDD"/><path d="M1428.8 452.2L1434.4 462.3L1423.2 462.3Z" fill="#93CDDD"/><path d="M1429.0 478.0L1434.6 488.1L1423.4 488.1Z" fill="#93CDDD"/><path d="M1431.1 503.8L1436.7 513.9L1425.5 513.9Z" fill="#93CDDD"/><path d="M1431.1 529.6L1436.7 539.7L1425.5 539.7Z" fill="#93CDDD"/><path d="M1430.9 555.5L1436.5 565.6L1425.3 565.6Z" fill="#93CDDD"/><path d="M1433.3 581.3L1438.9 591.4L1427.7 591.4Z" fill="#93CDDD"/><path d="M1432.3 607.1L1437.9 617.2L1426.7 617.2Z" fill="#93CDDD"/><path d="M1432.0 632.9L1437.6 643.0L1426.4 643.0Z" fill="#93CDDD"/><path d="M1436.5 658.8L1442.1 668.9L1430.9 668.9Z" fill="#93CDDD"/><path d="M1433.6 684.6L1439.2 694.7L1428.0 694.7Z" fill="#93CDDD"/><path d="M1436.3 710.4L1441.9 720.5L1430.7 720.5Z" fill="#93CDDD"/><path d="M1436.9 736.2L1442.5 746.3L1431.3 746.3Z" fill="#93CDDD"/><path d="M1436.4 762.1L1442.0 772.2L1430.8 772.2Z" fill="#93CDDD"/><path d="M1435.0 787.9L1440.6 798.0L1429.4 798.0Z" fill="#93CDDD"/><path d="M1437.8 813.7L1443.4 823.8L1432.2 823.8Z" fill="#93CDDD"/><path d="M1435.9 839.5L1441.5 849.6L1430.3 849.6Z" fill="#93CDDD"/><path d="M1436.3 865.4L1441.9 875.5L1430.7 875.5Z" fill="#93CDDD"/><path d="M1437.5 891.2L1443.1 901.3L1431.9 901.3Z" fill="#93CDDD"/><path d="M1439.4 917.0L1445.0 927.1L1433.8 927.1Z" fill="#93CDDD"/><path d="M1439.7 942.8L1445.3 952.9L1434.1 952.9Z" fill="#93CDDD"/><path d="M1441.0 968.7L1446.6 978.8L1435.4 978.8Z" fill="#93CDDD"/><path d="M1440.6 994.5L1446.2 1004.6L1435.0 1004.6Z" fill="#93CDDD"/><path d="M1441.7 1020.3L1447.3 1030.4L1436.1 1030.4Z" fill="#93CDDD"/><path d="M1442.2 1046.2L1447.8 1056.2L1436.6 1056.2Z" fill="#93CDDD"/><path d="M1443.4 1072.0L1449.0 1082.1L1437.8 1082.1Z" fill="#93CDDD"/><path d="M1444.8 1097.8L1450.4 1107.9L1439.2 1107.9Z" fill="#93CDDD"/><path d="M1443.5 1123.6L1449.1 1133.7L1437.9 1133.7Z" fill="#93CDDD"/><path d="M1444.6 1149.5L1450.2 1159.5L1439.0 1159.5Z" fill="#93CDDD"/><path d="M1443.1 1175.3L1448.7 1185.4L1437.5 1185.4Z" fill="#93CDDD"/><path d="M1443.0 1201.1L1448.6 1211.2L1437.4 1211.2Z" fill="#93CDDD"/><path d="M1444.0 1226.9L1449.6 1237.0L1438.4 1237.0Z" fill="#93CDDD"/><path d="M1443.6 1252.8L1449.2 1262.8L1438.0 1262.8Z" fill="#93CDDD"/><path d="M1444.8 1278.6L1450.4 1288.7L1439.2 1288.7Z" fill="#93CDDD"/><path d="M1444.2 1304.4L1449.8 1314.5L1438.6 1314.5Z" fill="#93CDDD"/><path d="M1446.5 1330.2L1452.1 1340.3L1440.9 1340.3Z" fill="#93CDDD"/><path d="M1443.6 1356.0L1449.2 1366.1L1438.0 1366.1Z" fill="#93CDDD"/><path d="M1443.6 1381.9L1449.2 1392.0L1438.0 1392.0Z" fill="#93CDDD"/><path d="M1442.4 1407.7L1448.0 1417.8L1436.8 1417.8Z" fill="#93CDDD"/>
<polyline points="1425.5,277.0 1426.1,302.8 1424.8,328.6 1425.4,354.5 1427.1,380.3 1427.4,406.1 1428.1,431.9 1430.5,457.8 1430.7,483.6 1431.7,509.4 1433.1,535.2 1433.7,561.1 1433.1,586.9 1433.6,612.7 1435.0,638.5 1435.3,664.4 1434.4,690.2 1437.6,716.0 1436.7,741.8 1437.7,767.7 1436.2,793.5 1438.7,819.3 1437.3,845.1 1438.0,871.0 1437.1,896.8 1438.9,922.6 1439.6,948.4 1440.4,974.3 1441.7,1000.1 1442.1,1025.9 1445.3,1051.8 1443.2,1077.6 1442.4,1103.4 1443.9,1129.2 1444.8,1155.0 1445.7,1180.9 1445.1,1206.7 1441.3,1232.5 1444.5,1258.3 1446.1,1284.2 1444.0,1310.0 1443.1,1335.8 1444.4,1361.6 1443.2,1387.5 1444.8,1413.3" fill="none" stroke="#953735" stroke-width="3.4" stroke-linejoin="round"/>
<path d="M1425.5 271.4L1431.1 277.0L1425.5 282.6L1419.9 277.0Z" fill="#953735"/><path d="M1426.1 297.2L1431.7 302.8L1426.1 308.4L1420.5 302.8Z" fill="#953735"/><path d="M1424.8 323.0L1430.4 328.6L1424.8 334.2L1419.2 328.6Z" fill="#953735"/><path d="M1425.4 348.9L1431.0 354.5L1425.4 360.1L1419.8 354.5Z" fill="#953735"/><path d="M1427.1 374.7L1432.7 380.3L1427.1 385.9L1421.5 380.3Z" fill="#953735"/><path d="M1427.4 400.5L1433.0 406.1L1427.4 411.7L1421.8 406.1Z" fill="#953735"/><path d="M1428.1 426.3L1433.7 431.9L1428.1 437.6L1422.5 431.9Z" fill="#953735"/><path d="M1430.5 452.2L1436.1 457.8L1430.5 463.4L1424.9 457.8Z" fill="#953735"/><path d="M1430.7 478.0L1436.3 483.6L1430.7 489.2L1425.1 483.6Z" fill="#953735"/><path d="M1431.7 503.8L1437.3 509.4L1431.7 515.0L1426.1 509.4Z" fill="#953735"/><path d="M1433.1 529.6L1438.7 535.2L1433.1 540.9L1427.5 535.2Z" fill="#953735"/><path d="M1433.7 555.5L1439.3 561.1L1433.7 566.7L1428.1 561.1Z" fill="#953735"/><path d="M1433.1 581.3L1438.7 586.9L1433.1 592.5L1427.5 586.9Z" fill="#953735"/><path d="M1433.6 607.1L1439.2 612.7L1433.6 618.3L1428.0 612.7Z" fill="#953735"/><path d="M1435.0 632.9L1440.6 638.5L1435.0 644.1L1429.4 638.5Z" fill="#953735"/><path d="M1435.3 658.8L1440.9 664.4L1435.3 670.0L1429.7 664.4Z" fill="#953735"/><path d="M1434.4 684.6L1440.0 690.2L1434.4 695.8L1428.8 690.2Z" fill="#953735"/><path d="M1437.6 710.4L1443.2 716.0L1437.6 721.6L1432.0 716.0Z" fill="#953735"/><path d="M1436.7 736.2L1442.3 741.8L1436.7 747.4L1431.1 741.8Z" fill="#953735"/><path d="M1437.7 762.1L1443.3 767.7L1437.7 773.3L1432.1 767.7Z" fill="#953735"/><path d="M1436.2 787.9L1441.8 793.5L1436.2 799.1L1430.6 793.5Z" fill="#953735"/><path d="M1438.7 813.7L1444.3 819.3L1438.7 824.9L1433.1 819.3Z" fill="#953735"/><path d="M1437.3 839.5L1442.9 845.1L1437.3 850.8L1431.7 845.1Z" fill="#953735"/><path d="M1438.0 865.4L1443.6 871.0L1438.0 876.6L1432.4 871.0Z" fill="#953735"/><path d="M1437.1 891.2L1442.7 896.8L1437.1 902.4L1431.5 896.8Z" fill="#953735"/><path d="M1438.9 917.0L1444.5 922.6L1438.9 928.2L1433.3 922.6Z" fill="#953735"/><path d="M1439.6 942.8L1445.2 948.4L1439.6 954.0L1434.0 948.4Z" fill="#953735"/><path d="M1440.4 968.7L1446.0 974.3L1440.4 979.9L1434.8 974.3Z" fill="#953735"/><path d="M1441.7 994.5L1447.3 1000.1L1441.7 1005.7L1436.1 1000.1Z" fill="#953735"/><path d="M1442.1 1020.3L1447.7 1025.9L1442.1 1031.5L1436.5 1025.9Z" fill="#953735"/><path d="M1445.3 1046.2L1450.9 1051.8L1445.3 1057.3L1439.7 1051.8Z" fill="#953735"/><path d="M1443.2 1072.0L1448.8 1077.6L1443.2 1083.2L1437.6 1077.6Z" fill="#953735"/><path d="M1442.4 1097.8L1448.0 1103.4L1442.4 1109.0L1436.8 1103.4Z" fill="#953735"/><path d="M1443.9 1123.6L1449.5 1129.2L1443.9 1134.8L1438.3 1129.2Z" fill="#953735"/><path d="M1444.8 1149.5L1450.4 1155.0L1444.8 1160.6L1439.2 1155.0Z" fill="#953735"/><path d="M1445.7 1175.3L1451.3 1180.9L1445.7 1186.5L1440.1 1180.9Z" fill="#953735"/><path d="M1445.1 1201.1L1450.7 1206.7L1445.1 1212.3L1439.5 1206.7Z" fill="#953735"/><path d="M1441.3 1226.9L1446.9 1232.5L1441.3 1238.1L1435.7 1232.5Z" fill="#953735"/><path d="M1444.5 1252.8L1450.1 1258.3L1444.5 1263.9L1438.9 1258.3Z" fill="#953735"/><path d="M1446.1 1278.6L1451.7 1284.2L1446.1 1289.8L1440.5 1284.2Z" fill="#953735"/><path d="M1444.0 1304.4L1449.6 1310.0L1444.0 1315.6L1438.4 1310.0Z" fill="#953735"/><path d="M1443.1 1330.2L1448.7 1335.8L1443.1 1341.4L1437.5 1335.8Z" fill="#953735"/><path d="M1444.4 1356.0L1450.0 1361.6L1444.4 1367.2L1438.8 1361.6Z" fill="#953735"/><path d="M1443.2 1381.9L1448.8 1387.5L1443.2 1393.1L1437.6 1387.5Z" fill="#953735"/><path d="M1444.8 1407.7L1450.4 1413.3L1444.8 1418.9L1439.2 1413.3Z" fill="#953735"/>
<polyline points="1446.7,277.0 1447.4,302.8 1447.3,328.6 1447.1,354.5 1447.8,380.3 1450.2,406.1 1452.0,431.9 1453.0,457.8 1453.2,483.6 1455.3,509.4 1454.8,535.2 1454.2,561.1 1454.3,586.9 1454.9,612.7 1455.3,638.5 1454.9,664.4 1454.2,690.2 1452.7,716.0 1452.4,741.8 1453.1,767.7 1452.8,793.5 1452.4,819.3 1452.7,845.1 1451.2,871.0 1450.7,896.8 1450.5,922.6 1450.1,948.4 1448.1,974.3 1447.3,1000.1 1445.1,1025.9 1444.1,1051.8 1443.8,1077.6 1443.0,1103.4 1444.1,1129.2 1444.5,1155.0 1443.8,1180.9 1443.9,1206.7 1444.7,1232.5 1443.2,1258.3 1443.0,1284.2 1443.5,1310.0 1443.2,1335.8 1444.7,1361.6 1444.1,1387.5 1443.4,1413.3" fill="none" stroke="#00B050" stroke-width="3.6" stroke-linejoin="round"/>
<rect x="1441.7" y="272.0" width="10.0" height="10.0" fill="#00B050"/><rect x="1442.4" y="297.8" width="10.0" height="10.0" fill="#00B050"/><rect x="1442.3" y="323.6" width="10.0" height="10.0" fill="#00B050"/><rect x="1442.1" y="349.5" width="10.0" height="10.0" fill="#00B050"/><rect x="1442.8" y="375.3" width="10.0" height="10.0" fill="#00B050"/><rect x="1445.2" y="401.1" width="10.0" height="10.0" fill="#00B050"/><rect x="1447.0" y="426.9" width="10.0" height="10.0" fill="#00B050"/><rect x="1448.0" y="452.8" width="10.0" height="10.0" fill="#00B050"/><rect x="1448.2" y="478.6" width="10.0" height="10.0" fill="#00B050"/><rect x="1450.3" y="504.4" width="10.0" height="10.0" fill="#00B050"/><rect x="1449.8" y="530.2" width="10.0" height="10.0" fill="#00B050"/><rect x="1449.2" y="556.1" width="10.0" height="10.0" fill="#00B050"/><rect x="1449.3" y="581.9" width="10.0" height="10.0" fill="#00B050"/><rect x="1449.9" y="607.7" width="10.0" height="10.0" fill="#00B050"/><rect x="1450.3" y="633.5" width="10.0" height="10.0" fill="#00B050"/><rect x="1449.9" y="659.4" width="10.0" height="10.0" fill="#00B050"/><rect x="1449.2" y="685.2" width="10.0" height="10.0" fill="#00B050"/><rect x="1447.7" y="711.0" width="10.0" height="10.0" fill="#00B050"/><rect x="1447.4" y="736.8" width="10.0" height="10.0" fill="#00B050"/><rect x="1448.1" y="762.7" width="10.0" height="10.0" fill="#00B050"/><rect x="1447.8" y="788.5" width="10.0" height="10.0" fill="#00B050"/><rect x="1447.4" y="814.3" width="10.0" height="10.0" fill="#00B050"/><rect x="1447.7" y="840.1" width="10.0" height="10.0" fill="#00B050"/><rect x="1446.2" y="866.0" width="10.0" height="10.0" fill="#00B050"/><rect x="1445.7" y="891.8" width="10.0" height="10.0" fill="#00B050"/><rect x="1445.5" y="917.6" width="10.0" height="10.0" fill="#00B050"/><rect x="1445.1" y="943.4" width="10.0" height="10.0" fill="#00B050"/><rect x="1443.1" y="969.3" width="10.0" height="10.0" fill="#00B050"/><rect x="1442.3" y="995.1" width="10.0" height="10.0" fill="#00B050"/><rect x="1440.1" y="1020.9" width="10.0" height="10.0" fill="#00B050"/><rect x="1439.1" y="1046.8" width="10.0" height="10.0" fill="#00B050"/><rect x="1438.8" y="1072.6" width="10.0" height="10.0" fill="#00B050"/><rect x="1438.0" y="1098.4" width="10.0" height="10.0" fill="#00B050"/><rect x="1439.1" y="1124.2" width="10.0" height="10.0" fill="#00B050"/><rect x="1439.5" y="1150.0" width="10.0" height="10.0" fill="#00B050"/><rect x="1438.8" y="1175.9" width="10.0" height="10.0" fill="#00B050"/><rect x="1438.9" y="1201.7" width="10.0" height="10.0" fill="#00B050"/><rect x="1439.7" y="1227.5" width="10.0" height="10.0" fill="#00B050"/><rect x="1438.2" y="1253.3" width="10.0" height="10.0" fill="#00B050"/><rect x="1438.0" y="1279.2" width="10.0" height="10.0" fill="#00B050"/><rect x="1438.5" y="1305.0" width="10.0" height="10.0" fill="#00B050"/><rect x="1438.2" y="1330.8" width="10.0" height="10.0" fill="#00B050"/><rect x="1439.7" y="1356.6" width="10.0" height="10.0" fill="#00B050"/><rect x="1439.1" y="1382.5" width="10.0" height="10.0" fill="#00B050"/><rect x="1438.4" y="1408.3" width="10.0" height="10.0" fill="#00B050"/>
<polyline points="1452.8,277.0 1448.9,302.8 1449.2,328.6 1448.6,354.5 1448.7,380.3 1448.3,406.1 1447.7,431.9 1446.7,457.8 1446.1,483.6 1446.8,509.4 1446.4,535.2 1445.6,561.1 1446.7,586.9 1446.4,612.7 1445.9,638.5 1445.7,664.4 1445.9,690.2 1445.3,716.0 1444.9,741.8 1445.5,767.7 1444.6,793.5 1445.3,819.3 1444.4,845.1 1444.9,871.0 1444.8,896.8 1445.5,922.6 1444.0,948.4 1443.7,974.3 1443.9,1000.1 1443.5,1025.9 1443.5,1051.8 1444.2,1077.6 1444.5,1103.4 1445.1,1129.2 1443.4,1155.0 1445.8,1180.9 1445.4,1206.7 1443.7,1232.5 1442.2,1258.3 1443.8,1284.2 1444.0,1310.0 1442.2,1335.8 1444.0,1361.6 1443.8,1387.5 1443.3,1413.3" fill="none" stroke="#F79646" stroke-width="3.4" stroke-linejoin="round"/>
<path d="M1452.8 271.4L1458.4 281.5L1447.2 281.5Z" fill="#F79646"/><path d="M1448.9 297.2L1454.5 307.3L1443.3 307.3Z" fill="#F79646"/><path d="M1449.2 323.0L1454.8 333.1L1443.6 333.1Z" fill="#F79646"/><path d="M1448.6 348.9L1454.2 359.0L1443.0 359.0Z" fill="#F79646"/><path d="M1448.7 374.7L1454.3 384.8L1443.1 384.8Z" fill="#F79646"/><path d="M1448.3 400.5L1453.9 410.6L1442.7 410.6Z" fill="#F79646"/><path d="M1447.7 426.3L1453.3 436.4L1442.1 436.4Z" fill="#F79646"/><path d="M1446.7 452.2L1452.3 462.3L1441.1 462.3Z" fill="#F79646"/><path d="M1446.1 478.0L1451.7 488.1L1440.5 488.1Z" fill="#F79646"/><path d="M1446.8 503.8L1452.4 513.9L1441.2 513.9Z" fill="#F79646"/><path d="M1446.4 529.6L1452.0 539.7L1440.8 539.7Z" fill="#F79646"/><path d="M1445.6 555.5L1451.2 565.6L1440.0 565.6Z" fill="#F79646"/><path d="M1446.7 581.3L1452.3 591.4L1441.1 591.4Z" fill="#F79646"/><path d="M1446.4 607.1L1452.0 617.2L1440.8 617.2Z" fill="#F79646"/><path d="M1445.9 632.9L1451.5 643.0L1440.3 643.0Z" fill="#F79646"/><path d="M1445.7 658.8L1451.3 668.9L1440.1 668.9Z" fill="#F79646"/><path d="M1445.9 684.6L1451.5 694.7L1440.3 694.7Z" fill="#F79646"/><path d="M1445.3 710.4L1450.9 720.5L1439.7 720.5Z" fill="#F79646"/><path d="M1444.9 736.2L1450.5 746.3L1439.3 746.3Z" fill="#F79646"/><path d="M1445.5 762.1L1451.1 772.2L1439.9 772.2Z" fill="#F79646"/><path d="M1444.6 787.9L1450.2 798.0L1439.0 798.0Z" fill="#F79646"/><path d="M1445.3 813.7L1450.9 823.8L1439.7 823.8Z" fill="#F79646"/><path d="M1444.4 839.5L1450.0 849.6L1438.8 849.6Z" fill="#F79646"/><path d="M1444.9 865.4L1450.5 875.5L1439.3 875.5Z" fill="#F79646"/><path d="M1444.8 891.2L1450.4 901.3L1439.2 901.3Z" fill="#F79646"/><path d="M1445.5 917.0L1451.1 927.1L1439.9 927.1Z" fill="#F79646"/><path d="M1444.0 942.8L1449.6 952.9L1438.4 952.9Z" fill="#F79646"/><path d="M1443.7 968.7L1449.3 978.8L1438.1 978.8Z" fill="#F79646"/><path d="M1443.9 994.5L1449.5 1004.6L1438.3 1004.6Z" fill="#F79646"/><path d="M1443.5 1020.3L1449.1 1030.4L1437.9 1030.4Z" fill="#F79646"/><path d="M1443.5 1046.2L1449.1 1056.2L1437.9 1056.2Z" fill="#F79646"/><path d="M1444.2 1072.0L1449.8 1082.1L1438.6 1082.1Z" fill="#F79646"/><path d="M1444.5 1097.8L1450.1 1107.9L1438.9 1107.9Z" fill="#F79646"/><path d="M1445.1 1123.6L1450.7 1133.7L1439.5 1133.7Z" fill="#F79646"/><path d="M1443.4 1149.5L1449.0 1159.5L1437.8 1159.5Z" fill="#F79646"/><path d="M1445.8 1175.3L1451.4 1185.4L1440.2 1185.4Z" fill="#F79646"/><path d="M1445.4 1201.1L1451.0 1211.2L1439.8 1211.2Z" fill="#F79646"/><path d="M1443.7 1226.9L1449.3 1237.0L1438.1 1237.0Z" fill="#F79646"/><path d="M1442.2 1252.8L1447.8 1262.8L1436.6 1262.8Z" fill="#F79646"/><path d="M1443.8 1278.6L1449.4 1288.7L1438.2 1288.7Z" fill="#F79646"/><path d="M1444.0 1304.4L1449.6 1314.5L1438.4 1314.5Z" fill="#F79646"/><path d="M1442.2 1330.2L1447.8 1340.3L1436.6 1340.3Z" fill="#F79646"/><path d="M1444.0 1356.0L1449.6 1366.1L1438.4 1366.1Z" fill="#F79646"/><path d="M1443.8 1381.9L1449.4 1392.0L1438.2 1392.0Z" fill="#F79646"/><path d="M1443.3 1407.7L1448.9 1417.8L1437.7 1417.8Z" fill="#F79646"/>
<polyline points="1435.3,277.0 1435.6,302.8 1434.2,328.6 1434.9,354.5 1434.6,380.3 1435.0,406.1 1436.3,431.9 1437.2,457.8 1436.7,483.6 1435.6,509.4 1438.5,535.2 1436.8,561.1 1438.8,586.9 1440.6,612.7 1439.3,638.5 1438.6,664.4 1438.7,690.2 1441.2,716.0 1440.3,741.8 1440.9,767.7 1441.4,793.5 1440.7,819.3 1440.6,845.1 1440.1,871.0 1438.3,896.8 1440.1,922.6 1441.8,948.4 1442.1,974.3 1443.0,1000.1 1442.9,1025.9 1444.1,1051.8 1445.1,1077.6 1442.6,1103.4 1443.5,1129.2 1441.5,1155.0 1445.3,1180.9 1444.0,1206.7 1444.6,1232.5 1446.2,1258.3 1445.5,1284.2 1443.8,1310.0 1445.1,1335.8 1441.8,1361.6 1444.5,1387.5 1444.1,1413.3" fill="none" stroke="#7030A0" stroke-width="3.4" stroke-linejoin="round"/>
<path d="M1435.3 271.4L1440.9 277.0L1435.3 282.6L1429.7 277.0Z" fill="#7030A0"/><path d="M1435.6 297.2L1441.2 302.8L1435.6 308.4L1430.0 302.8Z" fill="#7030A0"/><path d="M1434.2 323.0L1439.8 328.6L1434.2 334.2L1428.6 328.6Z" fill="#7030A0"/><path d="M1434.9 348.9L1440.5 354.5L1434.9 360.1L1429.3 354.5Z" fill="#7030A0"/><path d="M1434.6 374.7L1440.2 380.3L1434.6 385.9L1429.0 380.3Z" fill="#7030A0"/><path d="M1435.0 400.5L1440.6 406.1L1435.0 411.7L1429.4 406.1Z" fill="#7030A0"/><path d="M1436.3 426.3L1441.9 431.9L1436.3 437.6L1430.7 431.9Z" fill="#7030A0"/><path d="M1437.2 452.2L1442.8 457.8L1437.2 463.4L1431.6 457.8Z" fill="#7030A0"/><path d="M1436.7 478.0L1442.3 483.6L1436.7 489.2L1431.1 483.6Z" fill="#7030A0"/><path d="M1435.6 503.8L1441.2 509.4L1435.6 515.0L1430.0 509.4Z" fill="#7030A0"/><path d="M1438.5 529.6L1444.1 535.2L1438.5 540.9L1432.9 535.2Z" fill="#7030A0"/><path d="M1436.8 555.5L1442.4 561.1L1436.8 566.7L1431.2 561.1Z" fill="#7030A0"/><path d="M1438.8 581.3L1444.4 586.9L1438.8 592.5L1433.2 586.9Z" fill="#7030A0"/><path d="M1440.6 607.1L1446.2 612.7L1440.6 618.3L1435.0 612.7Z" fill="#7030A0"/><path d="M1439.3 632.9L1444.9 638.5L1439.3 644.1L1433.7 638.5Z" fill="#7030A0"/><path d="M1438.6 658.8L1444.2 664.4L1438.6 670.0L1433.0 664.4Z" fill="#7030A0"/><path d="M1438.7 684.6L1444.3 690.2L1438.7 695.8L1433.1 690.2Z" fill="#7030A0"/><path d="M1441.2 710.4L1446.8 716.0L1441.2 721.6L1435.6 716.0Z" fill="#7030A0"/><path d="M1440.3 736.2L1445.9 741.8L1440.3 747.4L1434.7 741.8Z" fill="#7030A0"/><path d="M1440.9 762.1L1446.5 767.7L1440.9 773.3L1435.3 767.7Z" fill="#7030A0"/><path d="M1441.4 787.9L1447.0 793.5L1441.4 799.1L1435.8 793.5Z" fill="#7030A0"/><path d="M1440.7 813.7L1446.3 819.3L1440.7 824.9L1435.1 819.3Z" fill="#7030A0"/><path d="M1440.6 839.5L1446.2 845.1L1440.6 850.8L1435.0 845.1Z" fill="#7030A0"/><path d="M1440.1 865.4L1445.7 871.0L1440.1 876.6L1434.5 871.0Z" fill="#7030A0"/><path d="M1438.3 891.2L1443.9 896.8L1438.3 902.4L1432.7 896.8Z" fill="#7030A0"/><path d="M1440.1 917.0L1445.7 922.6L1440.1 928.2L1434.5 922.6Z" fill="#7030A0"/><path d="M1441.8 942.8L1447.4 948.4L1441.8 954.0L1436.2 948.4Z" fill="#7030A0"/><path d="M1442.1 968.7L1447.7 974.3L1442.1 979.9L1436.5 974.3Z" fill="#7030A0"/><path d="M1443.0 994.5L1448.6 1000.1L1443.0 1005.7L1437.4 1000.1Z" fill="#7030A0"/><path d="M1442.9 1020.3L1448.5 1025.9L1442.9 1031.5L1437.3 1025.9Z" fill="#7030A0"/><path d="M1444.1 1046.2L1449.7 1051.8L1444.1 1057.3L1438.5 1051.8Z" fill="#7030A0"/><path d="M1445.1 1072.0L1450.7 1077.6L1445.1 1083.2L1439.5 1077.6Z" fill="#7030A0"/><path d="M1442.6 1097.8L1448.2 1103.4L1442.6 1109.0L1437.0 1103.4Z" fill="#7030A0"/><path d="M1443.5 1123.6L1449.1 1129.2L1443.5 1134.8L1437.9 1129.2Z" fill="#7030A0"/><path d="M1441.5 1149.5L1447.1 1155.0L1441.5 1160.6L1435.9 1155.0Z" fill="#7030A0"/><path d="M1445.3 1175.3L1450.9 1180.9L1445.3 1186.5L1439.7 1180.9Z" fill="#7030A0"/><path d="M1444.0 1201.1L1449.6 1206.7L1444.0 1212.3L1438.4 1206.7Z" fill="#7030A0"/><path d="M1444.6 1226.9L1450.2 1232.5L1444.6 1238.1L1439.0 1232.5Z" fill="#7030A0"/><path d="M1446.2 1252.8L1451.8 1258.3L1446.2 1263.9L1440.6 1258.3Z" fill="#7030A0"/><path d="M1445.5 1278.6L1451.1 1284.2L1445.5 1289.8L1439.9 1284.2Z" fill="#7030A0"/><path d="M1443.8 1304.4L1449.4 1310.0L1443.8 1315.6L1438.2 1310.0Z" fill="#7030A0"/><path d="M1445.1 1330.2L1450.7 1335.8L1445.1 1341.4L1439.5 1335.8Z" fill="#7030A0"/><path d="M1441.8 1356.0L1447.4 1361.6L1441.8 1367.2L1436.2 1361.6Z" fill="#7030A0"/><path d="M1444.5 1381.9L1450.1 1387.5L1444.5 1393.1L1438.9 1387.5Z" fill="#7030A0"/><path d="M1444.1 1407.7L1449.7 1413.3L1444.1 1418.9L1438.5 1413.3Z" fill="#7030A0"/>
<polyline points="1424.3,277.0 1427.1,302.8 1425.2,328.6 1426.4,354.5 1426.4,380.3 1428.8,406.1 1430.1,431.9 1429.1,457.8 1429.5,483.6 1431.4,509.4 1433.0,535.2 1432.6,561.1 1433.0,586.9 1434.7,612.7 1432.4,638.5 1435.0,664.4 1435.0,690.2 1436.8,716.0 1436.2,741.8 1436.1,767.7 1437.1,793.5 1436.3,819.3 1437.9,845.1 1437.6,871.0 1438.1,896.8 1438.5,922.6 1440.8,948.4 1440.5,974.3 1441.9,1000.1 1442.5,1025.9 1442.7,1051.8 1444.7,1077.6 1444.4,1103.4 1444.4,1129.2 1443.3,1155.0 1443.3,1180.9 1445.1,1206.7 1447.1,1232.5 1442.7,1258.3 1444.7,1284.2 1443.4,1310.0 1445.1,1335.8 1444.5,1361.6 1445.5,1387.5 1439.8,1413.3" fill="none" stroke="#31859C" stroke-width="3.4" stroke-linejoin="round"/>
<circle cx="1424.3" cy="277.0" r="5.4" fill="#31859C"/><circle cx="1427.1" cy="302.8" r="5.4" fill="#31859C"/><circle cx="1425.2" cy="328.6" r="5.4" fill="#31859C"/><circle cx="1426.4" cy="354.5" r="5.4" fill="#31859C"/><circle cx="1426.4" cy="380.3" r="5.4" fill="#31859C"/><circle cx="1428.8" cy="406.1" r="5.4" fill="#31859C"/><circle cx="1430.1" cy="431.9" r="5.4" fill="#31859C"/><circle cx="1429.1" cy="457.8" r="5.4" fill="#31859C"/><circle cx="1429.5" cy="483.6" r="5.4" fill="#31859C"/><circle cx="1431.4" cy="509.4" r="5.4" fill="#31859C"/><circle cx="1433.0" cy="535.2" r="5.4" fill="#31859C"/><circle cx="1432.6" cy="561.1" r="5.4" fill="#31859C"/><circle cx="1433.0" cy="586.9" r="5.4" fill="#31859C"/><circle cx="1434.7" cy="612.7" r="5.4" fill="#31859C"/><circle cx="1432.4" cy="638.5" r="5.4" fill="#31859C"/><circle cx="1435.0" cy="664.4" r="5.4" fill="#31859C"/><circle cx="1435.0" cy="690.2" r="5.4" fill="#31859C"/><circle cx="1436.8" cy="716.0" r="5.4" fill="#31859C"/><circle cx="1436.2" cy="741.8" r="5.4" fill="#31859C"/><circle cx="1436.1" cy="767.7" r="5.4" fill="#31859C"/><circle cx="1437.1" cy="793.5" r="5.4" fill="#31859C"/><circle cx="1436.3" cy="819.3" r="5.4" fill="#31859C"/><circle cx="1437.9" cy="845.1" r="5.4" fill="#31859C"/><circle cx="1437.6" cy="871.0" r="5.4" fill="#31859C"/><circle cx="1438.1" cy="896.8" r="5.4" fill="#31859C"/><circle cx="1438.5" cy="922.6" r="5.4" fill="#31859C"/><circle cx="1440.8" cy="948.4" r="5.4" fill="#31859C"/><circle cx="1440.5" cy="974.3" r="5.4" fill="#31859C"/><circle cx="1441.9" cy="1000.1" r="5.4" fill="#31859C"/><circle cx="1442.5" cy="1025.9" r="5.4" fill="#31859C"/><circle cx="1442.7" cy="1051.8" r="5.4" fill="#31859C"/><circle cx="1444.7" cy="1077.6" r="5.4" fill="#31859C"/><circle cx="1444.4" cy="1103.4" r="5.4" fill="#31859C"/><circle cx="1444.4" cy="1129.2" r="5.4" fill="#31859C"/><circle cx="1443.3" cy="1155.0" r="5.4" fill="#31859C"/><circle cx="1443.3" cy="1180.9" r="5.4" fill="#31859C"/><circle cx="1445.1" cy="1206.7" r="5.4" fill="#31859C"/><circle cx="1447.1" cy="1232.5" r="5.4" fill="#31859C"/><circle cx="1442.7" cy="1258.3" r="5.4" fill="#31859C"/><circle cx="1444.7" cy="1284.2" r="5.4" fill="#31859C"/><circle cx="1443.4" cy="1310.0" r="5.4" fill="#31859C"/><circle cx="1445.1" cy="1335.8" r="5.4" fill="#31859C"/><circle cx="1444.5" cy="1361.6" r="5.4" fill="#31859C"/><circle cx="1445.5" cy="1387.5" r="5.4" fill="#31859C"/><circle cx="1439.8" cy="1413.3" r="5.4" fill="#31859C"/>
<polyline points="1435.4,277.0 1434.8,302.8 1434.6,328.6 1434.9,354.5 1435.4,380.3 1436.3,406.1 1437.2,431.9 1435.8,457.8 1437.0,483.6 1437.6,509.4 1437.8,535.2 1437.9,561.1 1437.9,586.9 1438.3,612.7 1439.2,638.5 1439.7,664.4 1439.6,690.2 1439.6,716.0 1440.2,741.8 1439.8,767.7 1439.8,793.5 1439.3,819.3 1438.8,845.1 1438.7,871.0 1437.9,896.8 1435.9,922.6 1435.1,948.4 1433.3,974.3 1435.2,1000.1 1438.0,1025.9 1442.7,1051.8 1443.8,1077.6 1444.4,1103.4 1446.3,1129.2 1449.2,1155.0 1449.1,1180.9 1449.1,1206.7 1449.4,1232.5 1449.2,1258.3 1449.5,1284.2 1449.1,1310.0 1446.2,1335.8 1445.7,1361.6 1444.2,1387.5 1443.1,1413.3" fill="none" stroke="#FF00FF" stroke-width="3.4" stroke-linejoin="round"/>
<rect x="1430.4" y="272.0" width="10.0" height="10.0" fill="#FF00FF"/><rect x="1429.8" y="297.8" width="10.0" height="10.0" fill="#FF00FF"/><rect x="1429.6" y="323.6" width="10.0" height="10.0" fill="#FF00FF"/><rect x="1429.9" y="349.5" width="10.0" height="10.0" fill="#FF00FF"/><rect x="1430.4" y="375.3" width="10.0" height="10.0" fill="#FF00FF"/><rect x="1431.3" y="401.1" width="10.0" height="10.0" fill="#FF00FF"/><rect x="1432.2" y="426.9" width="10.0" height="10.0" fill="#FF00FF"/><rect x="1430.8" y="452.8" width="10.0" height="10.0" fill="#FF00FF"/><rect x="1432.0" y="478.6" width="10.0" height="10.0" fill="#FF00FF"/><rect x="1432.6" y="504.4" width="10.0" height="10.0" fill="#FF00FF"/><rect x="1432.8" y="530.2" width="10.0" height="10.0" fill="#FF00FF"/><rect x="1432.9" y="556.1" width="10.0" height="10.0" fill="#FF00FF"/><rect x="1432.9" y="581.9" width="10.0" height="10.0" fill="#FF00FF"/><rect x="1433.3" y="607.7" width="10.0" height="10.0" fill="#FF00FF"/><rect x="1434.2" y="633.5" width="10.0" height="10.0" fill="#FF00FF"/><rect x="1434.7" y="659.4" width="10.0" height="10.0" fill="#FF00FF"/><rect x="1434.6" y="685.2" width="10.0" height="10.0" fill="#FF00FF"/><rect x="1434.6" y="711.0" width="10.0" height="10.0" fill="#FF00FF"/><rect x="1435.2" y="736.8" width="10.0" height="10.0" fill="#FF00FF"/><rect x="1434.8" y="762.7" width="10.0" height="10.0" fill="#FF00FF"/><rect x="1434.8" y="788.5" width="10.0" height="10.0" fill="#FF00FF"/><rect x="1434.3" y="814.3" width="10.0" height="10.0" fill="#FF00FF"/><rect x="1433.8" y="840.1" width="10.0" height="10.0" fill="#FF00FF"/><rect x="1433.7" y="866.0" width="10.0" height="10.0" fill="#FF00FF"/><rect x="1432.9" y="891.8" width="10.0" height="10.0" fill="#FF00FF"/><rect x="1430.9" y="917.6" width="10.0" height="10.0" fill="#FF00FF"/><rect x="1430.1" y="943.4" width="10.0" height="10.0" fill="#FF00FF"/><rect x="1428.3" y="969.3" width="10.0" height="10.0" fill="#FF00FF"/><rect x="1430.2" y="995.1" width="10.0" height="10.0" fill="#FF00FF"/><rect x="1433.0" y="1020.9" width="10.0" height="10.0" fill="#FF00FF"/><rect x="1437.7" y="1046.8" width="10.0" height="10.0" fill="#FF00FF"/><rect x="1438.8" y="1072.6" width="10.0" height="10.0" fill="#FF00FF"/><rect x="1439.4" y="1098.4" width="10.0" height="10.0" fill="#FF00FF"/><rect x="1441.3" y="1124.2" width="10.0" height="10.0" fill="#FF00FF"/><rect x="1444.2" y="1150.0" width="10.0" height="10.0" fill="#FF00FF"/><rect x="1444.1" y="1175.9" width="10.0" height="10.0" fill="#FF00FF"/><rect x="1444.1" y="1201.7" width="10.0" height="10.0" fill="#FF00FF"/><rect x="1444.4" y="1227.5" width="10.0" height="10.0" fill="#FF00FF"/><rect x="1444.2" y="1253.3" width="10.0" height="10.0" fill="#FF00FF"/><rect x="1444.5" y="1279.2" width="10.0" height="10.0" fill="#FF00FF"/><rect x="1444.1" y="1305.0" width="10.0" height="10.0" fill="#FF00FF"/><rect x="1441.2" y="1330.8" width="10.0" height="10.0" fill="#FF00FF"/><rect x="1440.7" y="1356.6" width="10.0" height="10.0" fill="#FF00FF"/><rect x="1439.2" y="1382.5" width="10.0" height="10.0" fill="#FF00FF"/><rect x="1438.1" y="1408.3" width="10.0" height="10.0" fill="#FF00FF"/>
<polyline points="1417.9,277.0 1417.3,302.8 1416.9,328.6 1418.6,354.5 1419.8,380.3 1422.2,406.1 1423.3,431.9 1428.0,457.8 1426.7,483.6 1427.2,509.4 1428.4,535.2 1430.0,561.1 1432.5,586.9 1433.4,612.7 1433.6,638.5 1433.9,664.4 1434.2,690.2 1434.8,716.0 1435.2,741.8 1436.6,767.7 1436.6,793.5 1436.9,819.3 1437.4,845.1 1437.9,871.0 1438.6,896.8 1439.2,922.6 1440.9,948.4 1441.1,974.3 1441.9,1000.1 1443.1,1025.9 1444.5,1051.8 1444.5,1077.6 1443.7,1103.4 1444.0,1129.2 1444.0,1155.0 1444.1,1180.9 1444.0,1206.7 1443.5,1232.5 1443.3,1258.3 1444.0,1284.2 1443.4,1310.0 1444.5,1335.8 1443.9,1361.6 1443.4,1387.5 1443.8,1413.3" fill="none" stroke="#92D050" stroke-width="3.4" stroke-linejoin="round"/>
<circle cx="1417.9" cy="277.0" r="5.4" fill="#92D050"/><circle cx="1417.3" cy="302.8" r="5.4" fill="#92D050"/><circle cx="1416.9" cy="328.6" r="5.4" fill="#92D050"/><circle cx="1418.6" cy="354.5" r="5.4" fill="#92D050"/><circle cx="1419.8" cy="380.3" r="5.4" fill="#92D050"/><circle cx="1422.2" cy="406.1" r="5.4" fill="#92D050"/><circle cx="1423.3" cy="431.9" r="5.4" fill="#92D050"/><circle cx="1428.0" cy="457.8" r="5.4" fill="#92D050"/><circle cx="1426.7" cy="483.6" r="5.4" fill="#92D050"/><circle cx="1427.2" cy="509.4" r="5.4" fill="#92D050"/><circle cx="1428.4" cy="535.2" r="5.4" fill="#92D050"/><circle cx="1430.0" cy="561.1" r="5.4" fill="#92D050"/><circle cx="1432.5" cy="586.9" r="5.4" fill="#92D050"/><circle cx="1433.4" cy="612.7" r="5.4" fill="#92D050"/><circle cx="1433.6" cy="638.5" r="5.4" fill="#92D050"/><circle cx="1433.9" cy="664.4" r="5.4" fill="#92D050"/><circle cx="1434.2" cy="690.2" r="5.4" fill="#92D050"/><circle cx="1434.8" cy="716.0" r="5.4" fill="#92D050"/><circle cx="1435.2" cy="741.8" r="5.4" fill="#92D050"/><circle cx="1436.6" cy="767.7" r="5.4" fill="#92D050"/><circle cx="1436.6" cy="793.5" r="5.4" fill="#92D050"/><circle cx="1436.9" cy="819.3" r="5.4" fill="#92D050"/><circle cx="1437.4" cy="845.1" r="5.4" fill="#92D050"/><circle cx="1437.9" cy="871.0" r="5.4" fill="#92D050"/><circle cx="1438.6" cy="896.8" r="5.4" fill="#92D050"/><circle cx="1439.2" cy="922.6" r="5.4" fill="#92D050"/><circle cx="1440.9" cy="948.4" r="5.4" fill="#92D050"/><circle cx="1441.1" cy="974.3" r="5.4" fill="#92D050"/><circle cx="1441.9" cy="1000.1" r="5.4" fill="#92D050"/><circle cx="1443.1" cy="1025.9" r="5.4" fill="#92D050"/><circle cx="1444.5" cy="1051.8" r="5.4" fill="#92D050"/><circle cx="1444.5" cy="1077.6" r="5.4" fill="#92D050"/><circle cx="1443.7" cy="1103.4" r="5.4" fill="#92D050"/><circle cx="1444.0" cy="1129.2" r="5.4" fill="#92D050"/><circle cx="1444.0" cy="1155.0" r="5.4" fill="#92D050"/><circle cx="1444.1" cy="1180.9" r="5.4" fill="#92D050"/><circle cx="1444.0" cy="1206.7" r="5.4" fill="#92D050"/><circle cx="1443.5" cy="1232.5" r="5.4" fill="#92D050"/><circle cx="1443.3" cy="1258.3" r="5.4" fill="#92D050"/><circle cx="1444.0" cy="1284.2" r="5.4" fill="#92D050"/><circle cx="1443.4" cy="1310.0" r="5.4" fill="#92D050"/><circle cx="1444.5" cy="1335.8" r="5.4" fill="#92D050"/><circle cx="1443.9" cy="1361.6" r="5.4" fill="#92D050"/><circle cx="1443.4" cy="1387.5" r="5.4" fill="#92D050"/><circle cx="1443.8" cy="1413.3" r="5.4" fill="#92D050"/>
<polyline points="1437.9,277.0 1438.2,302.8 1439.2,328.6 1437.0,354.5 1437.0,380.3 1439.3,406.1 1439.1,431.9 1439.8,457.8 1440.3,483.6 1440.0,509.4 1441.1,535.2 1439.7,561.1 1440.8,586.9 1440.2,612.7 1440.1,638.5 1441.9,664.4 1442.1,690.2 1439.9,716.0 1440.7,741.8 1442.1,767.7 1442.9,793.5 1441.4,819.3 1441.9,845.1 1440.9,871.0 1444.6,896.8 1442.9,922.6 1443.5,948.4 1443.5,974.3 1444.0,1000.1 1443.9,1025.9 1443.4,1051.8 1445.0,1077.6 1444.0,1103.4 1445.8,1129.2 1442.8,1155.0 1443.1,1180.9 1444.9,1206.7 1445.8,1232.5 1444.1,1258.3 1442.8,1284.2 1443.7,1310.0 1443.2,1335.8 1446.7,1361.6 1445.2,1387.5 1445.8,1413.3" fill="none" stroke="#984807" stroke-width="3.4" stroke-linejoin="round"/>
<path d="M1437.9 271.4L1443.5 281.5L1432.3 281.5Z" fill="#984807"/><path d="M1438.2 297.2L1443.8 307.3L1432.6 307.3Z" fill="#984807"/><path d="M1439.2 323.0L1444.8 333.1L1433.6 333.1Z" fill="#984807"/><path d="M1437.0 348.9L1442.6 359.0L1431.4 359.0Z" fill="#984807"/><path d="M1437.0 374.7L1442.6 384.8L1431.4 384.8Z" fill="#984807"/><path d="M1439.3 400.5L1444.9 410.6L1433.7 410.6Z" fill="#984807"/><path d="M1439.1 426.3L1444.7 436.4L1433.5 436.4Z" fill="#984807"/><path d="M1439.8 452.2L1445.4 462.3L1434.2 462.3Z" fill="#984807"/><path d="M1440.3 478.0L1445.9 488.1L1434.7 488.1Z" fill="#984807"/><path d="M1440.0 503.8L1445.6 513.9L1434.4 513.9Z" fill="#984807"/><path d="M1441.1 529.6L1446.7 539.7L1435.5 539.7Z" fill="#984807"/><path d="M1439.7 555.5L1445.3 565.6L1434.1 565.6Z" fill="#984807"/><path d="M1440.8 581.3L1446.4 591.4L1435.2 591.4Z" fill="#984807"/><path d="M1440.2 607.1L1445.8 617.2L1434.6 617.2Z" fill="#984807"/><path d="M1440.1 632.9L1445.7 643.0L1434.5 643.0Z" fill="#984807"/><path d="M1441.9 658.8L1447.5 668.9L1436.3 668.9Z" fill="#984807"/><path d="M1442.1 684.6L1447.7 694.7L1436.5 694.7Z" fill="#984807"/><path d="M1439.9 710.4L1445.5 720.5L1434.3 720.5Z" fill="#984807"/><path d="M1440.7 736.2L1446.3 746.3L1435.1 746.3Z" fill="#984807"/><path d="M1442.1 762.1L1447.7 772.2L1436.5 772.2Z" fill="#984807"/><path d="M1442.9 787.9L1448.5 798.0L1437.3 798.0Z" fill="#984807"/><path d="M1441.4 813.7L1447.0 823.8L1435.8 823.8Z" fill="#984807"/><path d="M1441.9 839.5L1447.5 849.6L1436.3 849.6Z" fill="#984807"/><path d="M1440.9 865.4L1446.5 875.5L1435.3 875.5Z" fill="#984807"/><path d="M1444.6 891.2L1450.2 901.3L1439.0 901.3Z" fill="#984807"/><path d="M1442.9 917.0L1448.5 927.1L1437.3 927.1Z" fill="#984807"/><path d="M1443.5 942.8L1449.1 952.9L1437.9 952.9Z" fill="#984807"/><path d="M1443.5 968.7L1449.1 978.8L1437.9 978.8Z" fill="#984807"/><path d="M1444.0 994.5L1449.6 1004.6L1438.4 1004.6Z" fill="#984807"/><path d="M1443.9 1020.3L1449.5 1030.4L1438.3 1030.4Z" fill="#984807"/><path d="M1443.4 1046.2L1449.0 1056.2L1437.8 1056.2Z" fill="#984807"/><path d="M1445.0 1072.0L1450.6 1082.1L1439.4 1082.1Z" fill="#984807"/><path d="M1444.0 1097.8L1449.6 1107.9L1438.4 1107.9Z" fill="#984807"/><path d="M1445.8 1123.6L1451.4 1133.7L1440.2 1133.7Z" fill="#984807"/><path d="M1442.8 1149.5L1448.4 1159.5L1437.2 1159.5Z" fill="#984807"/><path d="M1443.1 1175.3L1448.7 1185.4L1437.5 1185.4Z" fill="#984807"/><path d="M1444.9 1201.1L1450.5 1211.2L1439.3 1211.2Z" fill="#984807"/><path d="M1445.8 1226.9L1451.4 1237.0L1440.2 1237.0Z" fill="#984807"/><path d="M1444.1 1252.8L1449.7 1262.8L1438.5 1262.8Z" fill="#984807"/><path d="M1442.8 1278.6L1448.4 1288.7L1437.2 1288.7Z" fill="#984807"/><path d="M1443.7 1304.4L1449.3 1314.5L1438.1 1314.5Z" fill="#984807"/><path d="M1443.2 1330.2L1448.8 1340.3L1437.6 1340.3Z" fill="#984807"/><path d="M1446.7 1356.0L1452.3 1366.1L1441.1 1366.1Z" fill="#984807"/><path d="M1445.2 1381.9L1450.8 1392.0L1439.6 1392.0Z" fill="#984807"/><path d="M1445.8 1407.7L1451.4 1417.8L1440.2 1417.8Z" fill="#984807"/>
<polyline points="1448.8,277.0 1447.9,302.8 1448.0,328.6 1448.7,354.5 1448.7,380.3 1449.0,406.1 1449.8,431.9 1447.5,457.8 1446.0,483.6 1443.8,509.4 1442.1,535.2 1442.6,561.1 1442.5,586.9 1443.1,612.7 1442.3,638.5 1441.8,664.4 1440.7,690.2 1441.4,716.0 1442.3,741.8 1444.1,767.7 1444.4,793.5 1445.0,819.3 1444.9,845.1 1444.0,871.0 1444.5,896.8 1444.0,922.6 1444.3,948.4 1443.8,974.3 1444.3,1000.1 1443.6,1025.9 1444.3,1051.8 1443.6,1077.6 1443.8,1103.4 1444.3,1129.2 1444.0,1155.0 1443.9,1180.9 1444.3,1206.7 1444.4,1232.5 1443.1,1258.3 1444.2,1284.2 1444.3,1310.0 1443.5,1335.8 1444.1,1361.6 1443.1,1387.5 1444.7,1413.3" fill="none" stroke="#C0504D" stroke-width="3.2" stroke-linejoin="round"/>
<circle cx="1448.8" cy="277.0" r="5.6" fill="#C0504D"/><circle cx="1447.9" cy="302.8" r="5.6" fill="#C0504D"/><circle cx="1448.0" cy="328.6" r="5.6" fill="#C0504D"/><circle cx="1448.7" cy="354.5" r="5.6" fill="#C0504D"/><circle cx="1448.7" cy="380.3" r="5.6" fill="#C0504D"/><circle cx="1449.0" cy="406.1" r="5.6" fill="#C0504D"/><circle cx="1449.8" cy="431.9" r="5.6" fill="#C0504D"/><circle cx="1447.5" cy="457.8" r="5.6" fill="#C0504D"/><circle cx="1446.0" cy="483.6" r="5.6" fill="#C0504D"/><circle cx="1443.8" cy="509.4" r="5.6" fill="#C0504D"/><circle cx="1442.1" cy="535.2" r="5.6" fill="#C0504D"/><circle cx="1442.6" cy="561.1" r="5.6" fill="#C0504D"/><circle cx="1442.5" cy="586.9" r="5.6" fill="#C0504D"/><circle cx="1443.1" cy="612.7" r="5.6" fill="#C0504D"/><circle cx="1442.3" cy="638.5" r="5.6" fill="#C0504D"/><circle cx="1441.8" cy="664.4" r="5.6" fill="#C0504D"/><circle cx="1440.7" cy="690.2" r="5.6" fill="#C0504D"/><circle cx="1441.4" cy="716.0" r="5.6" fill="#C0504D"/><circle cx="1442.3" cy="741.8" r="5.6" fill="#C0504D"/><circle cx="1444.1" cy="767.7" r="5.6" fill="#C0504D"/><circle cx="1444.4" cy="793.5" r="5.6" fill="#C0504D"/><circle cx="1445.0" cy="819.3" r="5.6" fill="#C0504D"/><circle cx="1444.9" cy="845.1" r="5.6" fill="#C0504D"/><circle cx="1444.0" cy="871.0" r="5.6" fill="#C0504D"/><circle cx="1444.5" cy="896.8" r="5.6" fill="#C0504D"/><circle cx="1444.0" cy="922.6" r="5.6" fill="#C0504D"/><circle cx="1444.3" cy="948.4" r="5.6" fill="#C0504D"/><circle cx="1443.8" cy="974.3" r="5.6" fill="#C0504D"/><circle cx="1444.3" cy="1000.1" r="5.6" fill="#C0504D"/><circle cx="1443.6" cy="1025.9" r="5.6" fill="#C0504D"/><circle cx="1444.3" cy="1051.8" r="5.6" fill="#C0504D"/><circle cx="1443.6" cy="1077.6" r="5.6" fill="#C0504D"/><circle cx="1443.8" cy="1103.4" r="5.6" fill="#C0504D"/><circle cx="1444.3" cy="1129.2" r="5.6" fill="#C0504D"/><circle cx="1444.0" cy="1155.0" r="5.6" fill="#C0504D"/><circle cx="1443.9" cy="1180.9" r="5.6" fill="#C0504D"/><circle cx="1444.3" cy="1206.7" r="5.6" fill="#C0504D"/><circle cx="1444.4" cy="1232.5" r="5.6" fill="#C0504D"/><circle cx="1443.1" cy="1258.3" r="5.6" fill="#C0504D"/><circle cx="1444.2" cy="1284.2" r="5.6" fill="#C0504D"/><circle cx="1444.3" cy="1310.0" r="5.6" fill="#C0504D"/><circle cx="1443.5" cy="1335.8" r="5.6" fill="#C0504D"/><circle cx="1444.1" cy="1361.6" r="5.6" fill="#C0504D"/><circle cx="1443.1" cy="1387.5" r="5.6" fill="#C0504D"/><circle cx="1444.7" cy="1413.3" r="5.6" fill="#C0504D"/>
<polyline points="1443.8,277.0 1444.6,302.8 1446.4,328.6 1446.3,354.5 1446.6,380.3 1447.1,406.1 1447.9,431.9 1448.3,457.8 1446.8,483.6 1450.8,509.4 1449.7,535.2 1449.9,561.1 1449.3,586.9 1449.4,612.7 1449.5,638.5 1445.3,664.4 1444.0,690.2 1443.7,716.0 1443.6,741.8 1443.2,767.7 1443.0,793.5 1443.1,819.3 1442.4,845.1 1442.3,871.0 1442.5,896.8 1442.5,922.6 1443.0,948.4 1443.0,974.3 1444.1,1000.1 1443.3,1025.9 1443.4,1051.8 1443.4,1077.6 1444.6,1103.4 1444.1,1129.2 1443.8,1155.0 1443.3,1180.9 1444.1,1206.7 1444.0,1232.5 1443.6,1258.3 1443.2,1284.2 1443.4,1310.0 1444.0,1335.8 1444.0,1361.6 1443.9,1387.5 1443.8,1413.3" fill="none" stroke="#8064A2" stroke-width="3.0" stroke-linejoin="round"/>
<path d="M1443.8 271.4L1449.4 277.0L1443.8 282.6L1438.2 277.0Z" fill="#8064A2"/><path d="M1444.6 297.2L1450.2 302.8L1444.6 308.4L1439.0 302.8Z" fill="#8064A2"/><path d="M1446.4 323.0L1452.0 328.6L1446.4 334.2L1440.8 328.6Z" fill="#8064A2"/><path d="M1446.3 348.9L1451.9 354.5L1446.3 360.1L1440.7 354.5Z" fill="#8064A2"/><path d="M1446.6 374.7L1452.2 380.3L1446.6 385.9L1441.0 380.3Z" fill="#8064A2"/><path d="M1447.1 400.5L1452.7 406.1L1447.1 411.7L1441.5 406.1Z" fill="#8064A2"/><path d="M1447.9 426.3L1453.5 431.9L1447.9 437.6L1442.3 431.9Z" fill="#8064A2"/><path d="M1448.3 452.2L1453.9 457.8L1448.3 463.4L1442.7 457.8Z" fill="#8064A2"/><path d="M1446.8 478.0L1452.4 483.6L1446.8 489.2L1441.2 483.6Z" fill="#8064A2"/><path d="M1450.8 503.8L1456.4 509.4L1450.8 515.0L1445.2 509.4Z" fill="#8064A2"/><path d="M1449.7 529.6L1455.3 535.2L1449.7 540.9L1444.1 535.2Z" fill="#8064A2"/><path d="M1449.9 555.5L1455.5 561.1L1449.9 566.7L1444.3 561.1Z" fill="#8064A2"/><path d="M1449.3 581.3L1454.9 586.9L1449.3 592.5L1443.7 586.9Z" fill="#8064A2"/><path d="M1449.4 607.1L1455.0 612.7L1449.4 618.3L1443.8 612.7Z" fill="#8064A2"/><path d="M1449.5 632.9L1455.1 638.5L1449.5 644.1L1443.9 638.5Z" fill="#8064A2"/><path d="M1445.3 658.8L1450.9 664.4L1445.3 670.0L1439.7 664.4Z" fill="#8064A2"/><path d="M1444.0 684.6L1449.6 690.2L1444.0 695.8L1438.4 690.2Z" fill="#8064A2"/><path d="M1443.7 710.4L1449.3 716.0L1443.7 721.6L1438.1 716.0Z" fill="#8064A2"/><path d="M1443.6 736.2L1449.2 741.8L1443.6 747.4L1438.0 741.8Z" fill="#8064A2"/><path d="M1443.2 762.1L1448.8 767.7L1443.2 773.3L1437.6 767.7Z" fill="#8064A2"/><path d="M1443.0 787.9L1448.6 793.5L1443.0 799.1L1437.4 793.5Z" fill="#8064A2"/><path d="M1443.1 813.7L1448.7 819.3L1443.1 824.9L1437.5 819.3Z" fill="#8064A2"/><path d="M1442.4 839.5L1448.0 845.1L1442.4 850.8L1436.8 845.1Z" fill="#8064A2"/><path d="M1442.3 865.4L1447.9 871.0L1442.3 876.6L1436.7 871.0Z" fill="#8064A2"/><path d="M1442.5 891.2L1448.1 896.8L1442.5 902.4L1436.9 896.8Z" fill="#8064A2"/><path d="M1442.5 917.0L1448.1 922.6L1442.5 928.2L1436.9 922.6Z" fill="#8064A2"/><path d="M1443.0 942.8L1448.6 948.4L1443.0 954.0L1437.4 948.4Z" fill="#8064A2"/><path d="M1443.0 968.7L1448.6 974.3L1443.0 979.9L1437.4 974.3Z" fill="#8064A2"/><path d="M1444.1 994.5L1449.7 1000.1L1444.1 1005.7L1438.5 1000.1Z" fill="#8064A2"/><path d="M1443.3 1020.3L1448.9 1025.9L1443.3 1031.5L1437.7 1025.9Z" fill="#8064A2"/><path d="M1443.4 1046.2L1449.0 1051.8L1443.4 1057.3L1437.8 1051.8Z" fill="#8064A2"/><path d="M1443.4 1072.0L1449.0 1077.6L1443.4 1083.2L1437.8 1077.6Z" fill="#8064A2"/><path d="M1444.6 1097.8L1450.2 1103.4L1444.6 1109.0L1439.0 1103.4Z" fill="#8064A2"/><path d="M1444.1 1123.6L1449.7 1129.2L1444.1 1134.8L1438.5 1129.2Z" fill="#8064A2"/><path d="M1443.8 1149.5L1449.4 1155.0L1443.8 1160.6L1438.2 1155.0Z" fill="#8064A2"/><path d="M1443.3 1175.3L1448.9 1180.9L1443.3 1186.5L1437.7 1180.9Z" fill="#8064A2"/><path d="M1444.1 1201.1L1449.7 1206.7L1444.1 1212.3L1438.5 1206.7Z" fill="#8064A2"/><path d="M1444.0 1226.9L1449.6 1232.5L1444.0 1238.1L1438.4 1232.5Z" fill="#8064A2"/><path d="M1443.6 1252.8L1449.2 1258.3L1443.6 1263.9L1438.0 1258.3Z" fill="#8064A2"/><path d="M1443.2 1278.6L1448.8 1284.2L1443.2 1289.8L1437.6 1284.2Z" fill="#8064A2"/><path d="M1443.4 1304.4L1449.0 1310.0L1443.4 1315.6L1437.8 1310.0Z" fill="#8064A2"/><path d="M1444.0 1330.2L1449.6 1335.8L1444.0 1341.4L1438.4 1335.8Z" fill="#8064A2"/><path d="M1444.0 1356.0L1449.6 1361.6L1444.0 1367.2L1438.4 1361.6Z" fill="#8064A2"/><path d="M1443.9 1381.9L1449.5 1387.5L1443.9 1393.1L1438.3 1387.5Z" fill="#8064A2"/><path d="M1443.8 1407.7L1449.4 1413.3L1443.8 1418.9L1438.2 1413.3Z" fill="#8064A2"/>
<polyline points="1429.4,277.0 1427.9,302.8 1428.1,328.6 1428.8,354.5 1429.3,380.3 1430.6,406.1 1432.2,431.9 1434.2,457.8 1433.7,483.6 1433.0,509.4 1432.0,535.2 1433.2,561.1 1433.7,586.9 1435.2,612.7 1436.0,638.5 1436.4,664.4 1437.0,690.2 1437.5,716.0 1437.1,741.8 1438.6,767.7 1439.6,793.5 1440.0,819.3 1439.6,845.1 1440.2,871.0 1440.1,896.8 1440.1,922.6 1440.2,948.4 1440.2,974.3 1439.4,1000.1 1442.3,1025.9 1444.1,1051.8 1443.8,1077.6 1444.5,1103.4 1444.0,1129.2 1444.5,1155.0 1443.6,1180.9 1443.5,1206.7 1444.4,1232.5 1444.9,1258.3 1444.2,1284.2 1444.3,1310.0 1443.7,1335.8 1443.3,1361.6 1443.8,1387.5 1444.6,1413.3" fill="none" stroke="#669900" stroke-width="3.0" stroke-linejoin="round"/>
<path d="M1429.4 271.8L1434.6 277.0L1429.4 282.2L1424.2 277.0Z" fill="#669900"/><path d="M1427.9 297.6L1433.1 302.8L1427.9 308.0L1422.7 302.8Z" fill="#669900"/><path d="M1428.1 323.4L1433.3 328.6L1428.1 333.8L1422.9 328.6Z" fill="#669900"/><path d="M1428.8 349.3L1434.0 354.5L1428.8 359.7L1423.6 354.5Z" fill="#669900"/><path d="M1429.3 375.1L1434.5 380.3L1429.3 385.5L1424.1 380.3Z" fill="#669900"/><path d="M1430.6 400.9L1435.8 406.1L1430.6 411.3L1425.4 406.1Z" fill="#669900"/><path d="M1432.2 426.8L1437.4 431.9L1432.2 437.1L1427.0 431.9Z" fill="#669900"/><path d="M1434.2 452.6L1439.4 457.8L1434.2 463.0L1429.0 457.8Z" fill="#669900"/><path d="M1433.7 478.4L1438.9 483.6L1433.7 488.8L1428.5 483.6Z" fill="#669900"/><path d="M1433.0 504.2L1438.2 509.4L1433.0 514.6L1427.8 509.4Z" fill="#669900"/><path d="M1432.0 530.0L1437.2 535.2L1432.0 540.5L1426.8 535.2Z" fill="#669900"/><path d="M1433.2 555.9L1438.4 561.1L1433.2 566.3L1428.0 561.1Z" fill="#669900"/><path d="M1433.7 581.7L1438.9 586.9L1433.7 592.1L1428.5 586.9Z" fill="#669900"/><path d="M1435.2 607.5L1440.4 612.7L1435.2 617.9L1430.0 612.7Z" fill="#669900"/><path d="M1436.0 633.3L1441.2 638.5L1436.0 643.8L1430.8 638.5Z" fill="#669900"/><path d="M1436.4 659.2L1441.6 664.4L1436.4 669.6L1431.2 664.4Z" fill="#669900"/><path d="M1437.0 685.0L1442.2 690.2L1437.0 695.4L1431.8 690.2Z" fill="#669900"/><path d="M1437.5 710.8L1442.7 716.0L1437.5 721.2L1432.3 716.0Z" fill="#669900"/><path d="M1437.1 736.6L1442.3 741.8L1437.1 747.0L1431.9 741.8Z" fill="#669900"/><path d="M1438.6 762.5L1443.8 767.7L1438.6 772.9L1433.4 767.7Z" fill="#669900"/><path d="M1439.6 788.3L1444.8 793.5L1439.6 798.7L1434.4 793.5Z" fill="#669900"/><path d="M1440.0 814.1L1445.2 819.3L1440.0 824.5L1434.8 819.3Z" fill="#669900"/><path d="M1439.6 839.9L1444.8 845.1L1439.6 850.4L1434.4 845.1Z" fill="#669900"/><path d="M1440.2 865.8L1445.4 871.0L1440.2 876.2L1435.0 871.0Z" fill="#669900"/><path d="M1440.1 891.6L1445.3 896.8L1440.1 902.0L1434.9 896.8Z" fill="#669900"/><path d="M1440.1 917.4L1445.3 922.6L1440.1 927.8L1434.9 922.6Z" fill="#669900"/><path d="M1440.2 943.2L1445.4 948.4L1440.2 953.6L1435.0 948.4Z" fill="#669900"/><path d="M1440.2 969.1L1445.4 974.3L1440.2 979.5L1435.0 974.3Z" fill="#669900"/><path d="M1439.4 994.9L1444.6 1000.1L1439.4 1005.3L1434.2 1000.1Z" fill="#669900"/><path d="M1442.3 1020.7L1447.5 1025.9L1442.3 1031.1L1437.1 1025.9Z" fill="#669900"/><path d="M1444.1 1046.5L1449.3 1051.8L1444.1 1057.0L1438.9 1051.8Z" fill="#669900"/><path d="M1443.8 1072.4L1449.0 1077.6L1443.8 1082.8L1438.6 1077.6Z" fill="#669900"/><path d="M1444.5 1098.2L1449.7 1103.4L1444.5 1108.6L1439.3 1103.4Z" fill="#669900"/><path d="M1444.0 1124.0L1449.2 1129.2L1444.0 1134.4L1438.8 1129.2Z" fill="#669900"/><path d="M1444.5 1149.8L1449.7 1155.0L1444.5 1160.2L1439.3 1155.0Z" fill="#669900"/><path d="M1443.6 1175.7L1448.8 1180.9L1443.6 1186.1L1438.4 1180.9Z" fill="#669900"/><path d="M1443.5 1201.5L1448.7 1206.7L1443.5 1211.9L1438.3 1206.7Z" fill="#669900"/><path d="M1444.4 1227.3L1449.6 1232.5L1444.4 1237.7L1439.2 1232.5Z" fill="#669900"/><path d="M1444.9 1253.1L1450.1 1258.3L1444.9 1263.5L1439.7 1258.3Z" fill="#669900"/><path d="M1444.2 1279.0L1449.4 1284.2L1444.2 1289.4L1439.0 1284.2Z" fill="#669900"/><path d="M1444.3 1304.8L1449.5 1310.0L1444.3 1315.2L1439.1 1310.0Z" fill="#669900"/><path d="M1443.7 1330.6L1448.9 1335.8L1443.7 1341.0L1438.5 1335.8Z" fill="#669900"/><path d="M1443.3 1356.4L1448.5 1361.6L1443.3 1366.8L1438.1 1361.6Z" fill="#669900"/><path d="M1443.8 1382.3L1449.0 1387.5L1443.8 1392.7L1438.6 1387.5Z" fill="#669900"/><path d="M1444.6 1408.1L1449.8 1413.3L1444.6 1418.5L1439.4 1413.3Z" fill="#669900"/>
<polyline points="1461.6,277.0 1465.1,302.8 1464.4,328.6 1467.1,354.5 1465.7,380.3 1467.1,406.1 1466.4,431.9 1469.7,457.8 1467.5,483.6 1468.4,509.4 1469.2,535.2 1467.5,561.1 1464.7,586.9 1463.1,612.7 1463.8,638.5 1460.3,664.4 1459.4,690.2 1460.3,716.0 1462.0,741.8 1463.1,767.7 1463.1,793.5 1464.2,819.3 1462.3,845.1 1458.7,871.0 1457.0,896.8 1457.0,922.6 1455.9,948.4 1453.5,974.3 1450.4,1000.1 1447.6,1025.9 1444.6,1051.8 1443.9,1077.6 1443.9,1103.4 1443.9,1129.2 1443.9,1155.0 1441.1,1180.9 1439.8,1206.7 1443.0,1232.5 1443.9,1258.3 1443.9,1284.2 1443.9,1310.0 1443.9,1335.8 1443.9,1361.6 1443.9,1387.5 1443.9,1413.3" fill="none" stroke="#000000" stroke-width="4.0" stroke-linejoin="round"/>
<rect x="1453.9" y="269.3" width="15.4" height="15.4" fill="#000000"/><rect x="1457.4" y="295.1" width="15.4" height="15.4" fill="#000000"/><rect x="1456.7" y="320.9" width="15.4" height="15.4" fill="#000000"/><rect x="1459.4" y="346.8" width="15.4" height="15.4" fill="#000000"/><rect x="1458.0" y="372.6" width="15.4" height="15.4" fill="#000000"/><rect x="1459.4" y="398.4" width="15.4" height="15.4" fill="#000000"/><rect x="1458.7" y="424.2" width="15.4" height="15.4" fill="#000000"/><rect x="1462.0" y="450.1" width="15.4" height="15.4" fill="#000000"/><rect x="1459.8" y="475.9" width="15.4" height="15.4" fill="#000000"/><rect x="1460.7" y="501.7" width="15.4" height="15.4" fill="#000000"/><rect x="1461.5" y="527.5" width="15.4" height="15.4" fill="#000000"/><rect x="1459.8" y="553.4" width="15.4" height="15.4" fill="#000000"/><rect x="1457.0" y="579.2" width="15.4" height="15.4" fill="#000000"/><rect x="1455.4" y="605.0" width="15.4" height="15.4" fill="#000000"/><rect x="1456.1" y="630.8" width="15.4" height="15.4" fill="#000000"/><rect x="1452.6" y="656.7" width="15.4" height="15.4" fill="#000000"/><rect x="1451.7" y="682.5" width="15.4" height="15.4" fill="#000000"/><rect x="1452.6" y="708.3" width="15.4" height="15.4" fill="#000000"/><rect x="1454.3" y="734.1" width="15.4" height="15.4" fill="#000000"/><rect x="1455.4" y="760.0" width="15.4" height="15.4" fill="#000000"/><rect x="1455.4" y="785.8" width="15.4" height="15.4" fill="#000000"/><rect x="1456.5" y="811.6" width="15.4" height="15.4" fill="#000000"/><rect x="1454.6" y="837.4" width="15.4" height="15.4" fill="#000000"/><rect x="1451.0" y="863.3" width="15.4" height="15.4" fill="#000000"/><rect x="1449.3" y="889.1" width="15.4" height="15.4" fill="#000000"/><rect x="1449.3" y="914.9" width="15.4" height="15.4" fill="#000000"/><rect x="1448.2" y="940.7" width="15.4" height="15.4" fill="#000000"/><rect x="1445.8" y="966.6" width="15.4" height="15.4" fill="#000000"/><rect x="1442.7" y="992.4" width="15.4" height="15.4" fill="#000000"/><rect x="1439.9" y="1018.2" width="15.4" height="15.4" fill="#000000"/><rect x="1436.9" y="1044.0" width="15.4" height="15.4" fill="#000000"/><rect x="1436.2" y="1069.9" width="15.4" height="15.4" fill="#000000"/><rect x="1436.2" y="1095.7" width="15.4" height="15.4" fill="#000000"/><rect x="1436.2" y="1121.5" width="15.4" height="15.4" fill="#000000"/><rect x="1436.2" y="1147.3" width="15.4" height="15.4" fill="#000000"/><rect x="1433.4" y="1173.2" width="15.4" height="15.4" fill="#000000"/><rect x="1432.1" y="1199.0" width="15.4" height="15.4" fill="#000000"/><rect x="1435.3" y="1224.8" width="15.4" height="15.4" fill="#000000"/><rect x="1436.2" y="1250.6" width="15.4" height="15.4" fill="#000000"/><rect x="1436.2" y="1276.5" width="15.4" height="15.4" fill="#000000"/><rect x="1436.2" y="1302.3" width="15.4" height="15.4" fill="#000000"/><rect x="1436.2" y="1328.1" width="15.4" height="15.4" fill="#000000"/><rect x="1436.2" y="1353.9" width="15.4" height="15.4" fill="#000000"/><rect x="1436.2" y="1379.8" width="15.4" height="15.4" fill="#000000"/><rect x="1436.2" y="1405.6" width="15.4" height="15.4" fill="#000000"/>
<text x="1370.1" y="258.0" font-size="22.3" font-weight="normal" text-anchor="middle" fill="#000" >-4</text>
<text x="1407.0" y="258.0" font-size="22.3" font-weight="normal" text-anchor="middle" fill="#000" >-2</text>
<text x="1443.9" y="258.0" font-size="22.3" font-weight="normal" text-anchor="middle" fill="#000" >0</text>
<text x="1480.8" y="258.0" font-size="22.3" font-weight="normal" text-anchor="middle" fill="#000" >2</text>
<text x="1517.7" y="258.0" font-size="22.3" font-weight="normal" text-anchor="middle" fill="#000" >4</text>
<text x="1554.6" y="258.0" font-size="22.3" font-weight="normal" text-anchor="middle" fill="#000" >6</text>
<text x="1591.5" y="258.0" font-size="22.3" font-weight="normal" text-anchor="middle" fill="#000" >8</text>
<text x="1628.4" y="258.0" font-size="22.3" font-weight="normal" text-anchor="middle" fill="#000" >10</text>
<text x="1665.3" y="258.0" font-size="22.3" font-weight="normal" text-anchor="middle" fill="#000" >12</text>
<text x="1702.2" y="258.0" font-size="22.3" font-weight="normal" text-anchor="middle" fill="#000" >14</text>
<text x="1739.1" y="258.0" font-size="22.3" font-weight="normal" text-anchor="middle" fill="#000" >16</text>
<text x="1776.0" y="258.0" font-size="22.3" font-weight="normal" text-anchor="middle" fill="#000" >18</text>
<text x="1812.9" y="258.0" font-size="22.3" font-weight="normal" text-anchor="middle" fill="#000" >20</text>
<text x="1849.8" y="258.0" font-size="22.3" font-weight="normal" text-anchor="middle" fill="#000" >22</text>
<text x="1886.7" y="258.0" font-size="22.3" font-weight="normal" text-anchor="middle" fill="#000" >24</text>
<text x="1923.6" y="258.0" font-size="22.3" font-weight="normal" text-anchor="middle" fill="#000" >26</text>
<text x="1960.5" y="258.0" font-size="22.3" font-weight="normal" text-anchor="middle" fill="#000" >28</text>
<text x="1997.4" y="258.0" font-size="22.3" font-weight="normal" text-anchor="middle" fill="#000" >30</text>
<text x="2034.3" y="258.0" font-size="22.3" font-weight="normal" text-anchor="middle" fill="#000" >32</text>
<text x="2071.2" y="258.0" font-size="22.3" font-weight="normal" text-anchor="middle" fill="#000" >34</text>
<text x="2108.1" y="258.0" font-size="22.3" font-weight="normal" text-anchor="middle" fill="#000" >36</text>
<text x="1351.6" y="283.8" font-size="22.3" font-weight="normal" text-anchor="end" fill="#000" >0</text>
<text x="1351.6" y="335.4" font-size="22.3" font-weight="normal" text-anchor="end" fill="#000" >1</text>
<text x="1351.6" y="387.1" font-size="22.3" font-weight="normal" text-anchor="end" fill="#000" >2</text>
<text x="1351.6" y="438.8" font-size="22.3" font-weight="normal" text-anchor="end" fill="#000" >3</text>
<text x="1351.6" y="490.4" font-size="22.3" font-weight="normal" text-anchor="end" fill="#000" >4</text>
<text x="1351.6" y="542.0" font-size="22.3" font-weight="normal" text-anchor="end" fill="#000" >5</text>
<text x="1351.6" y="593.7" font-size="22.3" font-weight="normal" text-anchor="end" fill="#000" >6</text>
<text x="1351.6" y="645.3" font-size="22.3" font-weight="normal" text-anchor="end" fill="#000" >7</text>
<text x="1351.6" y="697.0" font-size="22.3" font-weight="normal" text-anchor="end" fill="#000" >8</text>
<text x="1351.6" y="748.6" font-size="22.3" font-weight="normal" text-anchor="end" fill="#000" >9</text>
<text x="1351.6" y="800.3" font-size="22.3" font-weight="normal" text-anchor="end" fill="#000" >10</text>
<text x="1351.6" y="851.9" font-size="22.3" font-weight="normal" text-anchor="end" fill="#000" >11</text>
<text x="1351.6" y="903.6" font-size="22.3" font-weight="normal" text-anchor="end" fill="#000" >12</text>
<text x="1351.6" y="955.2" font-size="22.3" font-weight="normal" text-anchor="end" fill="#000" >13</text>
<text x="1351.6" y="1006.9" font-size="22.3" font-weight="normal" text-anchor="end" fill="#000" >14</text>
<text x="1351.6" y="1058.5" font-size="22.3" font-weight="normal" text-anchor="end" fill="#000" >15</text>
<text x="1351.6" y="1110.2" font-size="22.3" font-weight="normal" text-anchor="end" fill="#000" >16</text>
<text x="1351.6" y="1161.8" font-size="22.3" font-weight="normal" text-anchor="end" fill="#000" >17</text>
<text x="1351.6" y="1213.5" font-size="22.3" font-weight="normal" text-anchor="end" fill="#000" >18</text>
<text x="1351.6" y="1265.1" font-size="22.3" font-weight="normal" text-anchor="end" fill="#000" >19</text>
<text x="1351.6" y="1316.8" font-size="22.3" font-weight="normal" text-anchor="end" fill="#000" >20</text>
<text x="1351.6" y="1368.4" font-size="22.3" font-weight="normal" text-anchor="end" fill="#000" >21</text>
<text x="1351.6" y="1420.1" font-size="22.3" font-weight="normal" text-anchor="end" fill="#000" >22</text>
<line x1="1715.50" y1="301.00" x2="1775.00" y2="301.00" stroke="#993300" stroke-width="3" />
<text x="1781.4" y="312.5" font-size="26.4" font-weight="normal" text-anchor="start" fill="#000" textLength="252.6" lengthAdjust="spacing">Top of capping beam</text>
<text x="1820.5" y="653.2" font-size="25.9" font-weight="normal" text-anchor="start" fill="#000" >Excavation Level</text>
<rect x="1641.00" y="1313.50" width="298.40" height="87.80" fill="#fff" stroke="none" stroke-width="0" />
<text x="1660.2" y="1347.0" font-size="22.2" font-weight="normal" text-anchor="start" fill="#000" >Broken lines indicate</text>
<text x="1660.2" y="1376.4" font-size="22.6" font-weight="normal" text-anchor="start" fill="#000" >range of random error</text>
<line x1="2255.00" y1="172.20" x2="2309.30" y2="172.20" stroke="#FF0000" stroke-width="3" />
<path d="M2282.2 166.4L2288.0 172.2L2282.2 178.0L2276.4 172.2Z" fill="#FF3300" stroke="#FF0000" stroke-width="1"/>
<text x="2314.0" y="179.5" font-size="21.8" font-weight="normal" text-anchor="start" fill="#000" >25-Sep-15</text>
<line x1="2255.00" y1="215.91" x2="2309.30" y2="215.91" stroke="#B3A2C7" stroke-width="3" />
<path d="M2282.2 210.1L2288.0 215.9L2282.2 221.7L2276.4 215.9Z" fill="#B3A2C7"/>
<text x="2314.0" y="223.2" font-size="21.8" font-weight="normal" text-anchor="start" fill="#000" >30-Sep-15</text>
<line x1="2255.00" y1="259.62" x2="2309.30" y2="259.62" stroke="#948A54" stroke-width="3" />
<circle cx="2282.2" cy="259.6" r="5.5" fill="#948A54"/>
<text x="2314.0" y="266.9" font-size="21.8" font-weight="normal" text-anchor="start" fill="#000" >07-Oct-15</text>
<line x1="2255.00" y1="303.33" x2="2309.30" y2="303.33" stroke="#D99694" stroke-width="3" />
<rect x="2277.1" y="298.2" width="10.2" height="10.2" fill="#D99694"/>
<text x="2314.0" y="310.6" font-size="21.8" font-weight="normal" text-anchor="start" fill="#000" >14-Oct-15</text>
<line x1="2255.00" y1="347.04" x2="2309.30" y2="347.04" stroke="#93CDDD" stroke-width="3" />
<path d="M2282.2 341.3L2287.9 351.6L2276.5 351.6Z" fill="#93CDDD"/>
<text x="2314.0" y="354.3" font-size="21.8" font-weight="normal" text-anchor="start" fill="#000" >19-Oct-15</text>
<line x1="2255.00" y1="390.75" x2="2309.30" y2="390.75" stroke="#953735" stroke-width="3" />
<path d="M2282.2 384.9L2288.0 390.8L2282.2 396.6L2276.4 390.8Z" fill="#953735"/>
<text x="2314.0" y="398.1" font-size="21.8" font-weight="normal" text-anchor="start" fill="#000" >26-Oct-15</text>
<line x1="2255.00" y1="434.46" x2="2309.30" y2="434.46" stroke="#00B050" stroke-width="3" />
<rect x="2277.1" y="429.4" width="10.2" height="10.2" fill="#00B050"/>
<text x="2314.0" y="441.8" font-size="21.8" font-weight="normal" text-anchor="start" fill="#000" >04-Nov-15</text>
<line x1="2255.00" y1="478.17" x2="2309.30" y2="478.17" stroke="#F79646" stroke-width="3" />
<path d="M2282.2 472.5L2287.9 482.7L2276.5 482.7Z" fill="#F79646"/>
<text x="2314.0" y="485.5" font-size="21.8" font-weight="normal" text-anchor="start" fill="#000" >13-Nov-15</text>
<line x1="2255.00" y1="521.88" x2="2309.30" y2="521.88" stroke="#7030A0" stroke-width="3" />
<path d="M2282.2 516.1L2288.0 521.9L2282.2 527.7L2276.4 521.9Z" fill="#7030A0"/>
<text x="2314.0" y="529.2" font-size="21.8" font-weight="normal" text-anchor="start" fill="#000" >18-Nov-15</text>
<line x1="2255.00" y1="565.59" x2="2309.30" y2="565.59" stroke="#31859C" stroke-width="3" />
<circle cx="2282.2" cy="565.6" r="5.5" fill="#31859C"/>
<text x="2314.0" y="572.9" font-size="21.8" font-weight="normal" text-anchor="start" fill="#000" >24-Nov-15</text>
<line x1="2255.00" y1="609.30" x2="2309.30" y2="609.30" stroke="#FF00FF" stroke-width="3" />
<rect x="2277.1" y="604.2" width="10.2" height="10.2" fill="#FF00FF"/>
<text x="2314.0" y="616.6" font-size="21.8" font-weight="normal" text-anchor="start" fill="#000" >01-Dec-15</text>
<line x1="2255.00" y1="653.01" x2="2309.30" y2="653.01" stroke="#92D050" stroke-width="3" />
<circle cx="2282.2" cy="653.0" r="5.5" fill="#92D050"/>
<text x="2314.0" y="660.3" font-size="21.8" font-weight="normal" text-anchor="start" fill="#000" >08-Dec-15</text>
<line x1="2255.00" y1="696.72" x2="2309.30" y2="696.72" stroke="#984807" stroke-width="3" />
<path d="M2282.2 691.0L2287.9 701.3L2276.5 701.3Z" fill="#984807"/>
<text x="2314.0" y="704.0" font-size="21.8" font-weight="normal" text-anchor="start" fill="#000" >17-Dec-15</text>
<line x1="2255.00" y1="740.43" x2="2309.30" y2="740.43" stroke="#C0504D" stroke-width="2.2" />
<circle cx="2282.2" cy="740.4" r="5.5" fill="#C0504D"/>
<text x="2314.0" y="747.7" font-size="21.8" font-weight="normal" text-anchor="start" fill="#000" >22-Dec-15</text>
<line x1="2255.00" y1="784.14" x2="2309.30" y2="784.14" stroke="#8064A2" stroke-width="3" />
<path d="M2282.2 778.3L2288.0 784.1L2282.2 789.9L2276.4 784.1Z" fill="#8064A2"/>
<text x="2314.0" y="791.4" font-size="21.8" font-weight="normal" text-anchor="start" fill="#000" >05-Jan-16</text>
<line x1="2255.00" y1="827.85" x2="2309.30" y2="827.85" stroke="#669900" stroke-width="3" />
<path d="M2282.2 822.4L2287.6 827.8L2282.2 833.2L2276.8 827.8Z" fill="#669900"/>
<text x="2314.0" y="835.1" font-size="21.8" font-weight="normal" text-anchor="start" fill="#000" >13-Jan-16</text>
<line x1="2255.00" y1="871.56" x2="2309.30" y2="871.56" stroke="#000000" stroke-width="4.2" />
<rect x="2276.0" y="865.4" width="12.4" height="12.4" fill="#000000"/>
<text x="2314.0" y="878.9" font-size="21.8" font-weight="normal" text-anchor="start" fill="#000" >19-Jan-16</text>
<text x="420.5" y="1478.9" font-size="23.2" font-weight="bold" text-anchor="start" fill="#000" textLength="520.5" lengthAdjust="spacing">Displacement relative to base set of readings</text>
<text x="420.5" y="1512.6" font-size="21.6" font-weight="bold" text-anchor="start" fill="#000" >(x = 0 axis represents profile on 25-09-15)</text>
<text x="420.0" y="1560.9" font-size="21.75" font-weight="bold" text-anchor="start" fill="#000" >Site</text>
<text x="600.0" y="1560.9" font-size="21.75" font-weight="bold" text-anchor="start" fill="#000" >: Your basement</text>
<text x="420.0" y="1593.1" font-size="21.75" font-weight="bold" text-anchor="start" fill="#000" >Inclinometer</text>
<text x="600.0" y="1593.1" font-size="21.75" font-weight="bold" text-anchor="start" fill="#000" >: 1</text>
<text x="420.0" y="1624.4" font-size="21.75" font-weight="bold" text-anchor="start" fill="#000" >Stickup</text>
<text x="600.0" y="1624.4" font-size="21.75" font-weight="bold" text-anchor="start" fill="#000" >: 48cm</text>
<text x="420.0" y="1655.3" font-size="21.75" font-weight="bold" text-anchor="start" fill="#000" >Client</text>
<text x="600.0" y="1655.3" font-size="21.75" font-weight="bold" text-anchor="start" fill="#000" >: Your company name</text>
<text x="1172.3" y="1481.0" font-size="24.8" font-weight="bold" text-anchor="middle" fill="#000" textLength="139.5" lengthAdjust="spacingAndGlyphs">Excavation</text>
<text x="1081.0" y="1525.1" font-size="23.4" font-weight="bold" text-anchor="start" fill="#000" textLength="53.4" lengthAdjust="spacingAndGlyphs">090°</text>
<line x1="1098.70" y1="1555.90" x2="1247.10" y2="1555.90" stroke="#000" stroke-width="6" />
<line x1="1171.3" y1="1513" x2="1171.3" y2="1584" stroke="#808080" stroke-width="4" stroke-dasharray="17 9.5"/>
<line x1="1098.70" y1="1555.90" x2="1247.10" y2="1555.90" stroke="#000" stroke-width="6" />
<path d="M1124.2 1553 C1125 1532 1140 1519 1158 1514.5" fill="none" stroke="#000" stroke-width="2.6"/>
<path d="M1172.5 1512.5 L1153.5 1507.5 L1156.5 1523.5 Z" fill="#000"/>
<line x1="1165.10" y1="1592.30" x2="1177.50" y2="1592.30" stroke="#000" stroke-width="2.6" />
<line x1="1171.30" y1="1586.10" x2="1171.30" y2="1598.50" stroke="#000" stroke-width="2.6" />
<line x1="1224.50" y1="1645.50" x2="1236.90" y2="1645.50" stroke="#000" stroke-width="2.6" />
<line x1="1230.70" y1="1639.30" x2="1230.70" y2="1651.70" stroke="#000" stroke-width="2.6" />
<circle cx="1170.2" cy="1645.5" r="21" fill="none" stroke="#000" stroke-width="4.6"/>
<line x1="1171.30" y1="1608.00" x2="1171.30" y2="1672.00" stroke="#000" stroke-width="3.3" />
<line x1="1142.40" y1="1645.50" x2="1213.00" y2="1645.50" stroke="#000" stroke-width="3.3" />
<path d="M1171.3 1600.5 L1177 1612.5 L1165.6 1612.5 Z" fill="#000"/>
<path d="M1222.3 1645.5 L1210.5 1651.2 L1210.5 1639.8 Z" fill="#000"/>
<rect x="1329.00" y="1544.90" width="109.30" height="7.20" fill="#000" stroke="none" stroke-width="0" />
<rect x="1371.10" y="1506.70" width="6.40" height="117.40" fill="#000" stroke="none" stroke-width="0" />
<rect x="1371.10" y="1506.70" width="31.40" height="6.40" fill="#000" stroke="none" stroke-width="0" />
<rect x="1396.20" y="1506.70" width="6.30" height="89.00" fill="#000" stroke="none" stroke-width="0" />
<rect x="1431.90" y="1544.90" width="6.40" height="82.00" fill="#000" stroke="none" stroke-width="0" />
<line x1="1432.60" y1="1513.00" x2="1432.60" y2="1538.00" stroke="#000" stroke-width="2" />
<path d="M1432.6 1505.8 L1438.3 1517 L1426.9 1517 Z" fill="#000"/>
<path d="M1432.6 1545 L1438.3 1534 L1426.9 1534 Z" fill="#000"/>
<text x="1450.0" y="1529.5" font-size="24.6" font-weight="normal" text-anchor="start" fill="#000" textLength="65.5" lengthAdjust="spacingAndGlyphs">48cm</text>
<g fill="#76C12A" font-size="109" stroke="#fff" stroke-width="1.6">
<text transform="translate(1607.6,1573.2) scale(2.29,1.035)" x="0" y="0">G</text>
<text transform="translate(1776.8,1573.2) scale(2.5,1.07)" x="0" y="0">e</text>
</g>
<ellipse cx="2009.5" cy="1534" rx="76" ry="35.5" fill="none" stroke="#95B06A" stroke-width="0.1"/>
<path fill-rule="evenodd" fill="#95B06A" d="M1925.5 1534 a84 39.2 0 1 0 168 0 a84 39.2 0 1 0 -168 0 Z M1942.5 1534 a67.5 32 0 1 0 135 0 a67.5 32 0 1 0 -135 0 Z"/>
<ellipse cx="2011.5" cy="1534.3" rx="31.5" ry="25" fill="url(#pupil)"/>
<text transform="translate(1622,1606.9) scale(1.2,1)" font-size="27" fill="#2a2222" stroke="#fff" stroke-width="0.4" letter-spacing="2.62">Geotechnical Observations</text>
<line x1="1620.20" y1="1619.70" x2="2089.40" y2="1619.70" stroke="#8DB36A" stroke-width="2.2" />
</svg>
</body></html>
